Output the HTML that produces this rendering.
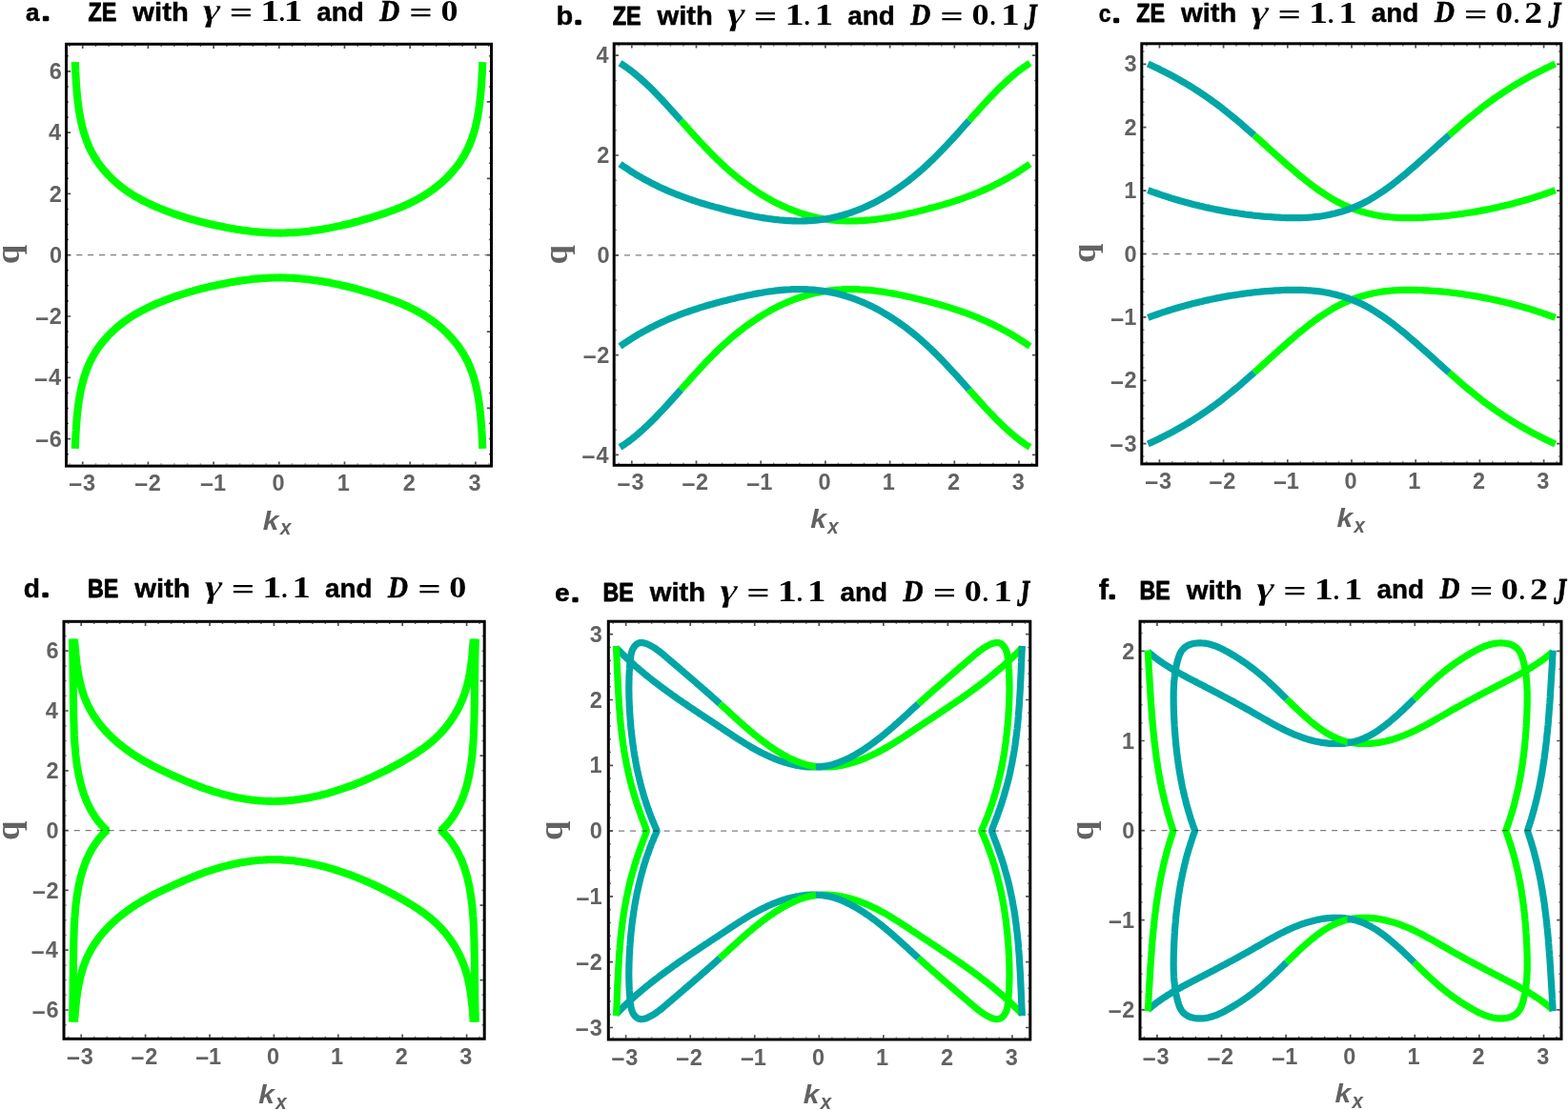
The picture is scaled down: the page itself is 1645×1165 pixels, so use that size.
<!DOCTYPE html>
<html><head><meta charset="utf-8"><title>Figure</title>
<style>html,body{margin:0;padding:0;background:#fff}svg{display:block}text{font-kerning:none;white-space:pre}</style></head><body>
<svg width="1645" height="1165" viewBox="0 0 1645 1165">
<rect width="1645" height="1165" fill="#fff"/>
<g id="panel-a">
<g>
<path d="M78.8 65.1L78.9 67.6L79.0 70.0L79.1 72.5L79.2 75.0L79.4 77.4L79.5 79.9L79.6 82.3L79.8 84.8L79.9 87.3L80.1 89.7L80.3 92.2L80.5 94.7L80.7 97.1L80.9 99.6L81.1 102.0L81.4 104.5L81.7 106.9L82.0 109.4L82.3 111.9L82.7 114.3L83.0 116.7L83.4 119.2L83.9 121.6L84.3 124.1L84.8 126.5L85.3 128.9L85.9 131.3L86.5 133.7L87.1 136.1L87.8 138.5L88.5 140.9L89.3 143.2L90.1 145.5L90.9 147.9L91.8 150.1L92.8 152.4L93.7 154.7L94.8 156.9L95.9 159.1L97.1 161.3L98.3 163.4L99.5 165.5L100.8 167.6L102.2 169.7L103.6 171.7L105.1 173.7L106.6 175.6L108.2 177.6L109.8 179.5L111.4 181.3L113.1 183.2L114.8 185.0L116.5 186.7L118.3 188.4L120.1 190.1L122.0 191.8L123.9 193.4L125.8 195.0L127.7 196.5L129.7 198.0L131.7 199.5L133.7 200.9L135.7 202.3L137.8 203.6L139.9 204.9L142.0 206.2L144.2 207.4L146.3 208.6L148.5 209.8L150.7 210.9L152.9 212.0L155.1 213.1L157.4 214.2L159.6 215.2L161.9 216.2L164.1 217.2L166.4 218.1L168.7 219.1L171.0 220.0L173.3 220.9L175.6 221.8L177.9 222.6L180.2 223.5L182.5 224.3L184.8 225.1L187.2 225.9L189.5 226.7L191.9 227.4L194.2 228.1L196.6 228.9L198.9 229.6L201.3 230.2L203.7 230.9L206.1 231.6L208.5 232.2L210.8 232.8L213.2 233.4L215.6 234.0L218.0 234.6L220.4 235.2L222.9 235.7L225.3 236.3L227.7 236.8L230.1 237.3L232.5 237.8L235.0 238.3L237.4 238.8L239.8 239.2L242.3 239.7L244.7 240.1L247.1 240.5L249.6 240.9L252.0 241.3L254.5 241.7L256.9 242.0L259.4 242.3L261.8 242.6L264.3 242.9L266.8 243.2L269.2 243.4L271.7 243.6L274.1 243.8L276.6 244.0L279.0 244.1L281.5 244.3L284.0 244.4L286.4 244.5L288.9 244.5L291.3 244.5L293.8 244.6L296.3 244.5L298.7 244.5L301.2 244.4L303.6 244.3L306.1 244.2L308.6 244.1L311.0 243.9L313.5 243.7L315.9 243.5L318.4 243.3L320.8 243.0L323.3 242.8L325.7 242.5L328.2 242.1L330.6 241.8L333.0 241.4L335.5 241.1L337.9 240.7L340.3 240.3L342.8 239.8L345.2 239.4L347.6 238.9L350.1 238.4L352.5 237.9L354.9 237.4L357.3 236.9L359.7 236.3L362.2 235.8L364.6 235.2L367.0 234.6L369.4 234.0L371.8 233.3L374.2 232.7L376.6 232.1L379.0 231.4L381.3 230.7L383.7 230.0L386.1 229.3L388.5 228.6L390.9 227.9L393.2 227.2L395.6 226.4L398.0 225.7L400.3 224.9L402.7 224.1L405.0 223.3L407.3 222.5L409.6 221.7L412.0 220.8L414.3 220.0L416.6 219.1L418.8 218.2L421.1 217.2L423.4 216.3L425.6 215.3L427.9 214.3L430.1 213.2L432.3 212.1L434.5 211.0L436.6 209.9L438.8 208.7L440.9 207.5L443.1 206.3L445.2 205.0L447.2 203.7L449.3 202.3L451.3 200.9L453.4 199.5L455.4 198.0L457.3 196.5L459.3 195.0L461.2 193.4L463.1 191.8L464.9 190.1L466.8 188.4L468.6 186.7L470.3 184.9L472.0 183.1L473.7 181.3L475.3 179.4L476.9 177.5L478.5 175.6L480.0 173.7L481.5 171.7L482.9 169.6L484.2 167.6L485.6 165.5L486.8 163.4L488.0 161.2L489.2 159.1L490.3 156.9L491.4 154.6L492.4 152.4L493.3 150.1L494.2 147.8L495.1 145.5L495.9 143.2L496.6 140.9L497.4 138.5L498.0 136.1L498.7 133.7L499.2 131.3L499.8 128.9L500.3 126.5L500.8 124.1L501.3 121.7L501.7 119.2L502.1 116.8L502.4 114.3L502.8 111.9L503.1 109.4L503.4 107.0L503.7 104.5L503.9 102.0L504.2 99.6L504.4 97.1L504.6 94.6L504.8 92.2L505.0 89.7L505.2 87.3L505.3 84.8L505.5 82.3L505.6 79.9L505.8 77.4L505.9 75.0L506.0 72.5L506.1 70.0L506.2 67.6L506.3 65.1" fill="none" stroke="#00ff00" stroke-width="8.10" stroke-linejoin="round" stroke-linecap="butt" stroke-miterlimit="10"/>
<path d="M78.8 470.9L78.9 468.4L79.0 466.0L79.1 463.5L79.2 461.0L79.4 458.6L79.5 456.1L79.6 453.7L79.8 451.2L79.9 448.7L80.1 446.3L80.3 443.8L80.5 441.3L80.7 438.9L80.9 436.4L81.1 434.0L81.4 431.5L81.7 429.1L82.0 426.6L82.3 424.1L82.7 421.7L83.0 419.3L83.4 416.8L83.9 414.4L84.3 411.9L84.8 409.5L85.3 407.1L85.9 404.7L86.5 402.3L87.1 399.9L87.8 397.5L88.5 395.1L89.3 392.8L90.1 390.5L90.9 388.1L91.8 385.9L92.8 383.6L93.7 381.3L94.8 379.1L95.9 376.9L97.1 374.7L98.3 372.6L99.5 370.5L100.8 368.4L102.2 366.3L103.6 364.3L105.1 362.3L106.6 360.4L108.2 358.4L109.8 356.5L111.4 354.7L113.1 352.8L114.8 351.0L116.5 349.3L118.3 347.6L120.1 345.9L122.0 344.2L123.9 342.6L125.8 341.0L127.7 339.5L129.7 338.0L131.7 336.5L133.7 335.1L135.7 333.7L137.8 332.4L139.9 331.1L142.0 329.8L144.2 328.6L146.3 327.4L148.5 326.2L150.7 325.1L152.9 324.0L155.1 322.9L157.4 321.8L159.6 320.8L161.9 319.8L164.1 318.8L166.4 317.9L168.7 316.9L171.0 316.0L173.3 315.1L175.6 314.2L177.9 313.4L180.2 312.5L182.5 311.7L184.8 310.9L187.2 310.1L189.5 309.3L191.9 308.6L194.2 307.9L196.6 307.1L198.9 306.4L201.3 305.8L203.7 305.1L206.1 304.4L208.5 303.8L210.8 303.2L213.2 302.6L215.6 302.0L218.0 301.4L220.4 300.8L222.9 300.3L225.3 299.7L227.7 299.2L230.1 298.7L232.5 298.2L235.0 297.7L237.4 297.2L239.8 296.8L242.3 296.3L244.7 295.9L247.1 295.5L249.6 295.1L252.0 294.7L254.5 294.3L256.9 294.0L259.4 293.7L261.8 293.4L264.3 293.1L266.8 292.8L269.2 292.6L271.7 292.4L274.1 292.2L276.6 292.0L279.0 291.9L281.5 291.7L284.0 291.6L286.4 291.5L288.9 291.5L291.3 291.5L293.8 291.4L296.3 291.5L298.7 291.5L301.2 291.6L303.6 291.7L306.1 291.8L308.6 291.9L311.0 292.1L313.5 292.3L315.9 292.5L318.4 292.7L320.8 293.0L323.3 293.2L325.7 293.5L328.2 293.9L330.6 294.2L333.0 294.6L335.5 294.9L337.9 295.3L340.3 295.7L342.8 296.2L345.2 296.6L347.6 297.1L350.1 297.6L352.5 298.1L354.9 298.6L357.3 299.1L359.7 299.7L362.2 300.2L364.6 300.8L367.0 301.4L369.4 302.0L371.8 302.7L374.2 303.3L376.6 303.9L379.0 304.6L381.3 305.3L383.7 306.0L386.1 306.7L388.5 307.4L390.9 308.1L393.2 308.8L395.6 309.6L398.0 310.3L400.3 311.1L402.7 311.9L405.0 312.7L407.3 313.5L409.6 314.3L412.0 315.2L414.3 316.0L416.6 316.9L418.8 317.8L421.1 318.8L423.4 319.7L425.6 320.7L427.9 321.7L430.1 322.8L432.3 323.9L434.5 325.0L436.6 326.1L438.8 327.3L440.9 328.5L443.1 329.7L445.2 331.0L447.2 332.3L449.3 333.7L451.3 335.1L453.4 336.5L455.4 338.0L457.3 339.5L459.3 341.0L461.2 342.6L463.1 344.2L464.9 345.9L466.8 347.6L468.6 349.3L470.3 351.1L472.0 352.9L473.7 354.7L475.3 356.6L476.9 358.5L478.5 360.4L480.0 362.3L481.5 364.3L482.9 366.4L484.2 368.4L485.6 370.5L486.8 372.6L488.0 374.8L489.2 376.9L490.3 379.1L491.4 381.4L492.4 383.6L493.3 385.9L494.2 388.2L495.1 390.5L495.9 392.8L496.6 395.1L497.4 397.5L498.0 399.9L498.7 402.3L499.2 404.7L499.8 407.1L500.3 409.5L500.8 411.9L501.3 414.3L501.7 416.8L502.1 419.2L502.4 421.7L502.8 424.1L503.1 426.6L503.4 429.0L503.7 431.5L503.9 434.0L504.2 436.4L504.4 438.9L504.6 441.4L504.8 443.8L505.0 446.3L505.2 448.7L505.3 451.2L505.5 453.7L505.6 456.1L505.8 458.6L505.9 461.0L506.0 463.5L506.1 466.0L506.2 468.4L506.3 470.9" fill="none" stroke="#00ff00" stroke-width="8.10" stroke-linejoin="round" stroke-linecap="butt" stroke-miterlimit="10"/>
</g>
<path d="M68.30 267.70H514.00" stroke="#000" stroke-opacity="0.5" stroke-width="1.3" stroke-dasharray="6.1 5.8" fill="none"/>
<path d="M86.70 487.60L86.70 484.40M86.70 47.80L86.70 51.00M155.40 487.60L155.40 484.40M155.40 47.80L155.40 51.00M224.10 487.60L224.10 484.40M224.10 47.80L224.10 51.00M292.80 487.60L292.80 484.40M292.80 47.80L292.80 51.00M361.50 487.60L361.50 484.40M361.50 47.80L361.50 51.00M430.20 487.60L430.20 484.40M430.20 47.80L430.20 51.00M498.90 487.60L498.90 484.40M498.90 47.80L498.90 51.00M71.00 460.60L74.20 460.60M514.00 428.45L510.80 428.45M71.00 396.30L74.20 396.30M514.00 348.07L510.80 348.07M71.00 332.00L74.20 332.00M71.00 267.70L74.20 267.70M514.00 267.70L510.80 267.70M71.00 203.40L74.20 203.40M514.00 187.32L510.80 187.32M71.00 139.10L74.20 139.10M514.00 106.95L510.80 106.95M71.00 74.80L74.20 74.80" stroke="#505050" stroke-width="1.7" fill="none"/>
<path d="M72.96 487.60L72.96 486.50M72.96 47.80L72.96 48.90M100.44 487.60L100.44 486.50M100.44 47.80L100.44 48.90M114.18 487.60L114.18 486.50M114.18 47.80L114.18 48.90M127.92 487.60L127.92 486.50M127.92 47.80L127.92 48.90M141.66 487.60L141.66 486.50M141.66 47.80L141.66 48.90M169.14 487.60L169.14 486.50M169.14 47.80L169.14 48.90M182.88 487.60L182.88 486.50M182.88 47.80L182.88 48.90M196.62 487.60L196.62 486.50M196.62 47.80L196.62 48.90M210.36 487.60L210.36 486.50M210.36 47.80L210.36 48.90M237.84 487.60L237.84 486.50M237.84 47.80L237.84 48.90M251.58 487.60L251.58 486.50M251.58 47.80L251.58 48.90M265.32 487.60L265.32 486.50M265.32 47.80L265.32 48.90M279.06 487.60L279.06 486.50M279.06 47.80L279.06 48.90M306.54 487.60L306.54 486.50M306.54 47.80L306.54 48.90M320.28 487.60L320.28 486.50M320.28 47.80L320.28 48.90M334.02 487.60L334.02 486.50M334.02 47.80L334.02 48.90M347.76 487.60L347.76 486.50M347.76 47.80L347.76 48.90M375.24 487.60L375.24 486.50M375.24 47.80L375.24 48.90M388.98 487.60L388.98 486.50M388.98 47.80L388.98 48.90M402.72 487.60L402.72 486.50M402.72 47.80L402.72 48.90M416.46 487.60L416.46 486.50M416.46 47.80L416.46 48.90M443.94 487.60L443.94 486.50M443.94 47.80L443.94 48.90M457.68 487.60L457.68 486.50M457.68 47.80L457.68 48.90M471.42 487.60L471.42 486.50M471.42 47.80L471.42 48.90M485.16 487.60L485.16 486.50M485.16 47.80L485.16 48.90M512.64 487.60L512.64 486.50M512.64 47.80L512.64 48.90M71.00 476.67L72.10 476.67M514.00 476.67L512.90 476.67M514.00 460.60L512.90 460.60M71.00 444.52L72.10 444.52M514.00 444.52L512.90 444.52M71.00 428.45L72.10 428.45M71.00 412.38L72.10 412.38M514.00 412.38L512.90 412.38M514.00 396.30L512.90 396.30M71.00 380.22L72.10 380.22M514.00 380.22L512.90 380.22M71.00 364.15L72.10 364.15M514.00 364.15L512.90 364.15M71.00 348.07L72.10 348.07M514.00 332.00L512.90 332.00M71.00 315.92L72.10 315.92M514.00 315.92L512.90 315.92M71.00 299.85L72.10 299.85M514.00 299.85L512.90 299.85M71.00 283.77L72.10 283.77M514.00 283.77L512.90 283.77M71.00 251.62L72.10 251.62M514.00 251.62L512.90 251.62M71.00 235.55L72.10 235.55M514.00 235.55L512.90 235.55M71.00 219.47L72.10 219.47M514.00 219.47L512.90 219.47M514.00 203.40L512.90 203.40M71.00 187.32L72.10 187.32M71.00 171.25L72.10 171.25M514.00 171.25L512.90 171.25M71.00 155.18L72.10 155.18M514.00 155.18L512.90 155.18M514.00 139.10L512.90 139.10M71.00 123.03L72.10 123.03M514.00 123.03L512.90 123.03M71.00 106.95L72.10 106.95M71.00 90.88L72.10 90.88M514.00 90.88L512.90 90.88M514.00 74.80L512.90 74.80M71.00 58.72L72.10 58.72M514.00 58.72L512.90 58.72" stroke="#666" stroke-width="1.5" fill="none"/>
<rect x="69.50" y="46.30" width="446.00" height="442.80" fill="none" stroke="#000" stroke-width="3.00"/>
<text><tspan x="71.99" y="517.21" textLength="14.32" lengthAdjust="spacingAndGlyphs" font-family="'Liberation Sans',sans-serif" font-weight="bold" font-style="normal" font-size="24.69" fill="#626262">−</tspan><tspan x="87.07" y="514.70" font-family="'Liberation Sans',sans-serif" font-weight="bold" font-style="normal" font-size="23.50" fill="#626262">3</tspan></text>
<text><tspan x="140.88" y="517.21" textLength="14.32" lengthAdjust="spacingAndGlyphs" font-family="'Liberation Sans',sans-serif" font-weight="bold" font-style="normal" font-size="24.69" fill="#626262">−</tspan><tspan x="155.68" y="514.70" font-family="'Liberation Sans',sans-serif" font-weight="bold" font-style="normal" font-size="23.50" fill="#626262">2</tspan></text>
<text><tspan x="209.76" y="517.21" textLength="14.32" lengthAdjust="spacingAndGlyphs" font-family="'Liberation Sans',sans-serif" font-weight="bold" font-style="normal" font-size="24.69" fill="#626262">−</tspan><tspan x="223.90" y="514.70" font-family="'Liberation Sans',sans-serif" font-weight="bold" font-style="normal" font-size="23.50" fill="#626262">1</tspan></text>
<text><tspan x="285.38" y="514.70" font-family="'Liberation Sans',sans-serif" font-weight="bold" font-style="normal" font-size="23.50" fill="#626262">0</tspan></text>
<text><tspan x="353.65" y="514.70" font-family="'Liberation Sans',sans-serif" font-weight="bold" font-style="normal" font-size="23.50" fill="#626262">1</tspan></text>
<text><tspan x="422.83" y="514.70" font-family="'Liberation Sans',sans-serif" font-weight="bold" font-style="normal" font-size="23.50" fill="#626262">2</tspan></text>
<text><tspan x="491.62" y="514.70" font-family="'Liberation Sans',sans-serif" font-weight="bold" font-style="normal" font-size="23.50" fill="#626262">3</tspan></text>
<text><tspan x="37.02" y="471.26" textLength="14.32" lengthAdjust="spacingAndGlyphs" font-family="'Liberation Sans',sans-serif" font-weight="bold" font-style="normal" font-size="24.69" fill="#626262">−</tspan><tspan x="51.78" y="468.75" font-family="'Liberation Sans',sans-serif" font-weight="bold" font-style="normal" font-size="23.50" fill="#626262">6</tspan></text>
<text><tspan x="35.79" y="406.96" textLength="14.32" lengthAdjust="spacingAndGlyphs" font-family="'Liberation Sans',sans-serif" font-weight="bold" font-style="normal" font-size="24.69" fill="#626262">−</tspan><tspan x="51.06" y="404.45" font-family="'Liberation Sans',sans-serif" font-weight="bold" font-style="normal" font-size="23.50" fill="#626262">4</tspan></text>
<text><tspan x="37.07" y="342.66" textLength="14.32" lengthAdjust="spacingAndGlyphs" font-family="'Liberation Sans',sans-serif" font-weight="bold" font-style="normal" font-size="24.69" fill="#626262">−</tspan><tspan x="51.87" y="340.15" font-family="'Liberation Sans',sans-serif" font-weight="bold" font-style="normal" font-size="23.50" fill="#626262">2</tspan></text>
<text><tspan x="51.89" y="275.85" font-family="'Liberation Sans',sans-serif" font-weight="bold" font-style="normal" font-size="23.50" fill="#626262">0</tspan></text>
<text><tspan x="51.87" y="211.55" font-family="'Liberation Sans',sans-serif" font-weight="bold" font-style="normal" font-size="23.50" fill="#626262">2</tspan></text>
<text><tspan x="51.06" y="147.25" font-family="'Liberation Sans',sans-serif" font-weight="bold" font-style="normal" font-size="23.50" fill="#626262">4</tspan></text>
<text><tspan x="51.78" y="82.95" font-family="'Liberation Sans',sans-serif" font-weight="bold" font-style="normal" font-size="23.50" fill="#626262">6</tspan></text>
</g>
<g id="panel-b">
<g>
<path d="M714.4 126.6L715.3 127.7L718.0 130.7L720.7 133.7L723.4 136.7L726.1 139.8L728.8 142.7L731.6 145.7L734.3 148.7L737.0 151.6L739.7 154.5L742.4 157.3L745.1 160.1L747.8 162.8L750.5 165.5L753.2 168.2L755.9 170.7L758.6 173.3L761.3 175.7L764.0 178.1L766.7 180.5L769.4 182.8L772.1 185.0L774.8 187.2L777.5 189.3L780.2 191.4L782.9 193.4L785.7 195.4L788.4 197.3L791.1 199.1L793.8 201.0L796.5 202.7L799.2 204.4L801.9 206.0L804.6 207.6L807.3 209.2L810.0 210.7L812.7 212.1L815.4 213.5L818.1 214.8L820.8 216.1L823.5 217.3L826.2 218.5L828.9 219.6L831.6 220.7L834.3 221.7L837.0 222.7L839.8 223.6L842.5 224.5L845.2 225.3L847.9 226.1L850.6 226.8L853.3 227.5L856.0 228.1L858.7 228.7L861.4 229.2L864.1 229.7L866.8 230.1L869.5 230.5L872.2 230.8L874.9 231.1L877.6 231.4L880.3 231.6L883.0 231.7L885.7 231.9L888.4 231.9L891.1 232.0L893.9 232.0L896.6 231.9L899.3 231.9L902.0 231.7L904.7 231.6L907.4 231.4L910.1 231.2L912.8 231.0L915.5 230.7L918.2 230.4L920.9 230.0L923.6 229.7L926.3 229.3L929.0 228.9L931.7 228.4L934.4 228.0L937.1 227.5L939.8 227.0L942.5 226.4L945.2 225.9L948.0 225.3L950.7 224.7L953.4 224.1L956.1 223.5L958.8 222.9L961.5 222.2L964.2 221.6L966.9 220.9L969.6 220.2L972.3 219.5L975.0 218.8L977.7 218.1L980.4 217.4L983.1 216.6L985.8 215.9L988.5 215.1L991.2 214.3L993.9 213.5L996.6 212.7L999.3 211.8L1002.1 210.9L1004.8 210.0L1007.5 209.1L1010.2 208.1L1012.9 207.2L1015.6 206.2L1018.3 205.2L1021.0 204.1L1023.7 203.0L1026.4 201.9L1029.1 200.8L1031.8 199.6L1034.5 198.4L1037.2 197.2L1039.9 195.9L1042.6 194.6L1045.3 193.2L1048.0 191.9L1050.7 190.4L1053.4 189.0L1056.2 187.5L1058.9 185.9L1061.6 184.4L1064.3 182.8L1067.0 181.1L1069.7 179.4L1072.4 177.6L1075.1 175.8L1077.8 174.0L1080.5 172.1" fill="none" stroke="#00ff00" stroke-width="7.20" stroke-linejoin="round" stroke-linecap="butt" stroke-miterlimit="10"/>
<path d="M1080.6 66.2L1077.9 67.9L1075.2 69.7L1072.5 71.6L1069.8 73.6L1067.1 75.7L1064.4 77.9L1061.7 80.2L1059.0 82.5L1056.3 85.0L1053.5 87.5L1050.8 90.1L1048.1 92.7L1045.4 95.4L1042.7 98.2L1040.0 101.0L1037.3 103.8L1034.6 106.7L1031.9 109.6L1029.2 112.6L1026.5 115.6L1023.8 118.6L1021.1 121.6L1018.4 124.6L1016.6 126.6" fill="none" stroke="#00ff00" stroke-width="7.20" stroke-linejoin="round" stroke-linecap="butt" stroke-miterlimit="10"/>
<path d="M714.4 409.0L715.3 407.9L718.0 404.9L720.7 401.9L723.4 398.9L726.1 395.8L728.8 392.9L731.6 389.9L734.3 386.9L737.0 384.0L739.7 381.1L742.4 378.3L745.1 375.5L747.8 372.8L750.5 370.1L753.2 367.4L755.9 364.9L758.6 362.3L761.3 359.9L764.0 357.5L766.7 355.1L769.4 352.8L772.1 350.6L774.8 348.4L777.5 346.3L780.2 344.2L782.9 342.2L785.7 340.2L788.4 338.3L791.1 336.5L793.8 334.6L796.5 332.9L799.2 331.2L801.9 329.6L804.6 328.0L807.3 326.4L810.0 324.9L812.7 323.5L815.4 322.1L818.1 320.8L820.8 319.5L823.5 318.3L826.2 317.1L828.9 316.0L831.6 314.9L834.3 313.9L837.0 312.9L839.8 312.0L842.5 311.1L845.2 310.3L847.9 309.5L850.6 308.8L853.3 308.1L856.0 307.5L858.7 306.9L861.4 306.4L864.1 305.9L866.8 305.5L869.5 305.1L872.2 304.8L874.9 304.5L877.6 304.2L880.3 304.0L883.0 303.9L885.7 303.7L888.4 303.7L891.1 303.6L893.9 303.6L896.6 303.7L899.3 303.7L902.0 303.9L904.7 304.0L907.4 304.2L910.1 304.4L912.8 304.6L915.5 304.9L918.2 305.2L920.9 305.6L923.6 305.9L926.3 306.3L929.0 306.7L931.7 307.2L934.4 307.6L937.1 308.1L939.8 308.6L942.5 309.2L945.2 309.7L948.0 310.3L950.7 310.9L953.4 311.5L956.1 312.1L958.8 312.7L961.5 313.4L964.2 314.0L966.9 314.7L969.6 315.4L972.3 316.1L975.0 316.8L977.7 317.5L980.4 318.2L983.1 319.0L985.8 319.7L988.5 320.5L991.2 321.3L993.9 322.1L996.6 322.9L999.3 323.8L1002.1 324.7L1004.8 325.6L1007.5 326.5L1010.2 327.5L1012.9 328.4L1015.6 329.4L1018.3 330.4L1021.0 331.5L1023.7 332.6L1026.4 333.7L1029.1 334.8L1031.8 336.0L1034.5 337.2L1037.2 338.4L1039.9 339.7L1042.6 341.0L1045.3 342.4L1048.0 343.7L1050.7 345.2L1053.4 346.6L1056.2 348.1L1058.9 349.7L1061.6 351.2L1064.3 352.8L1067.0 354.5L1069.7 356.2L1072.4 358.0L1075.1 359.8L1077.8 361.6L1080.5 363.5" fill="none" stroke="#00ff00" stroke-width="7.20" stroke-linejoin="round" stroke-linecap="butt" stroke-miterlimit="10"/>
<path d="M1080.6 469.4L1077.9 467.7L1075.2 465.9L1072.5 464.0L1069.8 462.0L1067.1 459.9L1064.4 457.7L1061.7 455.4L1059.0 453.1L1056.3 450.6L1053.5 448.1L1050.8 445.5L1048.1 442.9L1045.4 440.2L1042.7 437.4L1040.0 434.6L1037.3 431.8L1034.6 428.9L1031.9 426.0L1029.2 423.0L1026.5 420.0L1023.8 417.0L1021.1 414.0L1018.4 411.0L1016.6 409.0" fill="none" stroke="#00ff00" stroke-width="7.20" stroke-linejoin="round" stroke-linecap="butt" stroke-miterlimit="10"/>
<path d="M650.4 66.2L653.1 67.9L655.8 69.7L658.5 71.6L661.2 73.6L663.9 75.7L666.6 77.9L669.3 80.2L672.0 82.5L674.7 85.0L677.5 87.5L680.2 90.1L682.9 92.7L685.6 95.4L688.3 98.2L691.0 101.0L693.7 103.8L696.4 106.7L699.1 109.6L701.8 112.6L704.5 115.6L707.2 118.6L709.9 121.6L712.6 124.6L714.4 126.6" fill="none" stroke="#00a6a6" stroke-width="7.20" stroke-linejoin="round" stroke-linecap="butt" stroke-miterlimit="10"/>
<path d="M1016.6 126.6L1015.7 127.7L1013.0 130.7L1010.3 133.7L1007.6 136.7L1004.9 139.8L1002.2 142.7L999.4 145.7L996.7 148.7L994.0 151.6L991.3 154.5L988.6 157.3L985.9 160.1L983.2 162.8L980.5 165.5L977.8 168.2L975.1 170.7L972.4 173.3L969.7 175.7L967.0 178.1L964.3 180.5L961.6 182.8L958.9 185.0L956.2 187.2L953.5 189.3L950.8 191.4L948.1 193.4L945.3 195.4L942.6 197.3L939.9 199.1L937.2 201.0L934.5 202.7L931.8 204.4L929.1 206.0L926.4 207.6L923.7 209.2L921.0 210.7L918.3 212.1L915.6 213.5L912.9 214.8L910.2 216.1L907.5 217.3L904.8 218.5L902.1 219.6L899.4 220.7L896.7 221.7L894.0 222.7L891.2 223.6L888.5 224.5L885.8 225.3L883.1 226.1L880.4 226.8L877.7 227.5L875.0 228.1L872.3 228.7L869.6 229.2L866.9 229.7L864.2 230.1L861.5 230.5L858.8 230.8L856.1 231.1L853.4 231.4L850.7 231.6L848.0 231.7L845.3 231.9L842.6 231.9L839.9 232.0L837.1 232.0L834.4 231.9L831.7 231.9L829.0 231.7L826.3 231.6L823.6 231.4L820.9 231.2L818.2 231.0L815.5 230.7L812.8 230.4L810.1 230.0L807.4 229.7L804.7 229.3L802.0 228.9L799.3 228.4L796.6 228.0L793.9 227.5L791.2 227.0L788.5 226.4L785.8 225.9L783.0 225.3L780.3 224.7L777.6 224.1L774.9 223.5L772.2 222.9L769.5 222.2L766.8 221.6L764.1 220.9L761.4 220.2L758.7 219.5L756.0 218.8L753.3 218.1L750.6 217.4L747.9 216.6L745.2 215.9L742.5 215.1L739.8 214.3L737.1 213.5L734.4 212.7L731.7 211.8L728.9 210.9L726.2 210.0L723.5 209.1L720.8 208.1L718.1 207.2L715.4 206.2L712.7 205.2L710.0 204.1L707.3 203.0L704.6 201.9L701.9 200.8L699.2 199.6L696.5 198.4L693.8 197.2L691.1 195.9L688.4 194.6L685.7 193.2L683.0 191.9L680.3 190.4L677.6 189.0L674.8 187.5L672.1 185.9L669.4 184.4L666.7 182.8L664.0 181.1L661.3 179.4L658.6 177.6L655.9 175.8L653.2 174.0L650.5 172.1" fill="none" stroke="#00a6a6" stroke-width="7.20" stroke-linejoin="round" stroke-linecap="butt" stroke-miterlimit="10"/>
<path d="M650.4 469.4L653.1 467.7L655.8 465.9L658.5 464.0L661.2 462.0L663.9 459.9L666.6 457.7L669.3 455.4L672.0 453.1L674.7 450.6L677.5 448.1L680.2 445.5L682.9 442.9L685.6 440.2L688.3 437.4L691.0 434.6L693.7 431.8L696.4 428.9L699.1 426.0L701.8 423.0L704.5 420.0L707.2 417.0L709.9 414.0L712.6 411.0L714.4 409.0" fill="none" stroke="#00a6a6" stroke-width="7.20" stroke-linejoin="round" stroke-linecap="butt" stroke-miterlimit="10"/>
<path d="M1016.6 409.0L1015.7 407.9L1013.0 404.9L1010.3 401.9L1007.6 398.9L1004.9 395.8L1002.2 392.9L999.4 389.9L996.7 386.9L994.0 384.0L991.3 381.1L988.6 378.3L985.9 375.5L983.2 372.8L980.5 370.1L977.8 367.4L975.1 364.9L972.4 362.3L969.7 359.9L967.0 357.5L964.3 355.1L961.6 352.8L958.9 350.6L956.2 348.4L953.5 346.3L950.8 344.2L948.1 342.2L945.3 340.2L942.6 338.3L939.9 336.5L937.2 334.6L934.5 332.9L931.8 331.2L929.1 329.6L926.4 328.0L923.7 326.4L921.0 324.9L918.3 323.5L915.6 322.1L912.9 320.8L910.2 319.5L907.5 318.3L904.8 317.1L902.1 316.0L899.4 314.9L896.7 313.9L894.0 312.9L891.2 312.0L888.5 311.1L885.8 310.3L883.1 309.5L880.4 308.8L877.7 308.1L875.0 307.5L872.3 306.9L869.6 306.4L866.9 305.9L864.2 305.5L861.5 305.1L858.8 304.8L856.1 304.5L853.4 304.2L850.7 304.0L848.0 303.9L845.3 303.7L842.6 303.7L839.9 303.6L837.1 303.6L834.4 303.7L831.7 303.7L829.0 303.9L826.3 304.0L823.6 304.2L820.9 304.4L818.2 304.6L815.5 304.9L812.8 305.2L810.1 305.6L807.4 305.9L804.7 306.3L802.0 306.7L799.3 307.2L796.6 307.6L793.9 308.1L791.2 308.6L788.5 309.2L785.8 309.7L783.0 310.3L780.3 310.9L777.6 311.5L774.9 312.1L772.2 312.7L769.5 313.4L766.8 314.0L764.1 314.7L761.4 315.4L758.7 316.1L756.0 316.8L753.3 317.5L750.6 318.2L747.9 319.0L745.2 319.7L742.5 320.5L739.8 321.3L737.1 322.1L734.4 322.9L731.7 323.8L728.9 324.7L726.2 325.6L723.5 326.5L720.8 327.5L718.1 328.4L715.4 329.4L712.7 330.4L710.0 331.5L707.3 332.6L704.6 333.7L701.9 334.8L699.2 336.0L696.5 337.2L693.8 338.4L691.1 339.7L688.4 341.0L685.7 342.4L683.0 343.7L680.3 345.2L677.6 346.6L674.8 348.1L672.1 349.7L669.4 351.2L666.7 352.8L664.0 354.5L661.3 356.2L658.6 358.0L655.9 359.8L653.2 361.6L650.5 363.5" fill="none" stroke="#00a6a6" stroke-width="7.20" stroke-linejoin="round" stroke-linecap="butt" stroke-miterlimit="10"/>
</g>
<path d="M643.00 267.80H1086.20" stroke="#000" stroke-opacity="0.5" stroke-width="1.3" stroke-dasharray="6.1 5.8" fill="none"/>
<path d="M662.80 486.80L662.80 483.60M662.80 47.40L662.80 50.60M730.50 486.80L730.50 483.60M730.50 47.40L730.50 50.60M798.20 486.80L798.20 483.60M798.20 47.40L798.20 50.60M865.90 486.80L865.90 483.60M865.90 47.40L865.90 50.60M933.60 486.80L933.60 483.60M933.60 47.40L933.60 50.60M1001.30 486.80L1001.30 483.60M1001.30 47.40L1001.30 50.60M1069.00 486.80L1069.00 483.60M1069.00 47.40L1069.00 50.60M645.70 477.40L648.90 477.40M1086.20 477.40L1083.00 477.40M645.70 372.60L648.90 372.60M1086.20 372.60L1083.00 372.60M645.70 267.80L648.90 267.80M1086.20 267.80L1083.00 267.80M645.70 163.00L648.90 163.00M1086.20 163.00L1083.00 163.00M645.70 58.20L648.90 58.20M1086.20 58.20L1083.00 58.20" stroke="#505050" stroke-width="1.7" fill="none"/>
<path d="M649.26 486.80L649.26 485.70M649.26 47.40L649.26 48.50M676.34 486.80L676.34 485.70M676.34 47.40L676.34 48.50M689.88 486.80L689.88 485.70M689.88 47.40L689.88 48.50M703.42 486.80L703.42 485.70M703.42 47.40L703.42 48.50M716.96 486.80L716.96 485.70M716.96 47.40L716.96 48.50M744.04 486.80L744.04 485.70M744.04 47.40L744.04 48.50M757.58 486.80L757.58 485.70M757.58 47.40L757.58 48.50M771.12 486.80L771.12 485.70M771.12 47.40L771.12 48.50M784.66 486.80L784.66 485.70M784.66 47.40L784.66 48.50M811.74 486.80L811.74 485.70M811.74 47.40L811.74 48.50M825.28 486.80L825.28 485.70M825.28 47.40L825.28 48.50M838.82 486.80L838.82 485.70M838.82 47.40L838.82 48.50M852.36 486.80L852.36 485.70M852.36 47.40L852.36 48.50M879.44 486.80L879.44 485.70M879.44 47.40L879.44 48.50M892.98 486.80L892.98 485.70M892.98 47.40L892.98 48.50M906.52 486.80L906.52 485.70M906.52 47.40L906.52 48.50M920.06 486.80L920.06 485.70M920.06 47.40L920.06 48.50M947.14 486.80L947.14 485.70M947.14 47.40L947.14 48.50M960.68 486.80L960.68 485.70M960.68 47.40L960.68 48.50M974.22 486.80L974.22 485.70M974.22 47.40L974.22 48.50M987.76 486.80L987.76 485.70M987.76 47.40L987.76 48.50M1014.84 486.80L1014.84 485.70M1014.84 47.40L1014.84 48.50M1028.38 486.80L1028.38 485.70M1028.38 47.40L1028.38 48.50M1041.92 486.80L1041.92 485.70M1041.92 47.40L1041.92 48.50M1055.46 486.80L1055.46 485.70M1055.46 47.40L1055.46 48.50M1082.54 486.80L1082.54 485.70M1082.54 47.40L1082.54 48.50M645.70 451.20L646.80 451.20M1086.20 451.20L1085.10 451.20M645.70 425.00L646.80 425.00M1086.20 425.00L1085.10 425.00M645.70 398.80L646.80 398.80M1086.20 398.80L1085.10 398.80M645.70 346.40L646.80 346.40M1086.20 346.40L1085.10 346.40M645.70 320.20L646.80 320.20M1086.20 320.20L1085.10 320.20M645.70 294.00L646.80 294.00M1086.20 294.00L1085.10 294.00M645.70 241.60L646.80 241.60M1086.20 241.60L1085.10 241.60M645.70 215.40L646.80 215.40M1086.20 215.40L1085.10 215.40M645.70 189.20L646.80 189.20M1086.20 189.20L1085.10 189.20M645.70 136.80L646.80 136.80M1086.20 136.80L1085.10 136.80M645.70 110.60L646.80 110.60M1086.20 110.60L1085.10 110.60M645.70 84.40L646.80 84.40M1086.20 84.40L1085.10 84.40" stroke="#666" stroke-width="1.5" fill="none"/>
<rect x="644.20" y="45.90" width="443.50" height="442.40" fill="none" stroke="#000" stroke-width="3.00"/>
<text><tspan x="647.34" y="516.61" textLength="14.32" lengthAdjust="spacingAndGlyphs" font-family="'Liberation Sans',sans-serif" font-weight="bold" font-style="normal" font-size="24.69" fill="#626262">−</tspan><tspan x="662.42" y="514.10" font-family="'Liberation Sans',sans-serif" font-weight="bold" font-style="normal" font-size="23.50" fill="#626262">3</tspan></text>
<text><tspan x="715.23" y="516.61" textLength="14.32" lengthAdjust="spacingAndGlyphs" font-family="'Liberation Sans',sans-serif" font-weight="bold" font-style="normal" font-size="24.69" fill="#626262">−</tspan><tspan x="730.03" y="514.10" font-family="'Liberation Sans',sans-serif" font-weight="bold" font-style="normal" font-size="23.50" fill="#626262">2</tspan></text>
<text><tspan x="783.11" y="516.61" textLength="14.32" lengthAdjust="spacingAndGlyphs" font-family="'Liberation Sans',sans-serif" font-weight="bold" font-style="normal" font-size="24.69" fill="#626262">−</tspan><tspan x="797.25" y="514.10" font-family="'Liberation Sans',sans-serif" font-weight="bold" font-style="normal" font-size="23.50" fill="#626262">1</tspan></text>
<text><tspan x="858.48" y="514.10" font-family="'Liberation Sans',sans-serif" font-weight="bold" font-style="normal" font-size="23.50" fill="#626262">0</tspan></text>
<text><tspan x="925.75" y="514.10" font-family="'Liberation Sans',sans-serif" font-weight="bold" font-style="normal" font-size="23.50" fill="#626262">1</tspan></text>
<text><tspan x="993.93" y="514.10" font-family="'Liberation Sans',sans-serif" font-weight="bold" font-style="normal" font-size="23.50" fill="#626262">2</tspan></text>
<text><tspan x="1061.72" y="514.10" font-family="'Liberation Sans',sans-serif" font-weight="bold" font-style="normal" font-size="23.50" fill="#626262">3</tspan></text>
<text><tspan x="610.29" y="488.06" textLength="14.32" lengthAdjust="spacingAndGlyphs" font-family="'Liberation Sans',sans-serif" font-weight="bold" font-style="normal" font-size="24.69" fill="#626262">−</tspan><tspan x="625.56" y="485.55" font-family="'Liberation Sans',sans-serif" font-weight="bold" font-style="normal" font-size="23.50" fill="#626262">4</tspan></text>
<text><tspan x="611.57" y="383.26" textLength="14.32" lengthAdjust="spacingAndGlyphs" font-family="'Liberation Sans',sans-serif" font-weight="bold" font-style="normal" font-size="24.69" fill="#626262">−</tspan><tspan x="626.37" y="380.75" font-family="'Liberation Sans',sans-serif" font-weight="bold" font-style="normal" font-size="23.50" fill="#626262">2</tspan></text>
<text><tspan x="626.39" y="275.95" font-family="'Liberation Sans',sans-serif" font-weight="bold" font-style="normal" font-size="23.50" fill="#626262">0</tspan></text>
<text><tspan x="626.37" y="171.15" font-family="'Liberation Sans',sans-serif" font-weight="bold" font-style="normal" font-size="23.50" fill="#626262">2</tspan></text>
<text><tspan x="625.56" y="66.35" font-family="'Liberation Sans',sans-serif" font-weight="bold" font-style="normal" font-size="23.50" fill="#626262">4</tspan></text>
</g>
<g id="panel-c">
<g>
<path d="M1315.7 141.9L1317.2 143.2L1319.9 145.6L1322.6 148.0L1325.3 150.5L1328.0 152.9L1330.6 155.3L1333.3 157.7L1336.0 160.2L1338.7 162.6L1341.4 165.0L1344.1 167.4L1346.8 169.8L1349.5 172.2L1352.1 174.5L1354.8 176.8L1357.5 179.1L1360.2 181.4L1362.9 183.7L1365.6 185.9L1368.3 188.0L1371.0 190.2L1373.6 192.3L1376.3 194.3L1379.0 196.3L1381.7 198.3L1384.4 200.2L1387.1 202.0L1389.8 203.8L1392.5 205.5L1395.2 207.2L1397.8 208.8L1400.5 210.3L1403.2 211.8L1405.9 213.2L1408.6 214.5L1411.3 215.7L1414.0 216.9L1416.7 218.0L1419.3 219.0L1422.0 220.0L1424.7 220.9L1427.4 221.8L1430.1 222.6L1432.8 223.3L1435.5 224.0L1438.2 224.6L1440.8 225.2L1443.5 225.8L1446.2 226.2L1448.9 226.7L1451.6 227.1L1454.3 227.4L1457.0 227.7L1459.7 228.0L1462.4 228.2L1465.0 228.3L1467.7 228.5L1470.4 228.6L1473.1 228.7L1475.8 228.7L1478.5 228.7L1481.2 228.7L1483.9 228.7L1486.5 228.6L1489.2 228.5L1491.9 228.4L1494.6 228.2L1497.3 228.1L1500.0 227.9L1502.7 227.7L1505.4 227.5L1508.0 227.3L1510.7 227.1L1513.4 226.8L1516.1 226.5L1518.8 226.3L1521.5 226.0L1524.2 225.6L1526.9 225.3L1529.6 225.0L1532.2 224.6L1534.9 224.2L1537.6 223.8L1540.3 223.4L1543.0 223.0L1545.7 222.6L1548.4 222.1L1551.1 221.6L1553.7 221.1L1556.4 220.6L1559.1 220.1L1561.8 219.6L1564.5 219.0L1567.2 218.4L1569.9 217.9L1572.6 217.3L1575.3 216.6L1577.9 216.0L1580.6 215.3L1583.3 214.7L1586.0 214.0L1588.7 213.3L1591.4 212.6L1594.1 211.8L1596.8 211.1L1599.4 210.3L1602.1 209.5L1604.8 208.7L1607.5 207.9L1610.2 207.0L1612.9 206.1L1615.6 205.3L1618.3 204.4L1620.9 203.5L1623.6 202.5L1626.3 201.6L1629.0 200.6L1631.7 199.6" fill="none" stroke="#00ff00" stroke-width="7.20" stroke-linejoin="round" stroke-linecap="butt" stroke-miterlimit="10"/>
<path d="M1631.7 67.0L1629.0 68.2L1626.3 69.5L1623.6 70.7L1620.9 72.0L1618.3 73.4L1615.6 74.7L1612.9 76.1L1610.2 77.5L1607.5 78.9L1604.8 80.3L1602.1 81.8L1599.4 83.3L1596.8 84.8L1594.1 86.4L1591.4 88.0L1588.7 89.6L1586.0 91.3L1583.3 93.0L1580.6 94.7L1577.9 96.4L1575.3 98.2L1572.6 100.0L1569.9 101.9L1567.2 103.8L1564.5 105.7L1561.8 107.6L1559.1 109.6L1556.4 111.7L1553.7 113.7L1551.1 115.9L1548.4 118.0L1545.7 120.2L1543.0 122.4L1540.3 124.6L1537.6 126.8L1534.9 129.1L1532.2 131.4L1529.6 133.7L1526.9 136.1L1524.2 138.4L1521.5 140.8L1520.3 141.9" fill="none" stroke="#00ff00" stroke-width="7.20" stroke-linejoin="round" stroke-linecap="butt" stroke-miterlimit="10"/>
<path d="M1315.7 391.1L1317.2 389.8L1319.9 387.4L1322.6 385.0L1325.3 382.5L1328.0 380.1L1330.6 377.7L1333.3 375.3L1336.0 372.8L1338.7 370.4L1341.4 368.0L1344.1 365.6L1346.8 363.2L1349.5 360.8L1352.1 358.5L1354.8 356.2L1357.5 353.9L1360.2 351.6L1362.9 349.3L1365.6 347.1L1368.3 345.0L1371.0 342.8L1373.6 340.7L1376.3 338.7L1379.0 336.7L1381.7 334.7L1384.4 332.8L1387.1 331.0L1389.8 329.2L1392.5 327.5L1395.2 325.8L1397.8 324.2L1400.5 322.7L1403.2 321.2L1405.9 319.8L1408.6 318.5L1411.3 317.3L1414.0 316.1L1416.7 315.0L1419.3 314.0L1422.0 313.0L1424.7 312.1L1427.4 311.2L1430.1 310.4L1432.8 309.7L1435.5 309.0L1438.2 308.4L1440.8 307.8L1443.5 307.2L1446.2 306.8L1448.9 306.3L1451.6 305.9L1454.3 305.6L1457.0 305.3L1459.7 305.0L1462.4 304.8L1465.0 304.7L1467.7 304.5L1470.4 304.4L1473.1 304.3L1475.8 304.3L1478.5 304.3L1481.2 304.3L1483.9 304.3L1486.5 304.4L1489.2 304.5L1491.9 304.6L1494.6 304.8L1497.3 304.9L1500.0 305.1L1502.7 305.3L1505.4 305.5L1508.0 305.7L1510.7 305.9L1513.4 306.2L1516.1 306.5L1518.8 306.7L1521.5 307.0L1524.2 307.4L1526.9 307.7L1529.6 308.0L1532.2 308.4L1534.9 308.8L1537.6 309.2L1540.3 309.6L1543.0 310.0L1545.7 310.4L1548.4 310.9L1551.1 311.4L1553.7 311.9L1556.4 312.4L1559.1 312.9L1561.8 313.4L1564.5 314.0L1567.2 314.6L1569.9 315.1L1572.6 315.7L1575.3 316.4L1577.9 317.0L1580.6 317.7L1583.3 318.3L1586.0 319.0L1588.7 319.7L1591.4 320.4L1594.1 321.2L1596.8 321.9L1599.4 322.7L1602.1 323.5L1604.8 324.3L1607.5 325.1L1610.2 326.0L1612.9 326.9L1615.6 327.7L1618.3 328.6L1620.9 329.5L1623.6 330.5L1626.3 331.4L1629.0 332.4L1631.7 333.4" fill="none" stroke="#00ff00" stroke-width="7.20" stroke-linejoin="round" stroke-linecap="butt" stroke-miterlimit="10"/>
<path d="M1631.7 466.0L1629.0 464.8L1626.3 463.5L1623.6 462.3L1620.9 461.0L1618.3 459.6L1615.6 458.3L1612.9 456.9L1610.2 455.5L1607.5 454.1L1604.8 452.7L1602.1 451.2L1599.4 449.7L1596.8 448.2L1594.1 446.6L1591.4 445.0L1588.7 443.4L1586.0 441.7L1583.3 440.0L1580.6 438.3L1577.9 436.6L1575.3 434.8L1572.6 433.0L1569.9 431.1L1567.2 429.2L1564.5 427.3L1561.8 425.4L1559.1 423.4L1556.4 421.3L1553.7 419.3L1551.1 417.1L1548.4 415.0L1545.7 412.8L1543.0 410.6L1540.3 408.4L1537.6 406.2L1534.9 403.9L1532.2 401.6L1529.6 399.3L1526.9 396.9L1524.2 394.6L1521.5 392.2L1520.3 391.1" fill="none" stroke="#00ff00" stroke-width="7.20" stroke-linejoin="round" stroke-linecap="butt" stroke-miterlimit="10"/>
<path d="M1204.3 67.0L1207.0 68.2L1209.7 69.5L1212.4 70.7L1215.1 72.0L1217.7 73.4L1220.4 74.7L1223.1 76.1L1225.8 77.5L1228.5 78.9L1231.2 80.3L1233.9 81.8L1236.6 83.3L1239.2 84.8L1241.9 86.4L1244.6 88.0L1247.3 89.6L1250.0 91.3L1252.7 93.0L1255.4 94.7L1258.1 96.4L1260.7 98.2L1263.4 100.0L1266.1 101.9L1268.8 103.8L1271.5 105.7L1274.2 107.6L1276.9 109.6L1279.6 111.7L1282.3 113.7L1284.9 115.9L1287.6 118.0L1290.3 120.2L1293.0 122.4L1295.7 124.6L1298.4 126.8L1301.1 129.1L1303.8 131.4L1306.4 133.7L1309.1 136.1L1311.8 138.4L1314.5 140.8L1315.7 141.9" fill="none" stroke="#00a6a6" stroke-width="7.20" stroke-linejoin="round" stroke-linecap="butt" stroke-miterlimit="10"/>
<path d="M1520.3 141.9L1518.8 143.2L1516.1 145.6L1513.4 148.0L1510.7 150.5L1508.0 152.9L1505.4 155.3L1502.7 157.7L1500.0 160.2L1497.3 162.6L1494.6 165.0L1491.9 167.4L1489.2 169.8L1486.5 172.2L1483.9 174.5L1481.2 176.8L1478.5 179.1L1475.8 181.4L1473.1 183.7L1470.4 185.9L1467.7 188.0L1465.0 190.2L1462.4 192.3L1459.7 194.3L1457.0 196.3L1454.3 198.3L1451.6 200.2L1448.9 202.0L1446.2 203.8L1443.5 205.5L1440.8 207.2L1438.2 208.8L1435.5 210.3L1432.8 211.8L1430.1 213.2L1427.4 214.5L1424.7 215.7L1422.0 216.9L1419.3 218.0L1416.7 219.0L1414.0 220.0L1411.3 220.9L1408.6 221.8L1405.9 222.6L1403.2 223.3L1400.5 224.0L1397.8 224.6L1395.2 225.2L1392.5 225.8L1389.8 226.2L1387.1 226.7L1384.4 227.1L1381.7 227.4L1379.0 227.7L1376.3 228.0L1373.6 228.2L1371.0 228.3L1368.3 228.5L1365.6 228.6L1362.9 228.7L1360.2 228.7L1357.5 228.7L1354.8 228.7L1352.1 228.7L1349.5 228.6L1346.8 228.5L1344.1 228.4L1341.4 228.2L1338.7 228.1L1336.0 227.9L1333.3 227.7L1330.6 227.5L1328.0 227.3L1325.3 227.1L1322.6 226.8L1319.9 226.5L1317.2 226.3L1314.5 226.0L1311.8 225.6L1309.1 225.3L1306.4 225.0L1303.8 224.6L1301.1 224.2L1298.4 223.8L1295.7 223.4L1293.0 223.0L1290.3 222.6L1287.6 222.1L1284.9 221.6L1282.3 221.1L1279.6 220.6L1276.9 220.1L1274.2 219.6L1271.5 219.0L1268.8 218.4L1266.1 217.9L1263.4 217.3L1260.7 216.6L1258.1 216.0L1255.4 215.3L1252.7 214.7L1250.0 214.0L1247.3 213.3L1244.6 212.6L1241.9 211.8L1239.2 211.1L1236.6 210.3L1233.9 209.5L1231.2 208.7L1228.5 207.9L1225.8 207.0L1223.1 206.1L1220.4 205.3L1217.7 204.4L1215.1 203.5L1212.4 202.5L1209.7 201.6L1207.0 200.6L1204.3 199.6" fill="none" stroke="#00a6a6" stroke-width="7.20" stroke-linejoin="round" stroke-linecap="butt" stroke-miterlimit="10"/>
<path d="M1204.3 466.0L1207.0 464.8L1209.7 463.5L1212.4 462.3L1215.1 461.0L1217.7 459.6L1220.4 458.3L1223.1 456.9L1225.8 455.5L1228.5 454.1L1231.2 452.7L1233.9 451.2L1236.6 449.7L1239.2 448.2L1241.9 446.6L1244.6 445.0L1247.3 443.4L1250.0 441.7L1252.7 440.0L1255.4 438.3L1258.1 436.6L1260.7 434.8L1263.4 433.0L1266.1 431.1L1268.8 429.2L1271.5 427.3L1274.2 425.4L1276.9 423.4L1279.6 421.3L1282.3 419.3L1284.9 417.1L1287.6 415.0L1290.3 412.8L1293.0 410.6L1295.7 408.4L1298.4 406.2L1301.1 403.9L1303.8 401.6L1306.4 399.3L1309.1 396.9L1311.8 394.6L1314.5 392.2L1315.7 391.1" fill="none" stroke="#00a6a6" stroke-width="7.20" stroke-linejoin="round" stroke-linecap="butt" stroke-miterlimit="10"/>
<path d="M1520.3 391.1L1518.8 389.8L1516.1 387.4L1513.4 385.0L1510.7 382.5L1508.0 380.1L1505.4 377.7L1502.7 375.3L1500.0 372.8L1497.3 370.4L1494.6 368.0L1491.9 365.6L1489.2 363.2L1486.5 360.8L1483.9 358.5L1481.2 356.2L1478.5 353.9L1475.8 351.6L1473.1 349.3L1470.4 347.1L1467.7 345.0L1465.0 342.8L1462.4 340.7L1459.7 338.7L1457.0 336.7L1454.3 334.7L1451.6 332.8L1448.9 331.0L1446.2 329.2L1443.5 327.5L1440.8 325.8L1438.2 324.2L1435.5 322.7L1432.8 321.2L1430.1 319.8L1427.4 318.5L1424.7 317.3L1422.0 316.1L1419.3 315.0L1416.7 314.0L1414.0 313.0L1411.3 312.1L1408.6 311.2L1405.9 310.4L1403.2 309.7L1400.5 309.0L1397.8 308.4L1395.2 307.8L1392.5 307.2L1389.8 306.8L1387.1 306.3L1384.4 305.9L1381.7 305.6L1379.0 305.3L1376.3 305.0L1373.6 304.8L1371.0 304.7L1368.3 304.5L1365.6 304.4L1362.9 304.3L1360.2 304.3L1357.5 304.3L1354.8 304.3L1352.1 304.3L1349.5 304.4L1346.8 304.5L1344.1 304.6L1341.4 304.8L1338.7 304.9L1336.0 305.1L1333.3 305.3L1330.6 305.5L1328.0 305.7L1325.3 305.9L1322.6 306.2L1319.9 306.5L1317.2 306.7L1314.5 307.0L1311.8 307.4L1309.1 307.7L1306.4 308.0L1303.8 308.4L1301.1 308.8L1298.4 309.2L1295.7 309.6L1293.0 310.0L1290.3 310.4L1287.6 310.9L1284.9 311.4L1282.3 311.9L1279.6 312.4L1276.9 312.9L1274.2 313.4L1271.5 314.0L1268.8 314.6L1266.1 315.1L1263.4 315.7L1260.7 316.4L1258.1 317.0L1255.4 317.7L1252.7 318.3L1250.0 319.0L1247.3 319.7L1244.6 320.4L1241.9 321.2L1239.2 321.9L1236.6 322.7L1233.9 323.5L1231.2 324.3L1228.5 325.1L1225.8 326.0L1223.1 326.9L1220.4 327.7L1217.7 328.6L1215.1 329.5L1212.4 330.5L1209.7 331.4L1207.0 332.4L1204.3 333.4" fill="none" stroke="#00a6a6" stroke-width="7.20" stroke-linejoin="round" stroke-linecap="butt" stroke-miterlimit="10"/>
</g>
<path d="M1196.60 266.50H1636.30" stroke="#000" stroke-opacity="0.5" stroke-width="1.3" stroke-dasharray="6.1 5.8" fill="none"/>
<path d="M1216.40 485.40L1216.40 482.20M1216.40 47.30L1216.40 50.50M1283.60 485.40L1283.60 482.20M1283.60 47.30L1283.60 50.50M1350.80 485.40L1350.80 482.20M1350.80 47.30L1350.80 50.50M1418.00 485.40L1418.00 482.20M1418.00 47.30L1418.00 50.50M1485.20 485.40L1485.20 482.20M1485.20 47.30L1485.20 50.50M1552.40 485.40L1552.40 482.20M1552.40 47.30L1552.40 50.50M1619.60 485.40L1619.60 482.20M1619.60 47.30L1619.60 50.50M1199.30 465.70L1202.50 465.70M1636.30 465.70L1633.10 465.70M1199.30 399.30L1202.50 399.30M1636.30 399.30L1633.10 399.30M1199.30 332.90L1202.50 332.90M1636.30 332.90L1633.10 332.90M1199.30 266.50L1202.50 266.50M1636.30 266.50L1633.10 266.50M1199.30 200.10L1202.50 200.10M1636.30 200.10L1633.10 200.10M1199.30 133.70L1202.50 133.70M1636.30 133.70L1633.10 133.70M1199.30 67.30L1202.50 67.30M1636.30 67.30L1633.10 67.30" stroke="#505050" stroke-width="1.7" fill="none"/>
<path d="M1202.96 485.40L1202.96 484.30M1202.96 47.30L1202.96 48.40M1229.84 485.40L1229.84 484.30M1229.84 47.30L1229.84 48.40M1243.28 485.40L1243.28 484.30M1243.28 47.30L1243.28 48.40M1256.72 485.40L1256.72 484.30M1256.72 47.30L1256.72 48.40M1270.16 485.40L1270.16 484.30M1270.16 47.30L1270.16 48.40M1297.04 485.40L1297.04 484.30M1297.04 47.30L1297.04 48.40M1310.48 485.40L1310.48 484.30M1310.48 47.30L1310.48 48.40M1323.92 485.40L1323.92 484.30M1323.92 47.30L1323.92 48.40M1337.36 485.40L1337.36 484.30M1337.36 47.30L1337.36 48.40M1364.24 485.40L1364.24 484.30M1364.24 47.30L1364.24 48.40M1377.68 485.40L1377.68 484.30M1377.68 47.30L1377.68 48.40M1391.12 485.40L1391.12 484.30M1391.12 47.30L1391.12 48.40M1404.56 485.40L1404.56 484.30M1404.56 47.30L1404.56 48.40M1431.44 485.40L1431.44 484.30M1431.44 47.30L1431.44 48.40M1444.88 485.40L1444.88 484.30M1444.88 47.30L1444.88 48.40M1458.32 485.40L1458.32 484.30M1458.32 47.30L1458.32 48.40M1471.76 485.40L1471.76 484.30M1471.76 47.30L1471.76 48.40M1498.64 485.40L1498.64 484.30M1498.64 47.30L1498.64 48.40M1512.08 485.40L1512.08 484.30M1512.08 47.30L1512.08 48.40M1525.52 485.40L1525.52 484.30M1525.52 47.30L1525.52 48.40M1538.96 485.40L1538.96 484.30M1538.96 47.30L1538.96 48.40M1565.84 485.40L1565.84 484.30M1565.84 47.30L1565.84 48.40M1579.28 485.40L1579.28 484.30M1579.28 47.30L1579.28 48.40M1592.72 485.40L1592.72 484.30M1592.72 47.30L1592.72 48.40M1606.16 485.40L1606.16 484.30M1606.16 47.30L1606.16 48.40M1633.04 485.40L1633.04 484.30M1633.04 47.30L1633.04 48.40M1199.30 478.98L1200.40 478.98M1636.30 478.98L1635.20 478.98M1199.30 452.42L1200.40 452.42M1636.30 452.42L1635.20 452.42M1199.30 439.14L1200.40 439.14M1636.30 439.14L1635.20 439.14M1199.30 425.86L1200.40 425.86M1636.30 425.86L1635.20 425.86M1199.30 412.58L1200.40 412.58M1636.30 412.58L1635.20 412.58M1199.30 386.02L1200.40 386.02M1636.30 386.02L1635.20 386.02M1199.30 372.74L1200.40 372.74M1636.30 372.74L1635.20 372.74M1199.30 359.46L1200.40 359.46M1636.30 359.46L1635.20 359.46M1199.30 346.18L1200.40 346.18M1636.30 346.18L1635.20 346.18M1199.30 319.62L1200.40 319.62M1636.30 319.62L1635.20 319.62M1199.30 306.34L1200.40 306.34M1636.30 306.34L1635.20 306.34M1199.30 293.06L1200.40 293.06M1636.30 293.06L1635.20 293.06M1199.30 279.78L1200.40 279.78M1636.30 279.78L1635.20 279.78M1199.30 253.22L1200.40 253.22M1636.30 253.22L1635.20 253.22M1199.30 239.94L1200.40 239.94M1636.30 239.94L1635.20 239.94M1199.30 226.66L1200.40 226.66M1636.30 226.66L1635.20 226.66M1199.30 213.38L1200.40 213.38M1636.30 213.38L1635.20 213.38M1199.30 186.82L1200.40 186.82M1636.30 186.82L1635.20 186.82M1199.30 173.54L1200.40 173.54M1636.30 173.54L1635.20 173.54M1199.30 160.26L1200.40 160.26M1636.30 160.26L1635.20 160.26M1199.30 146.98L1200.40 146.98M1636.30 146.98L1635.20 146.98M1199.30 120.42L1200.40 120.42M1636.30 120.42L1635.20 120.42M1199.30 107.14L1200.40 107.14M1636.30 107.14L1635.20 107.14M1199.30 93.86L1200.40 93.86M1636.30 93.86L1635.20 93.86M1199.30 80.58L1200.40 80.58M1636.30 80.58L1635.20 80.58M1199.30 54.02L1200.40 54.02M1636.30 54.02L1635.20 54.02" stroke="#666" stroke-width="1.5" fill="none"/>
<rect x="1197.80" y="45.80" width="440.00" height="441.10" fill="none" stroke="#000" stroke-width="3.00"/>
<text><tspan x="1200.94" y="515.11" textLength="14.32" lengthAdjust="spacingAndGlyphs" font-family="'Liberation Sans',sans-serif" font-weight="bold" font-style="normal" font-size="24.69" fill="#626262">−</tspan><tspan x="1216.02" y="512.60" font-family="'Liberation Sans',sans-serif" font-weight="bold" font-style="normal" font-size="23.50" fill="#626262">3</tspan></text>
<text><tspan x="1268.33" y="515.11" textLength="14.32" lengthAdjust="spacingAndGlyphs" font-family="'Liberation Sans',sans-serif" font-weight="bold" font-style="normal" font-size="24.69" fill="#626262">−</tspan><tspan x="1283.13" y="512.60" font-family="'Liberation Sans',sans-serif" font-weight="bold" font-style="normal" font-size="23.50" fill="#626262">2</tspan></text>
<text><tspan x="1335.71" y="515.11" textLength="14.32" lengthAdjust="spacingAndGlyphs" font-family="'Liberation Sans',sans-serif" font-weight="bold" font-style="normal" font-size="24.69" fill="#626262">−</tspan><tspan x="1349.85" y="512.60" font-family="'Liberation Sans',sans-serif" font-weight="bold" font-style="normal" font-size="23.50" fill="#626262">1</tspan></text>
<text><tspan x="1410.58" y="512.60" font-family="'Liberation Sans',sans-serif" font-weight="bold" font-style="normal" font-size="23.50" fill="#626262">0</tspan></text>
<text><tspan x="1477.35" y="512.60" font-family="'Liberation Sans',sans-serif" font-weight="bold" font-style="normal" font-size="23.50" fill="#626262">1</tspan></text>
<text><tspan x="1545.03" y="512.60" font-family="'Liberation Sans',sans-serif" font-weight="bold" font-style="normal" font-size="23.50" fill="#626262">2</tspan></text>
<text><tspan x="1612.32" y="512.60" font-family="'Liberation Sans',sans-serif" font-weight="bold" font-style="normal" font-size="23.50" fill="#626262">3</tspan></text>
<text><tspan x="1164.30" y="476.36" textLength="14.32" lengthAdjust="spacingAndGlyphs" font-family="'Liberation Sans',sans-serif" font-weight="bold" font-style="normal" font-size="24.69" fill="#626262">−</tspan><tspan x="1179.38" y="473.85" font-family="'Liberation Sans',sans-serif" font-weight="bold" font-style="normal" font-size="23.50" fill="#626262">3</tspan></text>
<text><tspan x="1164.67" y="409.96" textLength="14.32" lengthAdjust="spacingAndGlyphs" font-family="'Liberation Sans',sans-serif" font-weight="bold" font-style="normal" font-size="24.69" fill="#626262">−</tspan><tspan x="1179.47" y="407.45" font-family="'Liberation Sans',sans-serif" font-weight="bold" font-style="normal" font-size="23.50" fill="#626262">2</tspan></text>
<text><tspan x="1165.05" y="343.56" textLength="14.32" lengthAdjust="spacingAndGlyphs" font-family="'Liberation Sans',sans-serif" font-weight="bold" font-style="normal" font-size="24.69" fill="#626262">−</tspan><tspan x="1179.18" y="341.05" font-family="'Liberation Sans',sans-serif" font-weight="bold" font-style="normal" font-size="23.50" fill="#626262">1</tspan></text>
<text><tspan x="1179.49" y="274.65" font-family="'Liberation Sans',sans-serif" font-weight="bold" font-style="normal" font-size="23.50" fill="#626262">0</tspan></text>
<text><tspan x="1179.18" y="208.25" font-family="'Liberation Sans',sans-serif" font-weight="bold" font-style="normal" font-size="23.50" fill="#626262">1</tspan></text>
<text><tspan x="1179.47" y="141.85" font-family="'Liberation Sans',sans-serif" font-weight="bold" font-style="normal" font-size="23.50" fill="#626262">2</tspan></text>
<text><tspan x="1179.38" y="75.45" font-family="'Liberation Sans',sans-serif" font-weight="bold" font-style="normal" font-size="23.50" fill="#626262">3</tspan></text>
</g>
<g id="panel-d">
<g>
<path d="M78.1 670.6L78.2 672.9L78.4 675.1L78.6 677.4L78.8 679.6L79.0 681.9L79.2 684.2L79.4 686.5L79.6 688.8L79.9 691.1L80.1 693.5L80.4 695.8L80.7 698.1L81.1 700.5L81.4 702.8L81.8 705.1L82.2 707.4L82.6 709.7L83.1 712.1L83.6 714.4L84.1 716.6L84.7 718.9L85.3 721.2L85.9 723.4L86.6 725.7L87.3 727.9L88.0 730.1L88.8 732.2L89.7 734.4L90.5 736.5L91.5 738.6L92.5 740.7L93.5 742.7L94.6 744.8L95.7 746.8L96.8 748.7L98.0 750.7L99.3 752.6L100.6 754.5L101.9 756.3L103.2 758.2L104.6 760.0L106.1 761.8L107.5 763.5L109.0 765.3L110.6 767.0L112.1 768.7L113.7 770.3L115.3 772.0L117.0 773.6L118.7 775.2L120.4 776.7L122.1 778.3L123.9 779.8L125.7 781.3L127.5 782.7L129.3 784.1L131.2 785.6L133.0 786.9L134.9 788.3L136.8 789.6L138.7 791.0L140.7 792.3L142.6 793.5L144.6 794.8L146.6 796.0L148.6 797.2L150.6 798.4L152.6 799.5L154.6 800.6L156.7 801.8L158.7 802.9L160.8 804.0L162.8 805.0L164.9 806.1L167.0 807.1L169.1 808.1L171.2 809.1L173.3 810.1L175.4 811.1L177.5 812.1L179.6 813.1L181.7 814.0L183.8 815.0L185.9 815.9L188.1 816.8L190.2 817.7L192.3 818.7L194.4 819.6L196.6 820.5L198.7 821.3L200.8 822.2L203.0 823.1L205.1 823.9L207.3 824.8L209.4 825.6L211.6 826.4L213.7 827.2L215.9 828.0L218.1 828.7L220.3 829.4L222.5 830.2L224.7 830.9L226.9 831.5L229.1 832.2L231.4 832.8L233.6 833.5L235.9 834.1L238.1 834.6L240.4 835.2L242.6 835.7L244.9 836.2L247.2 836.7L249.5 837.2L251.7 837.6L254.0 838.0L256.3 838.4L258.6 838.8L260.9 839.1L263.2 839.4L265.5 839.7L267.8 839.9L270.1 840.2L272.4 840.4L274.7 840.5L277.1 840.7L279.4 840.8L281.7 840.9L284.0 840.9L286.3 841.0L288.6 841.0L290.9 840.9L293.2 840.9L295.5 840.8L297.8 840.6L300.1 840.5L302.4 840.3L304.7 840.1L307.0 839.9L309.3 839.6L311.6 839.3L313.9 839.0L316.2 838.6L318.4 838.3L320.7 837.9L323.0 837.5L325.3 837.0L327.5 836.6L329.8 836.1L332.1 835.6L334.3 835.1L336.6 834.5L338.8 834.0L341.1 833.4L343.3 832.8L345.5 832.1L347.8 831.5L350.0 830.8L352.2 830.1L354.4 829.4L356.6 828.7L358.8 828.0L361.0 827.2L363.2 826.4L365.4 825.7L367.6 824.9L369.8 824.1L371.9 823.2L374.1 822.4L376.2 821.5L378.4 820.7L380.5 819.8L382.7 818.9L384.8 818.0L386.9 817.0L389.0 816.1L391.1 815.2L393.2 814.2L395.3 813.2L397.4 812.2L399.5 811.2L401.6 810.2L403.7 809.2L405.7 808.1L407.8 807.1L409.8 806.0L411.9 804.9L413.9 803.8L416.0 802.7L418.0 801.6L420.0 800.4L422.1 799.3L424.1 798.1L426.1 796.9L428.1 795.7L430.1 794.5L432.1 793.3L434.1 792.1L436.0 790.8L438.0 789.5L439.9 788.2L441.8 786.9L443.7 785.6L445.6 784.2L447.4 782.8L449.3 781.4L451.1 779.9L452.9 778.5L454.6 777.0L456.3 775.4L458.0 773.8L459.6 772.2L461.3 770.6L462.8 768.9L464.4 767.2L465.9 765.5L467.4 763.7L468.8 762.0L470.2 760.1L471.6 758.3L472.9 756.4L474.2 754.5L475.5 752.6L476.7 750.7L477.9 748.7L479.0 746.7L480.1 744.7L481.2 742.6L482.2 740.6L483.2 738.5L484.1 736.4L485.0 734.3L485.9 732.1L486.7 730.0L487.5 727.8L488.2 725.6L488.9 723.3L489.5 721.1L490.2 718.9L490.7 716.6L491.3 714.3L491.8 712.0L492.2 709.8L492.7 707.5L493.1 705.1L493.5 702.8L493.8 700.5L494.1 698.2L494.4 695.9L494.7 693.6L495.0 691.2L495.2 688.9L495.5 686.6L495.7 684.3L495.9 682.0L496.1 679.7L496.2 677.4L496.4 675.1L496.6 672.9L496.7 670.6" fill="none" stroke="#00ff00" stroke-width="8.10" stroke-linejoin="round" stroke-linecap="butt" stroke-miterlimit="10"/>
<path d="M78.1 1072.6L78.2 1070.3L78.4 1068.1L78.6 1065.8L78.8 1063.6L79.0 1061.3L79.2 1059.0L79.4 1056.7L79.6 1054.4L79.9 1052.1L80.1 1049.7L80.4 1047.4L80.7 1045.1L81.1 1042.7L81.4 1040.4L81.8 1038.1L82.2 1035.8L82.6 1033.5L83.1 1031.1L83.6 1028.8L84.1 1026.6L84.7 1024.3L85.3 1022.0L85.9 1019.8L86.6 1017.5L87.3 1015.3L88.0 1013.1L88.8 1011.0L89.7 1008.8L90.5 1006.7L91.5 1004.6L92.5 1002.5L93.5 1000.5L94.6 998.4L95.7 996.4L96.8 994.5L98.0 992.5L99.3 990.6L100.6 988.7L101.9 986.9L103.2 985.0L104.6 983.2L106.1 981.4L107.5 979.7L109.0 977.9L110.6 976.2L112.1 974.5L113.7 972.9L115.3 971.2L117.0 969.6L118.7 968.0L120.4 966.5L122.1 964.9L123.9 963.4L125.7 961.9L127.5 960.5L129.3 959.1L131.2 957.6L133.0 956.3L134.9 954.9L136.8 953.6L138.7 952.2L140.7 950.9L142.6 949.7L144.6 948.4L146.6 947.2L148.6 946.0L150.6 944.8L152.6 943.7L154.6 942.6L156.7 941.4L158.7 940.3L160.8 939.2L162.8 938.2L164.9 937.1L167.0 936.1L169.1 935.1L171.2 934.1L173.3 933.1L175.4 932.1L177.5 931.1L179.6 930.1L181.7 929.2L183.8 928.2L185.9 927.3L188.1 926.4L190.2 925.5L192.3 924.5L194.4 923.6L196.6 922.7L198.7 921.9L200.8 921.0L203.0 920.1L205.1 919.3L207.3 918.4L209.4 917.6L211.6 916.8L213.7 916.0L215.9 915.2L218.1 914.5L220.3 913.8L222.5 913.0L224.7 912.3L226.9 911.7L229.1 911.0L231.4 910.4L233.6 909.7L235.9 909.1L238.1 908.6L240.4 908.0L242.6 907.5L244.9 907.0L247.2 906.5L249.5 906.0L251.7 905.6L254.0 905.2L256.3 904.8L258.6 904.4L260.9 904.1L263.2 903.8L265.5 903.5L267.8 903.3L270.1 903.0L272.4 902.8L274.7 902.7L277.1 902.5L279.4 902.4L281.7 902.3L284.0 902.3L286.3 902.2L288.6 902.2L290.9 902.3L293.2 902.3L295.5 902.4L297.8 902.6L300.1 902.7L302.4 902.9L304.7 903.1L307.0 903.3L309.3 903.6L311.6 903.9L313.9 904.2L316.2 904.6L318.4 904.9L320.7 905.3L323.0 905.7L325.3 906.2L327.5 906.6L329.8 907.1L332.1 907.6L334.3 908.1L336.6 908.7L338.8 909.2L341.1 909.8L343.3 910.4L345.5 911.1L347.8 911.7L350.0 912.4L352.2 913.1L354.4 913.8L356.6 914.5L358.8 915.2L361.0 916.0L363.2 916.8L365.4 917.5L367.6 918.3L369.8 919.1L371.9 920.0L374.1 920.8L376.2 921.7L378.4 922.5L380.5 923.4L382.7 924.3L384.8 925.2L386.9 926.2L389.0 927.1L391.1 928.0L393.2 929.0L395.3 930.0L397.4 931.0L399.5 932.0L401.6 933.0L403.7 934.0L405.7 935.1L407.8 936.1L409.8 937.2L411.9 938.3L413.9 939.4L416.0 940.5L418.0 941.6L420.0 942.8L422.1 943.9L424.1 945.1L426.1 946.3L428.1 947.5L430.1 948.7L432.1 949.9L434.1 951.1L436.0 952.4L438.0 953.7L439.9 955.0L441.8 956.3L443.7 957.6L445.6 959.0L447.4 960.4L449.3 961.8L451.1 963.3L452.9 964.7L454.6 966.2L456.3 967.8L458.0 969.4L459.6 971.0L461.3 972.6L462.8 974.3L464.4 976.0L465.9 977.7L467.4 979.5L468.8 981.2L470.2 983.1L471.6 984.9L472.9 986.8L474.2 988.7L475.5 990.6L476.7 992.5L477.9 994.5L479.0 996.5L480.1 998.5L481.2 1000.6L482.2 1002.6L483.2 1004.7L484.1 1006.8L485.0 1008.9L485.9 1011.1L486.7 1013.2L487.5 1015.4L488.2 1017.6L488.9 1019.9L489.5 1022.1L490.2 1024.3L490.7 1026.6L491.3 1028.9L491.8 1031.2L492.2 1033.4L492.7 1035.7L493.1 1038.1L493.5 1040.4L493.8 1042.7L494.1 1045.0L494.4 1047.3L494.7 1049.6L495.0 1052.0L495.2 1054.3L495.5 1056.6L495.7 1058.9L495.9 1061.2L496.1 1063.5L496.2 1065.8L496.4 1068.1L496.6 1070.3L496.7 1072.6" fill="none" stroke="#00ff00" stroke-width="8.10" stroke-linejoin="round" stroke-linecap="butt" stroke-miterlimit="10"/>
<path d="M75.9 670.6L76.0 673.0L76.1 675.4L76.1 677.7L76.2 680.1L76.3 682.4L76.3 684.8L76.4 687.1L76.4 689.5L76.5 691.8L76.5 694.2L76.5 696.5L76.6 698.9L76.6 701.2L76.6 703.6L76.6 705.9L76.7 708.3L76.7 710.6L76.7 713.0L76.7 715.3L76.8 717.7L76.8 720.0L76.8 722.4L76.8 724.7L76.9 727.1L76.9 729.4L76.9 731.8L76.9 734.2L77.0 736.5L77.0 738.9L77.0 741.2L77.1 743.6L77.1 745.9L77.2 748.3L77.2 750.7L77.3 753.0L77.3 755.4L77.4 757.7L77.5 760.1L77.6 762.5L77.6 764.8L77.7 767.2L77.8 769.6L77.9 772.0L78.1 774.3L78.2 776.7L78.3 779.1L78.5 781.4L78.7 783.8L78.9 786.2L79.1 788.5L79.3 790.9L79.5 793.2L79.8 795.6L80.1 797.9L80.4 800.3L80.7 802.6L81.1 805.0L81.5 807.3L81.9 809.6L82.3 811.9L82.7 814.2L83.2 816.5L83.8 818.8L84.3 821.1L84.9 823.4L85.5 825.6L86.2 827.9L86.9 830.1L87.6 832.3L88.4 834.6L89.2 836.7L90.0 838.9L90.9 841.1L91.9 843.2L92.9 845.3L93.9 847.4L95.0 849.4L96.1 851.5L97.3 853.5L98.6 855.5L99.9 857.5L101.2 859.4L102.6 861.3L104.1 863.2L105.6 865.0L107.2 866.8L108.9 868.6L110.6 870.3L112.5 871.6L110.6 872.9L108.9 874.6L107.2 876.4L105.6 878.2L104.1 880.0L102.6 881.9L101.2 883.8L99.9 885.7L98.6 887.7L97.3 889.7L96.1 891.7L95.0 893.8L93.9 895.8L92.9 897.9L91.9 900.0L90.9 902.1L90.0 904.3L89.2 906.5L88.4 908.6L87.6 910.9L86.9 913.1L86.2 915.3L85.5 917.6L84.9 919.8L84.3 922.1L83.8 924.4L83.2 926.7L82.7 929.0L82.3 931.3L81.9 933.6L81.5 935.9L81.1 938.2L80.7 940.6L80.4 942.9L80.1 945.3L79.8 947.6L79.5 950.0L79.3 952.3L79.1 954.7L78.9 957.0L78.7 959.4L78.5 961.8L78.3 964.1L78.2 966.5L78.1 968.9L77.9 971.2L77.8 973.6L77.7 976.0L77.6 978.4L77.6 980.7L77.5 983.1L77.4 985.5L77.3 987.8L77.3 990.2L77.2 992.5L77.2 994.9L77.1 997.3L77.1 999.6L77.0 1002.0L77.0 1004.3L77.0 1006.7L76.9 1009.0L76.9 1011.4L76.9 1013.8L76.9 1016.1L76.8 1018.5L76.8 1020.8L76.8 1023.2L76.8 1025.5L76.7 1027.9L76.7 1030.2L76.7 1032.6L76.7 1034.9L76.6 1037.3L76.6 1039.6L76.6 1042.0L76.6 1044.3L76.5 1046.7L76.5 1049.0L76.5 1051.4L76.4 1053.7L76.4 1056.1L76.3 1058.4L76.3 1060.8L76.2 1063.1L76.1 1065.5L76.1 1067.8L76.0 1070.2L75.9 1072.6" fill="none" stroke="#00ff00" stroke-width="8.10" stroke-linejoin="bevel" stroke-linecap="butt" stroke-miterlimit="10"/>
<path d="M498.9 670.6L498.8 673.0L498.7 675.4L498.7 677.7L498.6 680.1L498.5 682.4L498.5 684.8L498.4 687.1L498.4 689.5L498.3 691.8L498.3 694.2L498.3 696.5L498.2 698.9L498.2 701.2L498.2 703.6L498.2 705.9L498.1 708.3L498.1 710.6L498.1 713.0L498.1 715.3L498.0 717.7L498.0 720.0L498.0 722.4L498.0 724.7L497.9 727.1L497.9 729.4L497.9 731.8L497.9 734.2L497.8 736.5L497.8 738.9L497.8 741.2L497.7 743.6L497.7 745.9L497.6 748.3L497.6 750.7L497.5 753.0L497.5 755.4L497.4 757.7L497.3 760.1L497.2 762.5L497.2 764.8L497.1 767.2L497.0 769.6L496.9 772.0L496.7 774.3L496.6 776.7L496.5 779.1L496.3 781.4L496.1 783.8L495.9 786.2L495.7 788.5L495.5 790.9L495.3 793.2L495.0 795.6L494.7 797.9L494.4 800.3L494.1 802.6L493.7 805.0L493.3 807.3L492.9 809.6L492.5 811.9L492.1 814.2L491.6 816.5L491.0 818.8L490.5 821.1L489.9 823.4L489.3 825.6L488.6 827.9L487.9 830.1L487.2 832.3L486.4 834.6L485.6 836.7L484.8 838.9L483.9 841.1L482.9 843.2L481.9 845.3L480.9 847.4L479.8 849.4L478.7 851.5L477.5 853.5L476.2 855.5L474.9 857.5L473.6 859.4L472.2 861.3L470.7 863.2L469.2 865.0L467.6 866.8L465.9 868.6L464.2 870.3L462.3 871.6L464.2 872.9L465.9 874.6L467.6 876.4L469.2 878.2L470.7 880.0L472.2 881.9L473.6 883.8L474.9 885.7L476.2 887.7L477.5 889.7L478.7 891.7L479.8 893.8L480.9 895.8L481.9 897.9L482.9 900.0L483.9 902.1L484.8 904.3L485.6 906.5L486.4 908.6L487.2 910.9L487.9 913.1L488.6 915.3L489.3 917.6L489.9 919.8L490.5 922.1L491.0 924.4L491.6 926.7L492.1 929.0L492.5 931.3L492.9 933.6L493.3 935.9L493.7 938.2L494.1 940.6L494.4 942.9L494.7 945.3L495.0 947.6L495.3 950.0L495.5 952.3L495.7 954.7L495.9 957.0L496.1 959.4L496.3 961.8L496.5 964.1L496.6 966.5L496.7 968.9L496.9 971.2L497.0 973.6L497.1 976.0L497.2 978.4L497.2 980.7L497.3 983.1L497.4 985.5L497.5 987.8L497.5 990.2L497.6 992.5L497.6 994.9L497.7 997.3L497.7 999.6L497.8 1002.0L497.8 1004.3L497.8 1006.7L497.9 1009.0L497.9 1011.4L497.9 1013.8L497.9 1016.1L498.0 1018.5L498.0 1020.8L498.0 1023.2L498.0 1025.5L498.1 1027.9L498.1 1030.2L498.1 1032.6L498.1 1034.9L498.2 1037.3L498.2 1039.6L498.2 1042.0L498.2 1044.3L498.3 1046.7L498.3 1049.0L498.3 1051.4L498.4 1053.7L498.4 1056.1L498.5 1058.4L498.5 1060.8L498.6 1063.1L498.7 1065.5L498.7 1067.8L498.8 1070.2L498.9 1072.6" fill="none" stroke="#00ff00" stroke-width="8.10" stroke-linejoin="bevel" stroke-linecap="butt" stroke-miterlimit="10"/>
</g>
<path d="M65.80 871.60H506.70" stroke="#000" stroke-opacity="0.5" stroke-width="1.3" stroke-dasharray="6.1 5.8" fill="none"/>
<path d="M85.20 1088.80L85.20 1085.60M85.20 653.80L85.20 657.00M152.60 1088.80L152.60 1085.60M152.60 653.80L152.60 657.00M220.00 1088.80L220.00 1085.60M220.00 653.80L220.00 657.00M287.40 1088.80L287.40 1085.60M287.40 653.80L287.40 657.00M354.80 1088.80L354.80 1085.60M354.80 653.80L354.80 657.00M422.20 1088.80L422.20 1085.60M422.20 653.80L422.20 657.00M489.60 1088.80L489.60 1085.60M489.60 653.80L489.60 657.00M68.50 1060.00L71.70 1060.00M506.70 1028.60L503.50 1028.60M68.50 997.20L71.70 997.20M506.70 950.10L503.50 950.10M68.50 934.40L71.70 934.40M68.50 871.60L71.70 871.60M506.70 871.60L503.50 871.60M68.50 808.80L71.70 808.80M506.70 793.10L503.50 793.10M68.50 746.00L71.70 746.00M506.70 714.60L503.50 714.60M68.50 683.20L71.70 683.20" stroke="#505050" stroke-width="1.7" fill="none"/>
<path d="M71.72 1088.80L71.72 1087.70M71.72 653.80L71.72 654.90M98.68 1088.80L98.68 1087.70M98.68 653.80L98.68 654.90M112.16 1088.80L112.16 1087.70M112.16 653.80L112.16 654.90M125.64 1088.80L125.64 1087.70M125.64 653.80L125.64 654.90M139.12 1088.80L139.12 1087.70M139.12 653.80L139.12 654.90M166.08 1088.80L166.08 1087.70M166.08 653.80L166.08 654.90M179.56 1088.80L179.56 1087.70M179.56 653.80L179.56 654.90M193.04 1088.80L193.04 1087.70M193.04 653.80L193.04 654.90M206.52 1088.80L206.52 1087.70M206.52 653.80L206.52 654.90M233.48 1088.80L233.48 1087.70M233.48 653.80L233.48 654.90M246.96 1088.80L246.96 1087.70M246.96 653.80L246.96 654.90M260.44 1088.80L260.44 1087.70M260.44 653.80L260.44 654.90M273.92 1088.80L273.92 1087.70M273.92 653.80L273.92 654.90M300.88 1088.80L300.88 1087.70M300.88 653.80L300.88 654.90M314.36 1088.80L314.36 1087.70M314.36 653.80L314.36 654.90M327.84 1088.80L327.84 1087.70M327.84 653.80L327.84 654.90M341.32 1088.80L341.32 1087.70M341.32 653.80L341.32 654.90M368.28 1088.80L368.28 1087.70M368.28 653.80L368.28 654.90M381.76 1088.80L381.76 1087.70M381.76 653.80L381.76 654.90M395.24 1088.80L395.24 1087.70M395.24 653.80L395.24 654.90M408.72 1088.80L408.72 1087.70M408.72 653.80L408.72 654.90M435.68 1088.80L435.68 1087.70M435.68 653.80L435.68 654.90M449.16 1088.80L449.16 1087.70M449.16 653.80L449.16 654.90M462.64 1088.80L462.64 1087.70M462.64 653.80L462.64 654.90M476.12 1088.80L476.12 1087.70M476.12 653.80L476.12 654.90M503.08 1088.80L503.08 1087.70M503.08 653.80L503.08 654.90M68.50 1075.70L69.60 1075.70M506.70 1075.70L505.60 1075.70M506.70 1060.00L505.60 1060.00M68.50 1044.30L69.60 1044.30M506.70 1044.30L505.60 1044.30M68.50 1028.60L69.60 1028.60M68.50 1012.90L69.60 1012.90M506.70 1012.90L505.60 1012.90M506.70 997.20L505.60 997.20M68.50 981.50L69.60 981.50M506.70 981.50L505.60 981.50M68.50 965.80L69.60 965.80M506.70 965.80L505.60 965.80M68.50 950.10L69.60 950.10M506.70 934.40L505.60 934.40M68.50 918.70L69.60 918.70M506.70 918.70L505.60 918.70M68.50 903.00L69.60 903.00M506.70 903.00L505.60 903.00M68.50 887.30L69.60 887.30M506.70 887.30L505.60 887.30M68.50 855.90L69.60 855.90M506.70 855.90L505.60 855.90M68.50 840.20L69.60 840.20M506.70 840.20L505.60 840.20M68.50 824.50L69.60 824.50M506.70 824.50L505.60 824.50M506.70 808.80L505.60 808.80M68.50 793.10L69.60 793.10M68.50 777.40L69.60 777.40M506.70 777.40L505.60 777.40M68.50 761.70L69.60 761.70M506.70 761.70L505.60 761.70M506.70 746.00L505.60 746.00M68.50 730.30L69.60 730.30M506.70 730.30L505.60 730.30M68.50 714.60L69.60 714.60M68.50 698.90L69.60 698.90M506.70 698.90L505.60 698.90M506.70 683.20L505.60 683.20M68.50 667.50L69.60 667.50M506.70 667.50L505.60 667.50" stroke="#666" stroke-width="1.5" fill="none"/>
<rect x="67.00" y="652.30" width="441.20" height="438.00" fill="none" stroke="#000" stroke-width="3.00"/>
<text><tspan x="69.74" y="1119.11" textLength="14.32" lengthAdjust="spacingAndGlyphs" font-family="'Liberation Sans',sans-serif" font-weight="bold" font-style="normal" font-size="24.69" fill="#626262">−</tspan><tspan x="84.82" y="1116.60" font-family="'Liberation Sans',sans-serif" font-weight="bold" font-style="normal" font-size="23.50" fill="#626262">3</tspan></text>
<text><tspan x="137.33" y="1119.11" textLength="14.32" lengthAdjust="spacingAndGlyphs" font-family="'Liberation Sans',sans-serif" font-weight="bold" font-style="normal" font-size="24.69" fill="#626262">−</tspan><tspan x="152.13" y="1116.60" font-family="'Liberation Sans',sans-serif" font-weight="bold" font-style="normal" font-size="23.50" fill="#626262">2</tspan></text>
<text><tspan x="204.91" y="1119.11" textLength="14.32" lengthAdjust="spacingAndGlyphs" font-family="'Liberation Sans',sans-serif" font-weight="bold" font-style="normal" font-size="24.69" fill="#626262">−</tspan><tspan x="219.05" y="1116.60" font-family="'Liberation Sans',sans-serif" font-weight="bold" font-style="normal" font-size="23.50" fill="#626262">1</tspan></text>
<text><tspan x="279.98" y="1116.60" font-family="'Liberation Sans',sans-serif" font-weight="bold" font-style="normal" font-size="23.50" fill="#626262">0</tspan></text>
<text><tspan x="346.95" y="1116.60" font-family="'Liberation Sans',sans-serif" font-weight="bold" font-style="normal" font-size="23.50" fill="#626262">1</tspan></text>
<text><tspan x="414.83" y="1116.60" font-family="'Liberation Sans',sans-serif" font-weight="bold" font-style="normal" font-size="23.50" fill="#626262">2</tspan></text>
<text><tspan x="482.32" y="1116.60" font-family="'Liberation Sans',sans-serif" font-weight="bold" font-style="normal" font-size="23.50" fill="#626262">3</tspan></text>
<text><tspan x="33.62" y="1070.66" textLength="14.32" lengthAdjust="spacingAndGlyphs" font-family="'Liberation Sans',sans-serif" font-weight="bold" font-style="normal" font-size="24.69" fill="#626262">−</tspan><tspan x="48.38" y="1068.15" font-family="'Liberation Sans',sans-serif" font-weight="bold" font-style="normal" font-size="23.50" fill="#626262">6</tspan></text>
<text><tspan x="32.39" y="1007.86" textLength="14.32" lengthAdjust="spacingAndGlyphs" font-family="'Liberation Sans',sans-serif" font-weight="bold" font-style="normal" font-size="24.69" fill="#626262">−</tspan><tspan x="47.66" y="1005.35" font-family="'Liberation Sans',sans-serif" font-weight="bold" font-style="normal" font-size="23.50" fill="#626262">4</tspan></text>
<text><tspan x="33.67" y="945.06" textLength="14.32" lengthAdjust="spacingAndGlyphs" font-family="'Liberation Sans',sans-serif" font-weight="bold" font-style="normal" font-size="24.69" fill="#626262">−</tspan><tspan x="48.47" y="942.55" font-family="'Liberation Sans',sans-serif" font-weight="bold" font-style="normal" font-size="23.50" fill="#626262">2</tspan></text>
<text><tspan x="48.49" y="879.75" font-family="'Liberation Sans',sans-serif" font-weight="bold" font-style="normal" font-size="23.50" fill="#626262">0</tspan></text>
<text><tspan x="48.47" y="816.95" font-family="'Liberation Sans',sans-serif" font-weight="bold" font-style="normal" font-size="23.50" fill="#626262">2</tspan></text>
<text><tspan x="47.66" y="754.15" font-family="'Liberation Sans',sans-serif" font-weight="bold" font-style="normal" font-size="23.50" fill="#626262">4</tspan></text>
<text><tspan x="48.38" y="691.35" font-family="'Liberation Sans',sans-serif" font-weight="bold" font-style="normal" font-size="23.50" fill="#626262">6</tspan></text>
</g>
<g id="panel-e">
<g>
<clipPath id="cl1"><rect x="638.30" y="652.20" width="217.60" height="438.80"/></clipPath>
<clipPath id="cr1"><rect x="855.90" y="652.20" width="224.90" height="438.80"/></clipPath>
<g clip-path="url(#cl1)">
<path d="M646.3 679.6L647.8 681.2L649.3 682.7L650.7 684.2L652.2 685.7L653.7 687.1L655.2 688.6L656.8 690.1L658.3 691.5L659.8 692.9L661.4 694.4L662.9 695.8L664.5 697.2L666.0 698.6L667.6 700.0L669.2 701.3L670.8 702.7L672.4 704.0L674.0 705.4L675.6 706.7L677.2 708.1L678.8 709.4L680.5 710.7L682.1 712.0L683.7 713.3L685.4 714.6L687.0 715.9L688.7 717.1L690.4 718.4L692.0 719.7L693.7 720.9L695.4 722.2L697.1 723.4L698.8 724.7L700.5 725.9L702.2 727.1L703.9 728.3L705.6 729.6L707.3 730.8L709.0 732.0L710.7 733.2L712.4 734.4L714.2 735.6L715.9 736.8L717.6 737.9L719.3 739.1L721.1 740.3L722.8 741.5L724.6 742.7L726.3 743.8L728.0 745.0L729.8 746.2L731.5 747.3L733.3 748.5L735.0 749.7L736.8 750.8L738.5 752.0L740.3 753.2L742.0 754.3L743.8 755.5L745.5 756.6L747.3 757.8L749.1 758.9L750.8 760.1L752.6 761.3L754.3 762.4L756.1 763.6L757.8 764.7L759.6 765.9L761.3 767.1L763.1 768.2L764.8 769.4L766.6 770.6L768.3 771.7L770.1 772.9L771.8 774.0L773.6 775.2L775.3 776.3L777.1 777.4L778.9 778.5L780.6 779.6L782.4 780.7L784.2 781.8L786.0 782.9L787.8 784.0L789.6 785.0L791.4 786.0L793.3 787.1L795.1 788.0L796.9 789.0L798.8 790.0L800.6 790.9L802.5 791.8L804.4 792.7L806.3 793.6L808.2 794.5L810.1 795.3L812.1 796.1L814.0 796.9L816.0 797.6L818.0 798.4L820.0 799.0L822.0 799.7L824.0 800.3L826.0 800.9L828.1 801.5L830.1 802.0L832.2 802.5L834.3 802.9L836.3 803.4L838.4 803.7L840.5 804.1L842.6 804.3L844.7 804.6L846.8 804.8L848.8 804.9L850.9 805.0L853.0 805.0L855.1 805.0L857.2 805.0L859.3 804.8L861.3 804.7L863.4 804.4L865.4 804.1L867.5 803.8L869.5 803.4L871.5 802.9L873.6 802.4L875.6 801.8L877.5 801.2L879.5 800.5L881.5 799.7L883.4 798.9L885.4 798.1L887.3 797.2L889.2 796.3L891.1 795.4L893.0 794.4L894.8 793.4L896.7 792.4L898.5 791.3L900.4 790.2L902.2 789.1L904.0 788.0L905.7 786.9L907.5 785.7L909.2 784.5L911.0 783.4L912.7 782.2L914.4 780.9L916.1 779.7L917.7 778.5L919.4 777.2L921.1 775.9L922.7 774.6L924.4 773.3L926.0 772.0L927.6 770.7L929.2 769.4L930.8 768.0L932.4 766.7L934.0 765.3L935.6 764.0L937.2 762.6L938.7 761.2L940.3 759.8L941.9 758.4L943.4 757.0L945.0 755.6L946.5 754.2L948.1 752.8L949.6 751.4L951.2 750.0L952.7 748.6L954.3 747.1L955.8 745.7L957.3 744.3L958.9 742.9L960.4 741.5L962.0 740.1L963.5 738.6" fill="none" stroke="#00a6a6" stroke-width="7.20" stroke-linejoin="round" stroke-linecap="butt" stroke-miterlimit="10"/>
<path d="M646.3 1064.6L647.8 1063.0L649.3 1061.5L650.7 1060.0L652.2 1058.5L653.7 1057.1L655.2 1055.6L656.8 1054.1L658.3 1052.7L659.8 1051.3L661.4 1049.8L662.9 1048.4L664.5 1047.0L666.0 1045.6L667.6 1044.2L669.2 1042.9L670.8 1041.5L672.4 1040.2L674.0 1038.8L675.6 1037.5L677.2 1036.1L678.8 1034.8L680.5 1033.5L682.1 1032.2L683.7 1030.9L685.4 1029.6L687.0 1028.3L688.7 1027.1L690.4 1025.8L692.0 1024.5L693.7 1023.3L695.4 1022.0L697.1 1020.8L698.8 1019.5L700.5 1018.3L702.2 1017.1L703.9 1015.9L705.6 1014.6L707.3 1013.4L709.0 1012.2L710.7 1011.0L712.4 1009.8L714.2 1008.6L715.9 1007.4L717.6 1006.3L719.3 1005.1L721.1 1003.9L722.8 1002.7L724.6 1001.5L726.3 1000.4L728.0 999.2L729.8 998.0L731.5 996.9L733.3 995.7L735.0 994.5L736.8 993.4L738.5 992.2L740.3 991.0L742.0 989.9L743.8 988.7L745.5 987.6L747.3 986.4L749.1 985.3L750.8 984.1L752.6 982.9L754.3 981.8L756.1 980.6L757.8 979.5L759.6 978.3L761.3 977.1L763.1 976.0L764.8 974.8L766.6 973.6L768.3 972.5L770.1 971.3L771.8 970.2L773.6 969.0L775.3 967.9L777.1 966.8L778.9 965.7L780.6 964.6L782.4 963.5L784.2 962.4L786.0 961.3L787.8 960.2L789.6 959.2L791.4 958.2L793.3 957.1L795.1 956.2L796.9 955.2L798.8 954.2L800.6 953.3L802.5 952.4L804.4 951.5L806.3 950.6L808.2 949.7L810.1 948.9L812.1 948.1L814.0 947.3L816.0 946.6L818.0 945.8L820.0 945.2L822.0 944.5L824.0 943.9L826.0 943.3L828.1 942.7L830.1 942.2L832.2 941.7L834.3 941.3L836.3 940.8L838.4 940.5L840.5 940.1L842.6 939.9L844.7 939.6L846.8 939.4L848.8 939.3L850.9 939.2L853.0 939.2L855.1 939.2L857.2 939.2L859.3 939.4L861.3 939.5L863.4 939.8L865.4 940.1L867.5 940.4L869.5 940.8L871.5 941.3L873.6 941.8L875.6 942.4L877.5 943.0L879.5 943.7L881.5 944.5L883.4 945.3L885.4 946.1L887.3 947.0L889.2 947.9L891.1 948.8L893.0 949.8L894.8 950.8L896.7 951.8L898.5 952.9L900.4 954.0L902.2 955.1L904.0 956.2L905.7 957.3L907.5 958.5L909.2 959.7L911.0 960.8L912.7 962.0L914.4 963.3L916.1 964.5L917.7 965.7L919.4 967.0L921.1 968.3L922.7 969.6L924.4 970.9L926.0 972.2L927.6 973.5L929.2 974.8L930.8 976.2L932.4 977.5L934.0 978.9L935.6 980.2L937.2 981.6L938.7 983.0L940.3 984.4L941.9 985.8L943.4 987.2L945.0 988.6L946.5 990.0L948.1 991.4L949.6 992.8L951.2 994.2L952.7 995.6L954.3 997.1L955.8 998.5L957.3 999.9L958.9 1001.3L960.4 1002.7L962.0 1004.1L963.5 1005.6" fill="none" stroke="#00a6a6" stroke-width="7.20" stroke-linejoin="round" stroke-linecap="butt" stroke-miterlimit="10"/>
<path d="M755.3 738.6L753.7 737.2L752.1 735.8L750.6 734.4L749.0 733.0L747.4 731.6L745.9 730.2L744.3 728.8L742.7 727.4L741.1 726.0L739.6 724.6L738.0 723.3L736.4 721.9L734.8 720.5L733.2 719.1L731.6 717.7L730.1 716.4L728.5 715.0L726.9 713.6L725.3 712.2L723.7 710.9L722.1 709.5L720.5 708.1L718.9 706.8L717.3 705.4L715.8 704.0L714.2 702.7L712.6 701.3L711.0 699.9L709.4 698.6L707.8 697.2L706.2 695.9L704.6 694.5L703.1 693.2L701.5 691.8L699.9 690.5L698.3 689.1L696.8 687.8L695.2 686.4L693.5 685.1L691.9 683.8L690.2 682.6L688.5 681.3L686.7 680.1L684.9 679.0L683.0 677.9L681.0 676.9L679.0 675.9L676.9 675.2L674.9 674.7L672.9 674.5L671.0 674.7L669.2 675.3L667.6 676.4L666.2 677.8L664.9 679.4L663.9 681.2L663.1 683.0L662.5 685.0L662.0 687.1L661.7 689.2L661.4 691.3L661.1 693.5L660.9 695.6L660.8 697.8L660.6 699.9L660.5 702.0L660.3 704.2L660.2 706.3L660.1 708.4L660.0 710.5L660.0 712.6L659.9 714.7L659.9 716.8L659.8 718.9L659.8 721.0L659.8 723.1L659.8 725.2L659.9 727.3L659.9 729.3L659.9 731.4L660.0 733.5L660.1 735.6L660.2 737.7L660.2 739.7L660.3 741.8L660.5 743.9L660.6 746.0L660.7 748.1L660.8 750.2L661.0 752.2L661.1 754.3L661.3 756.4L661.5 758.5L661.6 760.6L661.8 762.7L662.0 764.8L662.2 766.8L662.5 768.9L662.7 771.0L662.9 773.1L663.2 775.2L663.4 777.3L663.7 779.3L664.0 781.4L664.3 783.5L664.6 785.6L664.9 787.7L665.2 789.7L665.5 791.8L665.9 793.9L666.3 796.0L666.6 798.0L667.0 800.1L667.4 802.2L667.8 804.2L668.2 806.3L668.6 808.3L669.1 810.4L669.5 812.5L670.0 814.5L670.5 816.5L671.0 818.6L671.5 820.6L672.0 822.7L672.5 824.7L673.0 826.7L673.6 828.7L674.2 830.8L674.7 832.8L675.3 834.8L675.9 836.8L676.6 838.8L677.2 840.8L677.8 842.8L678.5 844.8L679.2 846.8L679.9 848.7L680.6 850.7L681.3 852.7L682.0 854.6L682.8 856.6L683.5 858.6L684.3 860.5L685.1 862.4L685.9 864.4L686.7 866.3L687.6 868.2L688.4 870.1L689.2 872.1L688.4 874.1L687.6 876.0L686.7 877.9L685.9 879.8L685.1 881.8L684.3 883.7L683.5 885.6L682.8 887.6L682.0 889.6L681.3 891.5L680.6 893.5L679.9 895.5L679.2 897.4L678.5 899.4L677.8 901.4L677.2 903.4L676.6 905.4L675.9 907.4L675.3 909.4L674.7 911.4L674.2 913.4L673.6 915.5L673.0 917.5L672.5 919.5L672.0 921.5L671.5 923.6L671.0 925.6L670.5 927.7L670.0 929.7L669.5 931.7L669.1 933.8L668.6 935.9L668.2 937.9L667.8 940.0L667.4 942.0L667.0 944.1L666.6 946.2L666.3 948.2L665.9 950.3L665.5 952.4L665.2 954.5L664.9 956.5L664.6 958.6L664.3 960.7L664.0 962.8L663.7 964.9L663.4 966.9L663.2 969.0L662.9 971.1L662.7 973.2L662.5 975.3L662.2 977.4L662.0 979.4L661.8 981.5L661.6 983.6L661.5 985.7L661.3 987.8L661.1 989.9L661.0 992.0L660.8 994.0L660.7 996.1L660.6 998.2L660.5 1000.3L660.3 1002.4L660.2 1004.5L660.2 1006.5L660.1 1008.6L660.0 1010.7L659.9 1012.8L659.9 1014.9L659.9 1016.9L659.8 1019.0L659.8 1021.1L659.8 1023.2L659.8 1025.3L659.9 1027.4L659.9 1029.5L660.0 1031.6L660.0 1033.7L660.1 1035.8L660.2 1037.9L660.3 1040.0L660.5 1042.2L660.6 1044.3L660.8 1046.4L660.9 1048.6L661.1 1050.7L661.4 1052.9L661.7 1055.0L662.0 1057.1L662.5 1059.2L663.1 1061.2L663.9 1063.0L664.9 1064.8L666.2 1066.4L667.6 1067.8L669.2 1068.9L671.0 1069.5L672.9 1069.7L674.9 1069.5L676.9 1069.0L679.0 1068.3L681.0 1067.3L683.0 1066.3L684.9 1065.2L686.7 1064.1L688.5 1062.9L690.2 1061.6L691.9 1060.4L693.5 1059.1L695.2 1057.8L696.8 1056.4L698.3 1055.1L699.9 1053.7L701.5 1052.4L703.1 1051.0L704.6 1049.7L706.2 1048.3L707.8 1047.0L709.4 1045.6L711.0 1044.3L712.6 1042.9L714.2 1041.5L715.8 1040.2L717.3 1038.8L718.9 1037.4L720.5 1036.1L722.1 1034.7L723.7 1033.3L725.3 1032.0L726.9 1030.6L728.5 1029.2L730.1 1027.8L731.6 1026.5L733.2 1025.1L734.8 1023.7L736.4 1022.3L738.0 1020.9L739.6 1019.6L741.1 1018.2L742.7 1016.8L744.3 1015.4L745.9 1014.0L747.4 1012.6L749.0 1011.2L750.6 1009.8L752.1 1008.4L753.7 1007.0L755.3 1005.6" fill="none" stroke="#00a6a6" stroke-width="7.20" stroke-linejoin="bevel" stroke-linecap="butt" stroke-miterlimit="10"/>
<path d="M1072.3 678.0L1072.2 681.4L1072.0 684.7L1071.9 688.0L1071.7 691.4L1071.6 694.7L1071.4 698.1L1071.3 701.4L1071.2 704.8L1071.0 708.1L1070.9 711.5L1070.7 714.8L1070.5 718.2L1070.4 721.6L1070.2 724.9L1070.0 728.3L1069.8 731.6L1069.6 735.0L1069.4 738.3L1069.2 741.7L1068.9 745.0L1068.6 748.4L1068.4 751.7L1068.1 755.1L1067.8 758.4L1067.4 761.7L1067.1 765.1L1066.7 768.4L1066.3 771.7L1065.9 775.1L1065.4 778.4L1065.0 781.7L1064.5 785.0L1064.0 788.3L1063.4 791.6L1062.8 794.9L1062.2 798.2L1061.6 801.5L1060.9 804.8L1060.2 808.1L1059.5 811.4L1058.8 814.6L1058.0 817.9L1057.2 821.1L1056.3 824.4L1055.4 827.6L1054.5 830.8L1053.6 834.1L1052.6 837.3L1051.6 840.5L1050.6 843.7L1049.5 846.8L1048.4 850.0L1047.3 853.2L1046.2 856.4L1045.0 859.5L1043.8 862.6L1042.6 865.8L1041.4 868.9L1040.4 872.1L1041.4 875.3L1042.6 878.4L1043.8 881.6L1045.0 884.7L1046.2 887.8L1047.3 891.0L1048.4 894.2L1049.5 897.4L1050.6 900.5L1051.6 903.7L1052.6 906.9L1053.6 910.1L1054.5 913.4L1055.4 916.6L1056.3 919.8L1057.2 923.1L1058.0 926.3L1058.8 929.6L1059.5 932.8L1060.2 936.1L1060.9 939.4L1061.6 942.7L1062.2 946.0L1062.8 949.3L1063.4 952.6L1064.0 955.9L1064.5 959.2L1065.0 962.5L1065.4 965.8L1065.9 969.1L1066.3 972.5L1066.7 975.8L1067.1 979.1L1067.4 982.5L1067.8 985.8L1068.1 989.1L1068.4 992.5L1068.6 995.8L1068.9 999.2L1069.2 1002.5L1069.4 1005.9L1069.6 1009.2L1069.8 1012.6L1070.0 1015.9L1070.2 1019.3L1070.4 1022.6L1070.5 1026.0L1070.7 1029.4L1070.9 1032.7L1071.0 1036.1L1071.2 1039.4L1071.3 1042.8L1071.4 1046.1L1071.6 1049.5L1071.7 1052.8L1071.9 1056.2L1072.0 1059.5L1072.2 1062.8L1072.3 1066.2" fill="none" stroke="#00a6a6" stroke-width="7.20" stroke-linejoin="bevel" stroke-linecap="butt" stroke-miterlimit="10"/>
<path d="M1072.5 679.6L1071.0 681.2L1069.5 682.7L1068.1 684.2L1066.6 685.7L1065.1 687.1L1063.6 688.6L1062.0 690.1L1060.5 691.5L1059.0 692.9L1057.4 694.4L1055.9 695.8L1054.3 697.2L1052.8 698.6L1051.2 700.0L1049.6 701.3L1048.0 702.7L1046.4 704.0L1044.8 705.4L1043.2 706.7L1041.6 708.1L1040.0 709.4L1038.3 710.7L1036.7 712.0L1035.1 713.3L1033.4 714.6L1031.8 715.9L1030.1 717.1L1028.4 718.4L1026.8 719.7L1025.1 720.9L1023.4 722.2L1021.7 723.4L1020.0 724.7L1018.3 725.9L1016.6 727.1L1014.9 728.3L1013.2 729.6L1011.5 730.8L1009.8 732.0L1008.1 733.2L1006.4 734.4L1004.6 735.6L1002.9 736.8L1001.2 737.9L999.5 739.1L997.7 740.3L996.0 741.5L994.2 742.7L992.5 743.8L990.8 745.0L989.0 746.2L987.3 747.3L985.5 748.5L983.8 749.7L982.0 750.8L980.3 752.0L978.5 753.2L976.8 754.3L975.0 755.5L973.3 756.6L971.5 757.8L969.7 758.9L968.0 760.1L966.2 761.3L964.5 762.4L962.7 763.6L961.0 764.7L959.2 765.9L957.5 767.1L955.7 768.2L954.0 769.4L952.2 770.6L950.5 771.7L948.7 772.9L947.0 774.0L945.2 775.2L943.5 776.3L941.7 777.4L939.9 778.5L938.2 779.6L936.4 780.7L934.6 781.8L932.8 782.9L931.0 784.0L929.2 785.0L927.4 786.0L925.5 787.1L923.7 788.0L921.9 789.0L920.0 790.0L918.2 790.9L916.3 791.8L914.4 792.7L912.5 793.6L910.6 794.5L908.7 795.3L906.7 796.1L904.8 796.9L902.8 797.6L900.8 798.4L898.8 799.0L896.8 799.7L894.8 800.3L892.8 800.9L890.7 801.5L888.7 802.0L886.6 802.5L884.5 802.9L882.5 803.4L880.4 803.7L878.3 804.1L876.2 804.3L874.1 804.6L872.0 804.8L870.0 804.9L867.9 805.0L865.8 805.0L863.7 805.0L861.6 805.0L859.5 804.8L857.5 804.7L855.4 804.4L853.4 804.1L851.3 803.8L849.3 803.4L847.3 802.9L845.2 802.4L843.2 801.8L841.3 801.2L839.3 800.5L837.3 799.7L835.4 798.9L833.4 798.1L831.5 797.2L829.6 796.3L827.7 795.4L825.8 794.4L824.0 793.4L822.1 792.4L820.3 791.3L818.4 790.2L816.6 789.1L814.8 788.0L813.1 786.9L811.3 785.7L809.6 784.5L807.8 783.4L806.1 782.2L804.4 780.9L802.7 779.7L801.1 778.5L799.4 777.2L797.7 775.9L796.1 774.6L794.4 773.3L792.8 772.0L791.2 770.7L789.6 769.4L788.0 768.0L786.4 766.7L784.8 765.3L783.2 764.0L781.6 762.6L780.1 761.2L778.5 759.8L776.9 758.4L775.4 757.0L773.8 755.6L772.3 754.2L770.7 752.8L769.2 751.4L767.6 750.0L766.1 748.6L764.5 747.1L763.0 745.7L761.5 744.3L759.9 742.9L758.4 741.5L756.8 740.1L755.3 738.6" fill="none" stroke="#00ff00" stroke-width="7.20" stroke-linejoin="round" stroke-linecap="butt" stroke-miterlimit="10"/>
<path d="M1072.5 1064.6L1071.0 1063.0L1069.5 1061.5L1068.1 1060.0L1066.6 1058.5L1065.1 1057.1L1063.6 1055.6L1062.0 1054.1L1060.5 1052.7L1059.0 1051.3L1057.4 1049.8L1055.9 1048.4L1054.3 1047.0L1052.8 1045.6L1051.2 1044.2L1049.6 1042.9L1048.0 1041.5L1046.4 1040.2L1044.8 1038.8L1043.2 1037.5L1041.6 1036.1L1040.0 1034.8L1038.3 1033.5L1036.7 1032.2L1035.1 1030.9L1033.4 1029.6L1031.8 1028.3L1030.1 1027.1L1028.4 1025.8L1026.8 1024.5L1025.1 1023.3L1023.4 1022.0L1021.7 1020.8L1020.0 1019.5L1018.3 1018.3L1016.6 1017.1L1014.9 1015.9L1013.2 1014.6L1011.5 1013.4L1009.8 1012.2L1008.1 1011.0L1006.4 1009.8L1004.6 1008.6L1002.9 1007.4L1001.2 1006.3L999.5 1005.1L997.7 1003.9L996.0 1002.7L994.2 1001.5L992.5 1000.4L990.8 999.2L989.0 998.0L987.3 996.9L985.5 995.7L983.8 994.5L982.0 993.4L980.3 992.2L978.5 991.0L976.8 989.9L975.0 988.7L973.3 987.6L971.5 986.4L969.7 985.3L968.0 984.1L966.2 982.9L964.5 981.8L962.7 980.6L961.0 979.5L959.2 978.3L957.5 977.1L955.7 976.0L954.0 974.8L952.2 973.6L950.5 972.5L948.7 971.3L947.0 970.2L945.2 969.0L943.5 967.9L941.7 966.8L939.9 965.7L938.2 964.6L936.4 963.5L934.6 962.4L932.8 961.3L931.0 960.2L929.2 959.2L927.4 958.2L925.5 957.1L923.7 956.2L921.9 955.2L920.0 954.2L918.2 953.3L916.3 952.4L914.4 951.5L912.5 950.6L910.6 949.7L908.7 948.9L906.7 948.1L904.8 947.3L902.8 946.6L900.8 945.8L898.8 945.2L896.8 944.5L894.8 943.9L892.8 943.3L890.7 942.7L888.7 942.2L886.6 941.7L884.5 941.3L882.5 940.8L880.4 940.5L878.3 940.1L876.2 939.9L874.1 939.6L872.0 939.4L870.0 939.3L867.9 939.2L865.8 939.2L863.7 939.2L861.6 939.2L859.5 939.4L857.5 939.5L855.4 939.8L853.4 940.1L851.3 940.4L849.3 940.8L847.3 941.3L845.2 941.8L843.2 942.4L841.3 943.0L839.3 943.7L837.3 944.5L835.4 945.3L833.4 946.1L831.5 947.0L829.6 947.9L827.7 948.8L825.8 949.8L824.0 950.8L822.1 951.8L820.3 952.9L818.4 954.0L816.6 955.1L814.8 956.2L813.1 957.3L811.3 958.5L809.6 959.7L807.8 960.8L806.1 962.0L804.4 963.3L802.7 964.5L801.1 965.7L799.4 967.0L797.7 968.3L796.1 969.6L794.4 970.9L792.8 972.2L791.2 973.5L789.6 974.8L788.0 976.2L786.4 977.5L784.8 978.9L783.2 980.2L781.6 981.6L780.1 983.0L778.5 984.4L776.9 985.8L775.4 987.2L773.8 988.6L772.3 990.0L770.7 991.4L769.2 992.8L767.6 994.2L766.1 995.6L764.5 997.1L763.0 998.5L761.5 999.9L759.9 1001.3L758.4 1002.7L756.8 1004.1L755.3 1005.6" fill="none" stroke="#00ff00" stroke-width="7.20" stroke-linejoin="round" stroke-linecap="butt" stroke-miterlimit="10"/>
<path d="M963.5 738.6L965.1 737.2L966.7 735.8L968.2 734.4L969.8 733.0L971.4 731.6L972.9 730.2L974.5 728.8L976.1 727.4L977.7 726.0L979.2 724.6L980.8 723.3L982.4 721.9L984.0 720.5L985.6 719.1L987.2 717.7L988.7 716.4L990.3 715.0L991.9 713.6L993.5 712.2L995.1 710.9L996.7 709.5L998.3 708.1L999.9 706.8L1001.5 705.4L1003.0 704.0L1004.6 702.7L1006.2 701.3L1007.8 699.9L1009.4 698.6L1011.0 697.2L1012.6 695.9L1014.2 694.5L1015.7 693.2L1017.3 691.8L1018.9 690.5L1020.5 689.1L1022.0 687.8L1023.6 686.4L1025.3 685.1L1026.9 683.8L1028.6 682.6L1030.3 681.3L1032.1 680.1L1033.9 679.0L1035.8 677.9L1037.8 676.9L1039.8 675.9L1041.9 675.2L1043.9 674.7L1045.9 674.5L1047.8 674.7L1049.6 675.3L1051.2 676.4L1052.6 677.8L1053.9 679.4L1054.9 681.2L1055.7 683.0L1056.3 685.0L1056.8 687.1L1057.1 689.2L1057.4 691.3L1057.7 693.5L1057.9 695.6L1058.0 697.8L1058.2 699.9L1058.3 702.0L1058.5 704.2L1058.6 706.3L1058.7 708.4L1058.8 710.5L1058.8 712.6L1058.9 714.7L1058.9 716.8L1059.0 718.9L1059.0 721.0L1059.0 723.1L1059.0 725.2L1058.9 727.3L1058.9 729.3L1058.9 731.4L1058.8 733.5L1058.7 735.6L1058.6 737.7L1058.6 739.7L1058.5 741.8L1058.3 743.9L1058.2 746.0L1058.1 748.1L1058.0 750.2L1057.8 752.2L1057.7 754.3L1057.5 756.4L1057.3 758.5L1057.2 760.6L1057.0 762.7L1056.8 764.8L1056.6 766.8L1056.3 768.9L1056.1 771.0L1055.9 773.1L1055.6 775.2L1055.4 777.3L1055.1 779.3L1054.8 781.4L1054.5 783.5L1054.2 785.6L1053.9 787.7L1053.6 789.7L1053.3 791.8L1052.9 793.9L1052.5 796.0L1052.2 798.0L1051.8 800.1L1051.4 802.2L1051.0 804.2L1050.6 806.3L1050.2 808.3L1049.7 810.4L1049.3 812.5L1048.8 814.5L1048.3 816.5L1047.8 818.6L1047.3 820.6L1046.8 822.7L1046.3 824.7L1045.8 826.7L1045.2 828.7L1044.6 830.8L1044.1 832.8L1043.5 834.8L1042.9 836.8L1042.2 838.8L1041.6 840.8L1041.0 842.8L1040.3 844.8L1039.6 846.8L1038.9 848.7L1038.2 850.7L1037.5 852.7L1036.8 854.6L1036.0 856.6L1035.3 858.6L1034.5 860.5L1033.7 862.4L1032.9 864.4L1032.1 866.3L1031.2 868.2L1030.4 870.1L1029.6 872.1L1030.4 874.1L1031.2 876.0L1032.1 877.9L1032.9 879.8L1033.7 881.8L1034.5 883.7L1035.3 885.6L1036.0 887.6L1036.8 889.6L1037.5 891.5L1038.2 893.5L1038.9 895.5L1039.6 897.4L1040.3 899.4L1041.0 901.4L1041.6 903.4L1042.2 905.4L1042.9 907.4L1043.5 909.4L1044.1 911.4L1044.6 913.4L1045.2 915.5L1045.8 917.5L1046.3 919.5L1046.8 921.5L1047.3 923.6L1047.8 925.6L1048.3 927.7L1048.8 929.7L1049.3 931.7L1049.7 933.8L1050.2 935.9L1050.6 937.9L1051.0 940.0L1051.4 942.0L1051.8 944.1L1052.2 946.2L1052.5 948.2L1052.9 950.3L1053.3 952.4L1053.6 954.5L1053.9 956.5L1054.2 958.6L1054.5 960.7L1054.8 962.8L1055.1 964.9L1055.4 966.9L1055.6 969.0L1055.9 971.1L1056.1 973.2L1056.3 975.3L1056.6 977.4L1056.8 979.4L1057.0 981.5L1057.2 983.6L1057.3 985.7L1057.5 987.8L1057.7 989.9L1057.8 992.0L1058.0 994.0L1058.1 996.1L1058.2 998.2L1058.3 1000.3L1058.5 1002.4L1058.6 1004.5L1058.6 1006.5L1058.7 1008.6L1058.8 1010.7L1058.9 1012.8L1058.9 1014.9L1058.9 1016.9L1059.0 1019.0L1059.0 1021.1L1059.0 1023.2L1059.0 1025.3L1058.9 1027.4L1058.9 1029.5L1058.8 1031.6L1058.8 1033.7L1058.7 1035.8L1058.6 1037.9L1058.5 1040.0L1058.3 1042.2L1058.2 1044.3L1058.0 1046.4L1057.9 1048.6L1057.7 1050.7L1057.4 1052.9L1057.1 1055.0L1056.8 1057.1L1056.3 1059.2L1055.7 1061.2L1054.9 1063.0L1053.9 1064.8L1052.6 1066.4L1051.2 1067.8L1049.6 1068.9L1047.8 1069.5L1045.9 1069.7L1043.9 1069.5L1041.9 1069.0L1039.8 1068.3L1037.8 1067.3L1035.8 1066.3L1033.9 1065.2L1032.1 1064.1L1030.3 1062.9L1028.6 1061.6L1026.9 1060.4L1025.3 1059.1L1023.6 1057.8L1022.0 1056.4L1020.5 1055.1L1018.9 1053.7L1017.3 1052.4L1015.7 1051.0L1014.2 1049.7L1012.6 1048.3L1011.0 1047.0L1009.4 1045.6L1007.8 1044.3L1006.2 1042.9L1004.6 1041.5L1003.0 1040.2L1001.5 1038.8L999.9 1037.4L998.3 1036.1L996.7 1034.7L995.1 1033.3L993.5 1032.0L991.9 1030.6L990.3 1029.2L988.7 1027.8L987.2 1026.5L985.6 1025.1L984.0 1023.7L982.4 1022.3L980.8 1020.9L979.2 1019.6L977.7 1018.2L976.1 1016.8L974.5 1015.4L972.9 1014.0L971.4 1012.6L969.8 1011.2L968.2 1009.8L966.7 1008.4L965.1 1007.0L963.5 1005.6" fill="none" stroke="#00ff00" stroke-width="7.20" stroke-linejoin="bevel" stroke-linecap="butt" stroke-miterlimit="10"/>
<path d="M646.5 678.0L646.6 681.4L646.8 684.7L646.9 688.0L647.1 691.4L647.2 694.7L647.4 698.1L647.5 701.4L647.6 704.8L647.8 708.1L647.9 711.5L648.1 714.8L648.3 718.2L648.4 721.6L648.6 724.9L648.8 728.3L649.0 731.6L649.2 735.0L649.4 738.3L649.6 741.7L649.9 745.0L650.2 748.4L650.4 751.7L650.7 755.1L651.0 758.4L651.4 761.7L651.7 765.1L652.1 768.4L652.5 771.7L652.9 775.1L653.4 778.4L653.8 781.7L654.3 785.0L654.8 788.3L655.4 791.6L656.0 794.9L656.6 798.2L657.2 801.5L657.9 804.8L658.6 808.1L659.3 811.4L660.0 814.6L660.8 817.9L661.6 821.1L662.5 824.4L663.4 827.6L664.3 830.8L665.2 834.1L666.2 837.3L667.2 840.5L668.2 843.7L669.3 846.8L670.4 850.0L671.5 853.2L672.6 856.4L673.8 859.5L675.0 862.6L676.2 865.8L677.4 868.9L678.4 872.1L677.4 875.3L676.2 878.4L675.0 881.6L673.8 884.7L672.6 887.8L671.5 891.0L670.4 894.2L669.3 897.4L668.2 900.5L667.2 903.7L666.2 906.9L665.2 910.1L664.3 913.4L663.4 916.6L662.5 919.8L661.6 923.1L660.8 926.3L660.0 929.6L659.3 932.8L658.6 936.1L657.9 939.4L657.2 942.7L656.6 946.0L656.0 949.3L655.4 952.6L654.8 955.9L654.3 959.2L653.8 962.5L653.4 965.8L652.9 969.1L652.5 972.5L652.1 975.8L651.7 979.1L651.4 982.5L651.0 985.8L650.7 989.1L650.4 992.5L650.2 995.8L649.9 999.2L649.6 1002.5L649.4 1005.9L649.2 1009.2L649.0 1012.6L648.8 1015.9L648.6 1019.3L648.4 1022.6L648.3 1026.0L648.1 1029.4L647.9 1032.7L647.8 1036.1L647.6 1039.4L647.5 1042.8L647.4 1046.1L647.2 1049.5L647.1 1052.8L646.9 1056.2L646.8 1059.5L646.6 1062.8L646.5 1066.2" fill="none" stroke="#00ff00" stroke-width="7.20" stroke-linejoin="bevel" stroke-linecap="butt" stroke-miterlimit="10"/>
</g>
<g clip-path="url(#cr1)">
<path d="M1072.5 679.6L1071.0 681.2L1069.5 682.7L1068.1 684.2L1066.6 685.7L1065.1 687.1L1063.6 688.6L1062.0 690.1L1060.5 691.5L1059.0 692.9L1057.4 694.4L1055.9 695.8L1054.3 697.2L1052.8 698.6L1051.2 700.0L1049.6 701.3L1048.0 702.7L1046.4 704.0L1044.8 705.4L1043.2 706.7L1041.6 708.1L1040.0 709.4L1038.3 710.7L1036.7 712.0L1035.1 713.3L1033.4 714.6L1031.8 715.9L1030.1 717.1L1028.4 718.4L1026.8 719.7L1025.1 720.9L1023.4 722.2L1021.7 723.4L1020.0 724.7L1018.3 725.9L1016.6 727.1L1014.9 728.3L1013.2 729.6L1011.5 730.8L1009.8 732.0L1008.1 733.2L1006.4 734.4L1004.6 735.6L1002.9 736.8L1001.2 737.9L999.5 739.1L997.7 740.3L996.0 741.5L994.2 742.7L992.5 743.8L990.8 745.0L989.0 746.2L987.3 747.3L985.5 748.5L983.8 749.7L982.0 750.8L980.3 752.0L978.5 753.2L976.8 754.3L975.0 755.5L973.3 756.6L971.5 757.8L969.7 758.9L968.0 760.1L966.2 761.3L964.5 762.4L962.7 763.6L961.0 764.7L959.2 765.9L957.5 767.1L955.7 768.2L954.0 769.4L952.2 770.6L950.5 771.7L948.7 772.9L947.0 774.0L945.2 775.2L943.5 776.3L941.7 777.4L939.9 778.5L938.2 779.6L936.4 780.7L934.6 781.8L932.8 782.9L931.0 784.0L929.2 785.0L927.4 786.0L925.5 787.1L923.7 788.0L921.9 789.0L920.0 790.0L918.2 790.9L916.3 791.8L914.4 792.7L912.5 793.6L910.6 794.5L908.7 795.3L906.7 796.1L904.8 796.9L902.8 797.6L900.8 798.4L898.8 799.0L896.8 799.7L894.8 800.3L892.8 800.9L890.7 801.5L888.7 802.0L886.6 802.5L884.5 802.9L882.5 803.4L880.4 803.7L878.3 804.1L876.2 804.3L874.1 804.6L872.0 804.8L870.0 804.9L867.9 805.0L865.8 805.0L863.7 805.0L861.6 805.0L859.5 804.8L857.5 804.7L855.4 804.4L853.4 804.1L851.3 803.8L849.3 803.4L847.3 802.9L845.2 802.4L843.2 801.8L841.3 801.2L839.3 800.5L837.3 799.7L835.4 798.9L833.4 798.1L831.5 797.2L829.6 796.3L827.7 795.4L825.8 794.4L824.0 793.4L822.1 792.4L820.3 791.3L818.4 790.2L816.6 789.1L814.8 788.0L813.1 786.9L811.3 785.7L809.6 784.5L807.8 783.4L806.1 782.2L804.4 780.9L802.7 779.7L801.1 778.5L799.4 777.2L797.7 775.9L796.1 774.6L794.4 773.3L792.8 772.0L791.2 770.7L789.6 769.4L788.0 768.0L786.4 766.7L784.8 765.3L783.2 764.0L781.6 762.6L780.1 761.2L778.5 759.8L776.9 758.4L775.4 757.0L773.8 755.6L772.3 754.2L770.7 752.8L769.2 751.4L767.6 750.0L766.1 748.6L764.5 747.1L763.0 745.7L761.5 744.3L759.9 742.9L758.4 741.5L756.8 740.1L755.3 738.6" fill="none" stroke="#00ff00" stroke-width="7.20" stroke-linejoin="round" stroke-linecap="butt" stroke-miterlimit="10"/>
<path d="M1072.5 1064.6L1071.0 1063.0L1069.5 1061.5L1068.1 1060.0L1066.6 1058.5L1065.1 1057.1L1063.6 1055.6L1062.0 1054.1L1060.5 1052.7L1059.0 1051.3L1057.4 1049.8L1055.9 1048.4L1054.3 1047.0L1052.8 1045.6L1051.2 1044.2L1049.6 1042.9L1048.0 1041.5L1046.4 1040.2L1044.8 1038.8L1043.2 1037.5L1041.6 1036.1L1040.0 1034.8L1038.3 1033.5L1036.7 1032.2L1035.1 1030.9L1033.4 1029.6L1031.8 1028.3L1030.1 1027.1L1028.4 1025.8L1026.8 1024.5L1025.1 1023.3L1023.4 1022.0L1021.7 1020.8L1020.0 1019.5L1018.3 1018.3L1016.6 1017.1L1014.9 1015.9L1013.2 1014.6L1011.5 1013.4L1009.8 1012.2L1008.1 1011.0L1006.4 1009.8L1004.6 1008.6L1002.9 1007.4L1001.2 1006.3L999.5 1005.1L997.7 1003.9L996.0 1002.7L994.2 1001.5L992.5 1000.4L990.8 999.2L989.0 998.0L987.3 996.9L985.5 995.7L983.8 994.5L982.0 993.4L980.3 992.2L978.5 991.0L976.8 989.9L975.0 988.7L973.3 987.6L971.5 986.4L969.7 985.3L968.0 984.1L966.2 982.9L964.5 981.8L962.7 980.6L961.0 979.5L959.2 978.3L957.5 977.1L955.7 976.0L954.0 974.8L952.2 973.6L950.5 972.5L948.7 971.3L947.0 970.2L945.2 969.0L943.5 967.9L941.7 966.8L939.9 965.7L938.2 964.6L936.4 963.5L934.6 962.4L932.8 961.3L931.0 960.2L929.2 959.2L927.4 958.2L925.5 957.1L923.7 956.2L921.9 955.2L920.0 954.2L918.2 953.3L916.3 952.4L914.4 951.5L912.5 950.6L910.6 949.7L908.7 948.9L906.7 948.1L904.8 947.3L902.8 946.6L900.8 945.8L898.8 945.2L896.8 944.5L894.8 943.9L892.8 943.3L890.7 942.7L888.7 942.2L886.6 941.7L884.5 941.3L882.5 940.8L880.4 940.5L878.3 940.1L876.2 939.9L874.1 939.6L872.0 939.4L870.0 939.3L867.9 939.2L865.8 939.2L863.7 939.2L861.6 939.2L859.5 939.4L857.5 939.5L855.4 939.8L853.4 940.1L851.3 940.4L849.3 940.8L847.3 941.3L845.2 941.8L843.2 942.4L841.3 943.0L839.3 943.7L837.3 944.5L835.4 945.3L833.4 946.1L831.5 947.0L829.6 947.9L827.7 948.8L825.8 949.8L824.0 950.8L822.1 951.8L820.3 952.9L818.4 954.0L816.6 955.1L814.8 956.2L813.1 957.3L811.3 958.5L809.6 959.7L807.8 960.8L806.1 962.0L804.4 963.3L802.7 964.5L801.1 965.7L799.4 967.0L797.7 968.3L796.1 969.6L794.4 970.9L792.8 972.2L791.2 973.5L789.6 974.8L788.0 976.2L786.4 977.5L784.8 978.9L783.2 980.2L781.6 981.6L780.1 983.0L778.5 984.4L776.9 985.8L775.4 987.2L773.8 988.6L772.3 990.0L770.7 991.4L769.2 992.8L767.6 994.2L766.1 995.6L764.5 997.1L763.0 998.5L761.5 999.9L759.9 1001.3L758.4 1002.7L756.8 1004.1L755.3 1005.6" fill="none" stroke="#00ff00" stroke-width="7.20" stroke-linejoin="round" stroke-linecap="butt" stroke-miterlimit="10"/>
<path d="M963.5 738.6L965.1 737.2L966.7 735.8L968.2 734.4L969.8 733.0L971.4 731.6L972.9 730.2L974.5 728.8L976.1 727.4L977.7 726.0L979.2 724.6L980.8 723.3L982.4 721.9L984.0 720.5L985.6 719.1L987.2 717.7L988.7 716.4L990.3 715.0L991.9 713.6L993.5 712.2L995.1 710.9L996.7 709.5L998.3 708.1L999.9 706.8L1001.5 705.4L1003.0 704.0L1004.6 702.7L1006.2 701.3L1007.8 699.9L1009.4 698.6L1011.0 697.2L1012.6 695.9L1014.2 694.5L1015.7 693.2L1017.3 691.8L1018.9 690.5L1020.5 689.1L1022.0 687.8L1023.6 686.4L1025.3 685.1L1026.9 683.8L1028.6 682.6L1030.3 681.3L1032.1 680.1L1033.9 679.0L1035.8 677.9L1037.8 676.9L1039.8 675.9L1041.9 675.2L1043.9 674.7L1045.9 674.5L1047.8 674.7L1049.6 675.3L1051.2 676.4L1052.6 677.8L1053.9 679.4L1054.9 681.2L1055.7 683.0L1056.3 685.0L1056.8 687.1L1057.1 689.2L1057.4 691.3L1057.7 693.5L1057.9 695.6L1058.0 697.8L1058.2 699.9L1058.3 702.0L1058.5 704.2L1058.6 706.3L1058.7 708.4L1058.8 710.5L1058.8 712.6L1058.9 714.7L1058.9 716.8L1059.0 718.9L1059.0 721.0L1059.0 723.1L1059.0 725.2L1058.9 727.3L1058.9 729.3L1058.9 731.4L1058.8 733.5L1058.7 735.6L1058.6 737.7L1058.6 739.7L1058.5 741.8L1058.3 743.9L1058.2 746.0L1058.1 748.1L1058.0 750.2L1057.8 752.2L1057.7 754.3L1057.5 756.4L1057.3 758.5L1057.2 760.6L1057.0 762.7L1056.8 764.8L1056.6 766.8L1056.3 768.9L1056.1 771.0L1055.9 773.1L1055.6 775.2L1055.4 777.3L1055.1 779.3L1054.8 781.4L1054.5 783.5L1054.2 785.6L1053.9 787.7L1053.6 789.7L1053.3 791.8L1052.9 793.9L1052.5 796.0L1052.2 798.0L1051.8 800.1L1051.4 802.2L1051.0 804.2L1050.6 806.3L1050.2 808.3L1049.7 810.4L1049.3 812.5L1048.8 814.5L1048.3 816.5L1047.8 818.6L1047.3 820.6L1046.8 822.7L1046.3 824.7L1045.8 826.7L1045.2 828.7L1044.6 830.8L1044.1 832.8L1043.5 834.8L1042.9 836.8L1042.2 838.8L1041.6 840.8L1041.0 842.8L1040.3 844.8L1039.6 846.8L1038.9 848.7L1038.2 850.7L1037.5 852.7L1036.8 854.6L1036.0 856.6L1035.3 858.6L1034.5 860.5L1033.7 862.4L1032.9 864.4L1032.1 866.3L1031.2 868.2L1030.4 870.1L1029.6 872.1L1030.4 874.1L1031.2 876.0L1032.1 877.9L1032.9 879.8L1033.7 881.8L1034.5 883.7L1035.3 885.6L1036.0 887.6L1036.8 889.6L1037.5 891.5L1038.2 893.5L1038.9 895.5L1039.6 897.4L1040.3 899.4L1041.0 901.4L1041.6 903.4L1042.2 905.4L1042.9 907.4L1043.5 909.4L1044.1 911.4L1044.6 913.4L1045.2 915.5L1045.8 917.5L1046.3 919.5L1046.8 921.5L1047.3 923.6L1047.8 925.6L1048.3 927.7L1048.8 929.7L1049.3 931.7L1049.7 933.8L1050.2 935.9L1050.6 937.9L1051.0 940.0L1051.4 942.0L1051.8 944.1L1052.2 946.2L1052.5 948.2L1052.9 950.3L1053.3 952.4L1053.6 954.5L1053.9 956.5L1054.2 958.6L1054.5 960.7L1054.8 962.8L1055.1 964.9L1055.4 966.9L1055.6 969.0L1055.9 971.1L1056.1 973.2L1056.3 975.3L1056.6 977.4L1056.8 979.4L1057.0 981.5L1057.2 983.6L1057.3 985.7L1057.5 987.8L1057.7 989.9L1057.8 992.0L1058.0 994.0L1058.1 996.1L1058.2 998.2L1058.3 1000.3L1058.5 1002.4L1058.6 1004.5L1058.6 1006.5L1058.7 1008.6L1058.8 1010.7L1058.9 1012.8L1058.9 1014.9L1058.9 1016.9L1059.0 1019.0L1059.0 1021.1L1059.0 1023.2L1059.0 1025.3L1058.9 1027.4L1058.9 1029.5L1058.8 1031.6L1058.8 1033.7L1058.7 1035.8L1058.6 1037.9L1058.5 1040.0L1058.3 1042.2L1058.2 1044.3L1058.0 1046.4L1057.9 1048.6L1057.7 1050.7L1057.4 1052.9L1057.1 1055.0L1056.8 1057.1L1056.3 1059.2L1055.7 1061.2L1054.9 1063.0L1053.9 1064.8L1052.6 1066.4L1051.2 1067.8L1049.6 1068.9L1047.8 1069.5L1045.9 1069.7L1043.9 1069.5L1041.9 1069.0L1039.8 1068.3L1037.8 1067.3L1035.8 1066.3L1033.9 1065.2L1032.1 1064.1L1030.3 1062.9L1028.6 1061.6L1026.9 1060.4L1025.3 1059.1L1023.6 1057.8L1022.0 1056.4L1020.5 1055.1L1018.9 1053.7L1017.3 1052.4L1015.7 1051.0L1014.2 1049.7L1012.6 1048.3L1011.0 1047.0L1009.4 1045.6L1007.8 1044.3L1006.2 1042.9L1004.6 1041.5L1003.0 1040.2L1001.5 1038.8L999.9 1037.4L998.3 1036.1L996.7 1034.7L995.1 1033.3L993.5 1032.0L991.9 1030.6L990.3 1029.2L988.7 1027.8L987.2 1026.5L985.6 1025.1L984.0 1023.7L982.4 1022.3L980.8 1020.9L979.2 1019.6L977.7 1018.2L976.1 1016.8L974.5 1015.4L972.9 1014.0L971.4 1012.6L969.8 1011.2L968.2 1009.8L966.7 1008.4L965.1 1007.0L963.5 1005.6" fill="none" stroke="#00ff00" stroke-width="7.20" stroke-linejoin="bevel" stroke-linecap="butt" stroke-miterlimit="10"/>
<path d="M646.5 678.0L646.6 681.4L646.8 684.7L646.9 688.0L647.1 691.4L647.2 694.7L647.4 698.1L647.5 701.4L647.6 704.8L647.8 708.1L647.9 711.5L648.1 714.8L648.3 718.2L648.4 721.6L648.6 724.9L648.8 728.3L649.0 731.6L649.2 735.0L649.4 738.3L649.6 741.7L649.9 745.0L650.2 748.4L650.4 751.7L650.7 755.1L651.0 758.4L651.4 761.7L651.7 765.1L652.1 768.4L652.5 771.7L652.9 775.1L653.4 778.4L653.8 781.7L654.3 785.0L654.8 788.3L655.4 791.6L656.0 794.9L656.6 798.2L657.2 801.5L657.9 804.8L658.6 808.1L659.3 811.4L660.0 814.6L660.8 817.9L661.6 821.1L662.5 824.4L663.4 827.6L664.3 830.8L665.2 834.1L666.2 837.3L667.2 840.5L668.2 843.7L669.3 846.8L670.4 850.0L671.5 853.2L672.6 856.4L673.8 859.5L675.0 862.6L676.2 865.8L677.4 868.9L678.4 872.1L677.4 875.3L676.2 878.4L675.0 881.6L673.8 884.7L672.6 887.8L671.5 891.0L670.4 894.2L669.3 897.4L668.2 900.5L667.2 903.7L666.2 906.9L665.2 910.1L664.3 913.4L663.4 916.6L662.5 919.8L661.6 923.1L660.8 926.3L660.0 929.6L659.3 932.8L658.6 936.1L657.9 939.4L657.2 942.7L656.6 946.0L656.0 949.3L655.4 952.6L654.8 955.9L654.3 959.2L653.8 962.5L653.4 965.8L652.9 969.1L652.5 972.5L652.1 975.8L651.7 979.1L651.4 982.5L651.0 985.8L650.7 989.1L650.4 992.5L650.2 995.8L649.9 999.2L649.6 1002.5L649.4 1005.9L649.2 1009.2L649.0 1012.6L648.8 1015.9L648.6 1019.3L648.4 1022.6L648.3 1026.0L648.1 1029.4L647.9 1032.7L647.8 1036.1L647.6 1039.4L647.5 1042.8L647.4 1046.1L647.2 1049.5L647.1 1052.8L646.9 1056.2L646.8 1059.5L646.6 1062.8L646.5 1066.2" fill="none" stroke="#00ff00" stroke-width="7.20" stroke-linejoin="bevel" stroke-linecap="butt" stroke-miterlimit="10"/>
<path d="M646.3 679.6L647.8 681.2L649.3 682.7L650.7 684.2L652.2 685.7L653.7 687.1L655.2 688.6L656.8 690.1L658.3 691.5L659.8 692.9L661.4 694.4L662.9 695.8L664.5 697.2L666.0 698.6L667.6 700.0L669.2 701.3L670.8 702.7L672.4 704.0L674.0 705.4L675.6 706.7L677.2 708.1L678.8 709.4L680.5 710.7L682.1 712.0L683.7 713.3L685.4 714.6L687.0 715.9L688.7 717.1L690.4 718.4L692.0 719.7L693.7 720.9L695.4 722.2L697.1 723.4L698.8 724.7L700.5 725.9L702.2 727.1L703.9 728.3L705.6 729.6L707.3 730.8L709.0 732.0L710.7 733.2L712.4 734.4L714.2 735.6L715.9 736.8L717.6 737.9L719.3 739.1L721.1 740.3L722.8 741.5L724.6 742.7L726.3 743.8L728.0 745.0L729.8 746.2L731.5 747.3L733.3 748.5L735.0 749.7L736.8 750.8L738.5 752.0L740.3 753.2L742.0 754.3L743.8 755.5L745.5 756.6L747.3 757.8L749.1 758.9L750.8 760.1L752.6 761.3L754.3 762.4L756.1 763.6L757.8 764.7L759.6 765.9L761.3 767.1L763.1 768.2L764.8 769.4L766.6 770.6L768.3 771.7L770.1 772.9L771.8 774.0L773.6 775.2L775.3 776.3L777.1 777.4L778.9 778.5L780.6 779.6L782.4 780.7L784.2 781.8L786.0 782.9L787.8 784.0L789.6 785.0L791.4 786.0L793.3 787.1L795.1 788.0L796.9 789.0L798.8 790.0L800.6 790.9L802.5 791.8L804.4 792.7L806.3 793.6L808.2 794.5L810.1 795.3L812.1 796.1L814.0 796.9L816.0 797.6L818.0 798.4L820.0 799.0L822.0 799.7L824.0 800.3L826.0 800.9L828.1 801.5L830.1 802.0L832.2 802.5L834.3 802.9L836.3 803.4L838.4 803.7L840.5 804.1L842.6 804.3L844.7 804.6L846.8 804.8L848.8 804.9L850.9 805.0L853.0 805.0L855.1 805.0L857.2 805.0L859.3 804.8L861.3 804.7L863.4 804.4L865.4 804.1L867.5 803.8L869.5 803.4L871.5 802.9L873.6 802.4L875.6 801.8L877.5 801.2L879.5 800.5L881.5 799.7L883.4 798.9L885.4 798.1L887.3 797.2L889.2 796.3L891.1 795.4L893.0 794.4L894.8 793.4L896.7 792.4L898.5 791.3L900.4 790.2L902.2 789.1L904.0 788.0L905.7 786.9L907.5 785.7L909.2 784.5L911.0 783.4L912.7 782.2L914.4 780.9L916.1 779.7L917.7 778.5L919.4 777.2L921.1 775.9L922.7 774.6L924.4 773.3L926.0 772.0L927.6 770.7L929.2 769.4L930.8 768.0L932.4 766.7L934.0 765.3L935.6 764.0L937.2 762.6L938.7 761.2L940.3 759.8L941.9 758.4L943.4 757.0L945.0 755.6L946.5 754.2L948.1 752.8L949.6 751.4L951.2 750.0L952.7 748.6L954.3 747.1L955.8 745.7L957.3 744.3L958.9 742.9L960.4 741.5L962.0 740.1L963.5 738.6" fill="none" stroke="#00a6a6" stroke-width="7.20" stroke-linejoin="round" stroke-linecap="butt" stroke-miterlimit="10"/>
<path d="M646.3 1064.6L647.8 1063.0L649.3 1061.5L650.7 1060.0L652.2 1058.5L653.7 1057.1L655.2 1055.6L656.8 1054.1L658.3 1052.7L659.8 1051.3L661.4 1049.8L662.9 1048.4L664.5 1047.0L666.0 1045.6L667.6 1044.2L669.2 1042.9L670.8 1041.5L672.4 1040.2L674.0 1038.8L675.6 1037.5L677.2 1036.1L678.8 1034.8L680.5 1033.5L682.1 1032.2L683.7 1030.9L685.4 1029.6L687.0 1028.3L688.7 1027.1L690.4 1025.8L692.0 1024.5L693.7 1023.3L695.4 1022.0L697.1 1020.8L698.8 1019.5L700.5 1018.3L702.2 1017.1L703.9 1015.9L705.6 1014.6L707.3 1013.4L709.0 1012.2L710.7 1011.0L712.4 1009.8L714.2 1008.6L715.9 1007.4L717.6 1006.3L719.3 1005.1L721.1 1003.9L722.8 1002.7L724.6 1001.5L726.3 1000.4L728.0 999.2L729.8 998.0L731.5 996.9L733.3 995.7L735.0 994.5L736.8 993.4L738.5 992.2L740.3 991.0L742.0 989.9L743.8 988.7L745.5 987.6L747.3 986.4L749.1 985.3L750.8 984.1L752.6 982.9L754.3 981.8L756.1 980.6L757.8 979.5L759.6 978.3L761.3 977.1L763.1 976.0L764.8 974.8L766.6 973.6L768.3 972.5L770.1 971.3L771.8 970.2L773.6 969.0L775.3 967.9L777.1 966.8L778.9 965.7L780.6 964.6L782.4 963.5L784.2 962.4L786.0 961.3L787.8 960.2L789.6 959.2L791.4 958.2L793.3 957.1L795.1 956.2L796.9 955.2L798.8 954.2L800.6 953.3L802.5 952.4L804.4 951.5L806.3 950.6L808.2 949.7L810.1 948.9L812.1 948.1L814.0 947.3L816.0 946.6L818.0 945.8L820.0 945.2L822.0 944.5L824.0 943.9L826.0 943.3L828.1 942.7L830.1 942.2L832.2 941.7L834.3 941.3L836.3 940.8L838.4 940.5L840.5 940.1L842.6 939.9L844.7 939.6L846.8 939.4L848.8 939.3L850.9 939.2L853.0 939.2L855.1 939.2L857.2 939.2L859.3 939.4L861.3 939.5L863.4 939.8L865.4 940.1L867.5 940.4L869.5 940.8L871.5 941.3L873.6 941.8L875.6 942.4L877.5 943.0L879.5 943.7L881.5 944.5L883.4 945.3L885.4 946.1L887.3 947.0L889.2 947.9L891.1 948.8L893.0 949.8L894.8 950.8L896.7 951.8L898.5 952.9L900.4 954.0L902.2 955.1L904.0 956.2L905.7 957.3L907.5 958.5L909.2 959.7L911.0 960.8L912.7 962.0L914.4 963.3L916.1 964.5L917.7 965.7L919.4 967.0L921.1 968.3L922.7 969.6L924.4 970.9L926.0 972.2L927.6 973.5L929.2 974.8L930.8 976.2L932.4 977.5L934.0 978.9L935.6 980.2L937.2 981.6L938.7 983.0L940.3 984.4L941.9 985.8L943.4 987.2L945.0 988.6L946.5 990.0L948.1 991.4L949.6 992.8L951.2 994.2L952.7 995.6L954.3 997.1L955.8 998.5L957.3 999.9L958.9 1001.3L960.4 1002.7L962.0 1004.1L963.5 1005.6" fill="none" stroke="#00a6a6" stroke-width="7.20" stroke-linejoin="round" stroke-linecap="butt" stroke-miterlimit="10"/>
<path d="M755.3 738.6L753.7 737.2L752.1 735.8L750.6 734.4L749.0 733.0L747.4 731.6L745.9 730.2L744.3 728.8L742.7 727.4L741.1 726.0L739.6 724.6L738.0 723.3L736.4 721.9L734.8 720.5L733.2 719.1L731.6 717.7L730.1 716.4L728.5 715.0L726.9 713.6L725.3 712.2L723.7 710.9L722.1 709.5L720.5 708.1L718.9 706.8L717.3 705.4L715.8 704.0L714.2 702.7L712.6 701.3L711.0 699.9L709.4 698.6L707.8 697.2L706.2 695.9L704.6 694.5L703.1 693.2L701.5 691.8L699.9 690.5L698.3 689.1L696.8 687.8L695.2 686.4L693.5 685.1L691.9 683.8L690.2 682.6L688.5 681.3L686.7 680.1L684.9 679.0L683.0 677.9L681.0 676.9L679.0 675.9L676.9 675.2L674.9 674.7L672.9 674.5L671.0 674.7L669.2 675.3L667.6 676.4L666.2 677.8L664.9 679.4L663.9 681.2L663.1 683.0L662.5 685.0L662.0 687.1L661.7 689.2L661.4 691.3L661.1 693.5L660.9 695.6L660.8 697.8L660.6 699.9L660.5 702.0L660.3 704.2L660.2 706.3L660.1 708.4L660.0 710.5L660.0 712.6L659.9 714.7L659.9 716.8L659.8 718.9L659.8 721.0L659.8 723.1L659.8 725.2L659.9 727.3L659.9 729.3L659.9 731.4L660.0 733.5L660.1 735.6L660.2 737.7L660.2 739.7L660.3 741.8L660.5 743.9L660.6 746.0L660.7 748.1L660.8 750.2L661.0 752.2L661.1 754.3L661.3 756.4L661.5 758.5L661.6 760.6L661.8 762.7L662.0 764.8L662.2 766.8L662.5 768.9L662.7 771.0L662.9 773.1L663.2 775.2L663.4 777.3L663.7 779.3L664.0 781.4L664.3 783.5L664.6 785.6L664.9 787.7L665.2 789.7L665.5 791.8L665.9 793.9L666.3 796.0L666.6 798.0L667.0 800.1L667.4 802.2L667.8 804.2L668.2 806.3L668.6 808.3L669.1 810.4L669.5 812.5L670.0 814.5L670.5 816.5L671.0 818.6L671.5 820.6L672.0 822.7L672.5 824.7L673.0 826.7L673.6 828.7L674.2 830.8L674.7 832.8L675.3 834.8L675.9 836.8L676.6 838.8L677.2 840.8L677.8 842.8L678.5 844.8L679.2 846.8L679.9 848.7L680.6 850.7L681.3 852.7L682.0 854.6L682.8 856.6L683.5 858.6L684.3 860.5L685.1 862.4L685.9 864.4L686.7 866.3L687.6 868.2L688.4 870.1L689.2 872.1L688.4 874.1L687.6 876.0L686.7 877.9L685.9 879.8L685.1 881.8L684.3 883.7L683.5 885.6L682.8 887.6L682.0 889.6L681.3 891.5L680.6 893.5L679.9 895.5L679.2 897.4L678.5 899.4L677.8 901.4L677.2 903.4L676.6 905.4L675.9 907.4L675.3 909.4L674.7 911.4L674.2 913.4L673.6 915.5L673.0 917.5L672.5 919.5L672.0 921.5L671.5 923.6L671.0 925.6L670.5 927.7L670.0 929.7L669.5 931.7L669.1 933.8L668.6 935.9L668.2 937.9L667.8 940.0L667.4 942.0L667.0 944.1L666.6 946.2L666.3 948.2L665.9 950.3L665.5 952.4L665.2 954.5L664.9 956.5L664.6 958.6L664.3 960.7L664.0 962.8L663.7 964.9L663.4 966.9L663.2 969.0L662.9 971.1L662.7 973.2L662.5 975.3L662.2 977.4L662.0 979.4L661.8 981.5L661.6 983.6L661.5 985.7L661.3 987.8L661.1 989.9L661.0 992.0L660.8 994.0L660.7 996.1L660.6 998.2L660.5 1000.3L660.3 1002.4L660.2 1004.5L660.2 1006.5L660.1 1008.6L660.0 1010.7L659.9 1012.8L659.9 1014.9L659.9 1016.9L659.8 1019.0L659.8 1021.1L659.8 1023.2L659.8 1025.3L659.9 1027.4L659.9 1029.5L660.0 1031.6L660.0 1033.7L660.1 1035.8L660.2 1037.9L660.3 1040.0L660.5 1042.2L660.6 1044.3L660.8 1046.4L660.9 1048.6L661.1 1050.7L661.4 1052.9L661.7 1055.0L662.0 1057.1L662.5 1059.2L663.1 1061.2L663.9 1063.0L664.9 1064.8L666.2 1066.4L667.6 1067.8L669.2 1068.9L671.0 1069.5L672.9 1069.7L674.9 1069.5L676.9 1069.0L679.0 1068.3L681.0 1067.3L683.0 1066.3L684.9 1065.2L686.7 1064.1L688.5 1062.9L690.2 1061.6L691.9 1060.4L693.5 1059.1L695.2 1057.8L696.8 1056.4L698.3 1055.1L699.9 1053.7L701.5 1052.4L703.1 1051.0L704.6 1049.7L706.2 1048.3L707.8 1047.0L709.4 1045.6L711.0 1044.3L712.6 1042.9L714.2 1041.5L715.8 1040.2L717.3 1038.8L718.9 1037.4L720.5 1036.1L722.1 1034.7L723.7 1033.3L725.3 1032.0L726.9 1030.6L728.5 1029.2L730.1 1027.8L731.6 1026.5L733.2 1025.1L734.8 1023.7L736.4 1022.3L738.0 1020.9L739.6 1019.6L741.1 1018.2L742.7 1016.8L744.3 1015.4L745.9 1014.0L747.4 1012.6L749.0 1011.2L750.6 1009.8L752.1 1008.4L753.7 1007.0L755.3 1005.6" fill="none" stroke="#00a6a6" stroke-width="7.20" stroke-linejoin="bevel" stroke-linecap="butt" stroke-miterlimit="10"/>
<path d="M1072.3 678.0L1072.2 681.4L1072.0 684.7L1071.9 688.0L1071.7 691.4L1071.6 694.7L1071.4 698.1L1071.3 701.4L1071.2 704.8L1071.0 708.1L1070.9 711.5L1070.7 714.8L1070.5 718.2L1070.4 721.6L1070.2 724.9L1070.0 728.3L1069.8 731.6L1069.6 735.0L1069.4 738.3L1069.2 741.7L1068.9 745.0L1068.6 748.4L1068.4 751.7L1068.1 755.1L1067.8 758.4L1067.4 761.7L1067.1 765.1L1066.7 768.4L1066.3 771.7L1065.9 775.1L1065.4 778.4L1065.0 781.7L1064.5 785.0L1064.0 788.3L1063.4 791.6L1062.8 794.9L1062.2 798.2L1061.6 801.5L1060.9 804.8L1060.2 808.1L1059.5 811.4L1058.8 814.6L1058.0 817.9L1057.2 821.1L1056.3 824.4L1055.4 827.6L1054.5 830.8L1053.6 834.1L1052.6 837.3L1051.6 840.5L1050.6 843.7L1049.5 846.8L1048.4 850.0L1047.3 853.2L1046.2 856.4L1045.0 859.5L1043.8 862.6L1042.6 865.8L1041.4 868.9L1040.4 872.1L1041.4 875.3L1042.6 878.4L1043.8 881.6L1045.0 884.7L1046.2 887.8L1047.3 891.0L1048.4 894.2L1049.5 897.4L1050.6 900.5L1051.6 903.7L1052.6 906.9L1053.6 910.1L1054.5 913.4L1055.4 916.6L1056.3 919.8L1057.2 923.1L1058.0 926.3L1058.8 929.6L1059.5 932.8L1060.2 936.1L1060.9 939.4L1061.6 942.7L1062.2 946.0L1062.8 949.3L1063.4 952.6L1064.0 955.9L1064.5 959.2L1065.0 962.5L1065.4 965.8L1065.9 969.1L1066.3 972.5L1066.7 975.8L1067.1 979.1L1067.4 982.5L1067.8 985.8L1068.1 989.1L1068.4 992.5L1068.6 995.8L1068.9 999.2L1069.2 1002.5L1069.4 1005.9L1069.6 1009.2L1069.8 1012.6L1070.0 1015.9L1070.2 1019.3L1070.4 1022.6L1070.5 1026.0L1070.7 1029.4L1070.9 1032.7L1071.0 1036.1L1071.2 1039.4L1071.3 1042.8L1071.4 1046.1L1071.6 1049.5L1071.7 1052.8L1071.9 1056.2L1072.0 1059.5L1072.2 1062.8L1072.3 1066.2" fill="none" stroke="#00a6a6" stroke-width="7.20" stroke-linejoin="bevel" stroke-linecap="butt" stroke-miterlimit="10"/>
</g>
</g>
<path d="M637.10 872.10H1079.30" stroke="#000" stroke-opacity="0.5" stroke-width="1.3" stroke-dasharray="6.1 5.8" fill="none"/>
<path d="M656.65 1089.50L656.65 1086.30M656.65 653.70L656.65 656.90M724.20 1089.50L724.20 1086.30M724.20 653.70L724.20 656.90M791.75 1089.50L791.75 1086.30M791.75 653.70L791.75 656.90M859.30 1089.50L859.30 1086.30M859.30 653.70L859.30 656.90M926.85 1089.50L926.85 1086.30M926.85 653.70L926.85 656.90M994.40 1089.50L994.40 1086.30M994.40 653.70L994.40 656.90M1061.95 1089.50L1061.95 1086.30M1061.95 653.70L1061.95 656.90M639.80 1078.50L643.00 1078.50M1079.30 1078.50L1076.10 1078.50M639.80 1009.70L643.00 1009.70M1079.30 1009.70L1076.10 1009.70M639.80 940.90L643.00 940.90M1079.30 940.90L1076.10 940.90M639.80 872.10L643.00 872.10M1079.30 872.10L1076.10 872.10M639.80 803.30L643.00 803.30M1079.30 803.30L1076.10 803.30M639.80 734.50L643.00 734.50M1079.30 734.50L1076.10 734.50M639.80 665.70L643.00 665.70M1079.30 665.70L1076.10 665.70" stroke="#505050" stroke-width="1.7" fill="none"/>
<path d="M643.14 1089.50L643.14 1088.40M643.14 653.70L643.14 654.80M670.16 1089.50L670.16 1088.40M670.16 653.70L670.16 654.80M683.67 1089.50L683.67 1088.40M683.67 653.70L683.67 654.80M697.18 1089.50L697.18 1088.40M697.18 653.70L697.18 654.80M710.69 1089.50L710.69 1088.40M710.69 653.70L710.69 654.80M737.71 1089.50L737.71 1088.40M737.71 653.70L737.71 654.80M751.22 1089.50L751.22 1088.40M751.22 653.70L751.22 654.80M764.73 1089.50L764.73 1088.40M764.73 653.70L764.73 654.80M778.24 1089.50L778.24 1088.40M778.24 653.70L778.24 654.80M805.26 1089.50L805.26 1088.40M805.26 653.70L805.26 654.80M818.77 1089.50L818.77 1088.40M818.77 653.70L818.77 654.80M832.28 1089.50L832.28 1088.40M832.28 653.70L832.28 654.80M845.79 1089.50L845.79 1088.40M845.79 653.70L845.79 654.80M872.81 1089.50L872.81 1088.40M872.81 653.70L872.81 654.80M886.32 1089.50L886.32 1088.40M886.32 653.70L886.32 654.80M899.83 1089.50L899.83 1088.40M899.83 653.70L899.83 654.80M913.34 1089.50L913.34 1088.40M913.34 653.70L913.34 654.80M940.36 1089.50L940.36 1088.40M940.36 653.70L940.36 654.80M953.87 1089.50L953.87 1088.40M953.87 653.70L953.87 654.80M967.38 1089.50L967.38 1088.40M967.38 653.70L967.38 654.80M980.89 1089.50L980.89 1088.40M980.89 653.70L980.89 654.80M1007.91 1089.50L1007.91 1088.40M1007.91 653.70L1007.91 654.80M1021.42 1089.50L1021.42 1088.40M1021.42 653.70L1021.42 654.80M1034.93 1089.50L1034.93 1088.40M1034.93 653.70L1034.93 654.80M1048.44 1089.50L1048.44 1088.40M1048.44 653.70L1048.44 654.80M1075.46 1089.50L1075.46 1088.40M1075.46 653.70L1075.46 654.80M639.80 1064.74L640.90 1064.74M1079.30 1064.74L1078.20 1064.74M639.80 1050.98L640.90 1050.98M1079.30 1050.98L1078.20 1050.98M639.80 1037.22L640.90 1037.22M1079.30 1037.22L1078.20 1037.22M639.80 1023.46L640.90 1023.46M1079.30 1023.46L1078.20 1023.46M639.80 995.94L640.90 995.94M1079.30 995.94L1078.20 995.94M639.80 982.18L640.90 982.18M1079.30 982.18L1078.20 982.18M639.80 968.42L640.90 968.42M1079.30 968.42L1078.20 968.42M639.80 954.66L640.90 954.66M1079.30 954.66L1078.20 954.66M639.80 927.14L640.90 927.14M1079.30 927.14L1078.20 927.14M639.80 913.38L640.90 913.38M1079.30 913.38L1078.20 913.38M639.80 899.62L640.90 899.62M1079.30 899.62L1078.20 899.62M639.80 885.86L640.90 885.86M1079.30 885.86L1078.20 885.86M639.80 858.34L640.90 858.34M1079.30 858.34L1078.20 858.34M639.80 844.58L640.90 844.58M1079.30 844.58L1078.20 844.58M639.80 830.82L640.90 830.82M1079.30 830.82L1078.20 830.82M639.80 817.06L640.90 817.06M1079.30 817.06L1078.20 817.06M639.80 789.54L640.90 789.54M1079.30 789.54L1078.20 789.54M639.80 775.78L640.90 775.78M1079.30 775.78L1078.20 775.78M639.80 762.02L640.90 762.02M1079.30 762.02L1078.20 762.02M639.80 748.26L640.90 748.26M1079.30 748.26L1078.20 748.26M639.80 720.74L640.90 720.74M1079.30 720.74L1078.20 720.74M639.80 706.98L640.90 706.98M1079.30 706.98L1078.20 706.98M639.80 693.22L640.90 693.22M1079.30 693.22L1078.20 693.22M639.80 679.46L640.90 679.46M1079.30 679.46L1078.20 679.46" stroke="#666" stroke-width="1.5" fill="none"/>
<rect x="638.30" y="652.20" width="442.50" height="438.80" fill="none" stroke="#000" stroke-width="3.00"/>
<text><tspan x="641.19" y="1120.31" textLength="14.32" lengthAdjust="spacingAndGlyphs" font-family="'Liberation Sans',sans-serif" font-weight="bold" font-style="normal" font-size="24.69" fill="#626262">−</tspan><tspan x="656.27" y="1117.80" font-family="'Liberation Sans',sans-serif" font-weight="bold" font-style="normal" font-size="23.50" fill="#626262">3</tspan></text>
<text><tspan x="708.93" y="1120.31" textLength="14.32" lengthAdjust="spacingAndGlyphs" font-family="'Liberation Sans',sans-serif" font-weight="bold" font-style="normal" font-size="24.69" fill="#626262">−</tspan><tspan x="723.73" y="1117.80" font-family="'Liberation Sans',sans-serif" font-weight="bold" font-style="normal" font-size="23.50" fill="#626262">2</tspan></text>
<text><tspan x="776.66" y="1120.31" textLength="14.32" lengthAdjust="spacingAndGlyphs" font-family="'Liberation Sans',sans-serif" font-weight="bold" font-style="normal" font-size="24.69" fill="#626262">−</tspan><tspan x="790.80" y="1117.80" font-family="'Liberation Sans',sans-serif" font-weight="bold" font-style="normal" font-size="23.50" fill="#626262">1</tspan></text>
<text><tspan x="851.88" y="1117.80" font-family="'Liberation Sans',sans-serif" font-weight="bold" font-style="normal" font-size="23.50" fill="#626262">0</tspan></text>
<text><tspan x="919.00" y="1117.80" font-family="'Liberation Sans',sans-serif" font-weight="bold" font-style="normal" font-size="23.50" fill="#626262">1</tspan></text>
<text><tspan x="987.03" y="1117.80" font-family="'Liberation Sans',sans-serif" font-weight="bold" font-style="normal" font-size="23.50" fill="#626262">2</tspan></text>
<text><tspan x="1054.67" y="1117.80" font-family="'Liberation Sans',sans-serif" font-weight="bold" font-style="normal" font-size="23.50" fill="#626262">3</tspan></text>
<text><tspan x="603.60" y="1089.16" textLength="14.32" lengthAdjust="spacingAndGlyphs" font-family="'Liberation Sans',sans-serif" font-weight="bold" font-style="normal" font-size="24.69" fill="#626262">−</tspan><tspan x="618.68" y="1086.65" font-family="'Liberation Sans',sans-serif" font-weight="bold" font-style="normal" font-size="23.50" fill="#626262">3</tspan></text>
<text><tspan x="603.97" y="1020.36" textLength="14.32" lengthAdjust="spacingAndGlyphs" font-family="'Liberation Sans',sans-serif" font-weight="bold" font-style="normal" font-size="24.69" fill="#626262">−</tspan><tspan x="618.77" y="1017.85" font-family="'Liberation Sans',sans-serif" font-weight="bold" font-style="normal" font-size="23.50" fill="#626262">2</tspan></text>
<text><tspan x="604.35" y="951.56" textLength="14.32" lengthAdjust="spacingAndGlyphs" font-family="'Liberation Sans',sans-serif" font-weight="bold" font-style="normal" font-size="24.69" fill="#626262">−</tspan><tspan x="618.48" y="949.05" font-family="'Liberation Sans',sans-serif" font-weight="bold" font-style="normal" font-size="23.50" fill="#626262">1</tspan></text>
<text><tspan x="618.79" y="880.25" font-family="'Liberation Sans',sans-serif" font-weight="bold" font-style="normal" font-size="23.50" fill="#626262">0</tspan></text>
<text><tspan x="618.48" y="811.45" font-family="'Liberation Sans',sans-serif" font-weight="bold" font-style="normal" font-size="23.50" fill="#626262">1</tspan></text>
<text><tspan x="618.77" y="742.65" font-family="'Liberation Sans',sans-serif" font-weight="bold" font-style="normal" font-size="23.50" fill="#626262">2</tspan></text>
<text><tspan x="618.68" y="673.85" font-family="'Liberation Sans',sans-serif" font-weight="bold" font-style="normal" font-size="23.50" fill="#626262">3</tspan></text>
</g>
<g id="panel-f">
<g>
<clipPath id="cl2"><rect x="1196.00" y="652.20" width="217.40" height="438.20"/></clipPath>
<clipPath id="cr2"><rect x="1413.40" y="652.20" width="224.60" height="438.20"/></clipPath>
<g clip-path="url(#cl2)">
<path d="M1204.3 684.0L1205.8 685.3L1207.3 686.5L1208.8 687.8L1210.3 689.0L1211.9 690.2L1213.4 691.4L1215.0 692.5L1216.6 693.7L1218.2 694.8L1219.8 695.9L1221.4 697.0L1223.1 698.0L1224.7 699.1L1226.4 700.1L1228.0 701.1L1229.7 702.1L1231.4 703.1L1233.1 704.1L1234.8 705.1L1236.5 706.1L1238.2 707.0L1239.9 708.0L1241.6 708.9L1243.3 709.8L1245.1 710.8L1246.8 711.7L1248.5 712.6L1250.3 713.5L1252.0 714.4L1253.8 715.3L1255.5 716.2L1257.2 717.1L1259.0 718.0L1260.7 718.9L1262.5 719.8L1264.2 720.7L1265.9 721.6L1267.7 722.5L1269.4 723.4L1271.1 724.3L1272.9 725.2L1274.6 726.1L1276.3 727.0L1278.1 727.9L1279.8 728.9L1281.5 729.8L1283.2 730.7L1285.0 731.6L1286.7 732.5L1288.4 733.5L1290.1 734.4L1291.9 735.3L1293.6 736.2L1295.3 737.2L1297.0 738.1L1298.7 739.0L1300.4 740.0L1302.1 740.9L1303.9 741.9L1305.6 742.8L1307.3 743.8L1309.0 744.7L1310.7 745.7L1312.4 746.7L1314.1 747.6L1315.8 748.6L1317.5 749.6L1319.2 750.6L1320.9 751.5L1322.6 752.5L1324.3 753.5L1326.0 754.5L1327.7 755.4L1329.4 756.4L1331.1 757.4L1332.8 758.3L1334.6 759.3L1336.3 760.2L1338.0 761.1L1339.7 762.1L1341.5 763.0L1343.2 763.9L1344.9 764.8L1346.7 765.6L1348.4 766.5L1350.2 767.4L1352.0 768.2L1353.7 769.0L1355.5 769.8L1357.3 770.6L1359.1 771.3L1360.9 772.0L1362.7 772.7L1364.6 773.4L1366.4 774.1L1368.3 774.7L1370.1 775.3L1372.0 775.9L1373.9 776.4L1375.8 776.9L1377.7 777.4L1379.6 777.9L1381.5 778.3L1383.5 778.7L1385.4 779.1L1387.3 779.4L1389.3 779.7L1391.2 779.9L1393.2 780.1L1395.2 780.3L1397.1 780.4L1399.1 780.5L1401.0 780.5L1403.0 780.5L1404.9 780.5L1406.9 780.4L1408.8 780.3L1410.8 780.1L1412.7 779.8L1414.6 779.6L1416.5 779.2L1418.4 778.9L1420.3 778.4L1422.1 778.0L1424.0 777.4L1425.8 776.8L1427.6 776.2L1429.5 775.5L1431.2 774.7L1433.0 773.9L1434.8 773.1L1436.5 772.2L1438.2 771.3L1439.9 770.3L1441.6 769.3L1443.3 768.3L1445.0 767.2L1446.6 766.1L1448.2 764.9L1449.8 763.8L1451.4 762.6L1453.0 761.4L1454.6 760.2L1456.2 758.9L1457.7 757.7L1459.2 756.4L1460.7 755.1L1462.2 753.8L1463.7 752.5L1465.2 751.2L1466.7 749.9L1468.1 748.6L1469.6 747.3L1471.0 745.9L1472.4 744.6L1473.8 743.2L1475.2 741.9L1476.7 740.5L1478.1 739.2L1479.4 737.8L1480.8 736.4L1482.2 735.1L1483.6 733.7" fill="none" stroke="#00a6a6" stroke-width="7.20" stroke-linejoin="round" stroke-linecap="butt" stroke-miterlimit="10"/>
<path d="M1204.3 1059.8L1205.8 1058.5L1207.3 1057.3L1208.8 1056.0L1210.3 1054.8L1211.9 1053.6L1213.4 1052.4L1215.0 1051.3L1216.6 1050.1L1218.2 1049.0L1219.8 1047.9L1221.4 1046.8L1223.1 1045.8L1224.7 1044.7L1226.4 1043.7L1228.0 1042.7L1229.7 1041.7L1231.4 1040.7L1233.1 1039.7L1234.8 1038.7L1236.5 1037.7L1238.2 1036.8L1239.9 1035.8L1241.6 1034.9L1243.3 1034.0L1245.1 1033.0L1246.8 1032.1L1248.5 1031.2L1250.3 1030.3L1252.0 1029.4L1253.8 1028.5L1255.5 1027.6L1257.2 1026.7L1259.0 1025.8L1260.7 1024.9L1262.5 1024.0L1264.2 1023.1L1265.9 1022.2L1267.7 1021.3L1269.4 1020.4L1271.1 1019.5L1272.9 1018.6L1274.6 1017.7L1276.3 1016.8L1278.1 1015.9L1279.8 1014.9L1281.5 1014.0L1283.2 1013.1L1285.0 1012.2L1286.7 1011.3L1288.4 1010.3L1290.1 1009.4L1291.9 1008.5L1293.6 1007.6L1295.3 1006.6L1297.0 1005.7L1298.7 1004.8L1300.4 1003.8L1302.1 1002.9L1303.9 1001.9L1305.6 1001.0L1307.3 1000.0L1309.0 999.1L1310.7 998.1L1312.4 997.1L1314.1 996.2L1315.8 995.2L1317.5 994.2L1319.2 993.2L1320.9 992.3L1322.6 991.3L1324.3 990.3L1326.0 989.3L1327.7 988.4L1329.4 987.4L1331.1 986.4L1332.8 985.5L1334.6 984.5L1336.3 983.6L1338.0 982.7L1339.7 981.7L1341.5 980.8L1343.2 979.9L1344.9 979.0L1346.7 978.2L1348.4 977.3L1350.2 976.4L1352.0 975.6L1353.7 974.8L1355.5 974.0L1357.3 973.2L1359.1 972.5L1360.9 971.8L1362.7 971.1L1364.6 970.4L1366.4 969.7L1368.3 969.1L1370.1 968.5L1372.0 967.9L1373.9 967.4L1375.8 966.9L1377.7 966.4L1379.6 965.9L1381.5 965.5L1383.5 965.1L1385.4 964.7L1387.3 964.4L1389.3 964.1L1391.2 963.9L1393.2 963.7L1395.2 963.5L1397.1 963.4L1399.1 963.3L1401.0 963.3L1403.0 963.3L1404.9 963.3L1406.9 963.4L1408.8 963.5L1410.8 963.7L1412.7 964.0L1414.6 964.2L1416.5 964.6L1418.4 964.9L1420.3 965.4L1422.1 965.8L1424.0 966.4L1425.8 967.0L1427.6 967.6L1429.5 968.3L1431.2 969.1L1433.0 969.9L1434.8 970.7L1436.5 971.6L1438.2 972.5L1439.9 973.5L1441.6 974.5L1443.3 975.5L1445.0 976.6L1446.6 977.7L1448.2 978.9L1449.8 980.0L1451.4 981.2L1453.0 982.4L1454.6 983.6L1456.2 984.9L1457.7 986.1L1459.2 987.4L1460.7 988.7L1462.2 990.0L1463.7 991.3L1465.2 992.6L1466.7 993.9L1468.1 995.2L1469.6 996.5L1471.0 997.9L1472.4 999.2L1473.8 1000.6L1475.2 1001.9L1476.7 1003.3L1478.1 1004.6L1479.4 1006.0L1480.8 1007.4L1482.2 1008.7L1483.6 1010.1" fill="none" stroke="#00a6a6" stroke-width="7.20" stroke-linejoin="round" stroke-linecap="butt" stroke-miterlimit="10"/>
<path d="M1349.8 733.7L1348.4 732.3L1347.0 731.0L1345.6 729.6L1344.2 728.2L1342.9 726.9L1341.5 725.5L1340.1 724.2L1338.7 722.8L1337.3 721.5L1335.9 720.1L1334.5 718.8L1333.0 717.5L1331.6 716.2L1330.2 714.9L1328.7 713.6L1327.3 712.3L1325.8 711.0L1324.4 709.7L1322.9 708.4L1321.4 707.2L1319.9 706.0L1318.3 704.7L1316.8 703.5L1315.3 702.3L1313.7 701.1L1312.2 700.0L1310.6 698.8L1309.0 697.6L1307.4 696.5L1305.8 695.4L1304.2 694.3L1302.5 693.2L1300.9 692.1L1299.2 691.0L1297.6 690.0L1295.9 688.9L1294.2 687.9L1292.5 686.9L1290.8 685.9L1289.1 684.9L1287.4 683.9L1285.6 683.0L1283.9 682.0L1282.1 681.1L1280.3 680.3L1278.6 679.5L1276.8 678.7L1275.0 678.0L1273.1 677.4L1271.3 676.8L1269.4 676.2L1267.6 675.8L1265.7 675.4L1263.8 675.2L1261.8 675.0L1259.9 674.9L1257.9 674.9L1256.0 675.0L1254.0 675.2L1252.0 675.5L1250.0 676.0L1248.1 676.6L1246.3 677.4L1244.6 678.4L1243.0 679.5L1241.6 680.8L1240.4 682.2L1239.3 683.7L1238.3 685.4L1237.5 687.1L1236.8 688.9L1236.2 690.8L1235.6 692.7L1235.1 694.6L1234.7 696.5L1234.2 698.4L1233.8 700.4L1233.5 702.3L1233.1 704.2L1232.8 706.2L1232.5 708.1L1232.3 710.1L1232.1 712.0L1231.9 713.9L1231.7 715.9L1231.6 717.8L1231.5 719.8L1231.4 721.7L1231.3 723.7L1231.2 725.6L1231.2 727.6L1231.2 729.6L1231.1 731.5L1231.2 733.5L1231.2 735.4L1231.2 737.4L1231.2 739.4L1231.3 741.3L1231.3 743.3L1231.4 745.2L1231.5 747.2L1231.5 749.1L1231.6 751.1L1231.7 753.1L1231.8 755.0L1231.9 757.0L1232.0 758.9L1232.1 760.9L1232.2 762.8L1232.4 764.8L1232.5 766.8L1232.6 768.7L1232.8 770.7L1232.9 772.6L1233.1 774.6L1233.3 776.5L1233.5 778.5L1233.6 780.4L1233.8 782.4L1234.0 784.3L1234.2 786.3L1234.5 788.2L1234.7 790.1L1234.9 792.1L1235.2 794.0L1235.4 796.0L1235.7 797.9L1235.9 799.8L1236.2 801.8L1236.5 803.7L1236.8 805.6L1237.1 807.6L1237.4 809.5L1237.7 811.4L1238.0 813.3L1238.4 815.3L1238.7 817.2L1239.1 819.1L1239.5 821.0L1239.9 822.9L1240.2 824.9L1240.6 826.8L1241.1 828.7L1241.5 830.6L1241.9 832.5L1242.4 834.4L1242.8 836.3L1243.3 838.2L1243.8 840.1L1244.2 842.0L1244.7 843.9L1245.2 845.8L1245.8 847.7L1246.3 849.5L1246.8 851.4L1247.4 853.3L1248.0 855.2L1248.6 857.0L1249.1 858.9L1249.8 860.8L1250.4 862.6L1251.0 864.5L1251.6 866.4L1252.3 868.2L1253.0 870.1L1253.6 871.9L1253.0 873.7L1252.3 875.6L1251.6 877.4L1251.0 879.3L1250.4 881.2L1249.8 883.0L1249.1 884.9L1248.6 886.8L1248.0 888.6L1247.4 890.5L1246.8 892.4L1246.3 894.3L1245.8 896.1L1245.2 898.0L1244.7 899.9L1244.2 901.8L1243.8 903.7L1243.3 905.6L1242.8 907.5L1242.4 909.4L1241.9 911.3L1241.5 913.2L1241.1 915.1L1240.6 917.0L1240.2 918.9L1239.9 920.9L1239.5 922.8L1239.1 924.7L1238.7 926.6L1238.4 928.5L1238.0 930.5L1237.7 932.4L1237.4 934.3L1237.1 936.2L1236.8 938.2L1236.5 940.1L1236.2 942.0L1235.9 944.0L1235.7 945.9L1235.4 947.8L1235.2 949.8L1234.9 951.7L1234.7 953.7L1234.5 955.6L1234.2 957.5L1234.0 959.5L1233.8 961.4L1233.6 963.4L1233.5 965.3L1233.3 967.3L1233.1 969.2L1232.9 971.2L1232.8 973.1L1232.6 975.1L1232.5 977.0L1232.4 979.0L1232.2 981.0L1232.1 982.9L1232.0 984.9L1231.9 986.8L1231.8 988.8L1231.7 990.7L1231.6 992.7L1231.5 994.7L1231.5 996.6L1231.4 998.6L1231.3 1000.5L1231.3 1002.5L1231.2 1004.4L1231.2 1006.4L1231.2 1008.4L1231.2 1010.3L1231.1 1012.3L1231.2 1014.2L1231.2 1016.2L1231.2 1018.2L1231.3 1020.1L1231.4 1022.1L1231.5 1024.0L1231.6 1026.0L1231.7 1027.9L1231.9 1029.9L1232.1 1031.8L1232.3 1033.7L1232.5 1035.7L1232.8 1037.6L1233.1 1039.6L1233.5 1041.5L1233.8 1043.4L1234.2 1045.4L1234.7 1047.3L1235.1 1049.2L1235.6 1051.1L1236.2 1053.0L1236.8 1054.9L1237.5 1056.7L1238.3 1058.4L1239.3 1060.1L1240.4 1061.6L1241.6 1063.0L1243.0 1064.3L1244.6 1065.4L1246.3 1066.4L1248.1 1067.2L1250.0 1067.8L1252.0 1068.3L1254.0 1068.6L1256.0 1068.8L1257.9 1068.9L1259.9 1068.9L1261.8 1068.8L1263.8 1068.6L1265.7 1068.4L1267.6 1068.0L1269.4 1067.6L1271.3 1067.0L1273.1 1066.4L1275.0 1065.8L1276.8 1065.1L1278.6 1064.3L1280.3 1063.5L1282.1 1062.7L1283.9 1061.8L1285.6 1060.8L1287.4 1059.9L1289.1 1058.9L1290.8 1057.9L1292.5 1056.9L1294.2 1055.9L1295.9 1054.9L1297.6 1053.8L1299.2 1052.8L1300.9 1051.7L1302.5 1050.6L1304.2 1049.5L1305.8 1048.4L1307.4 1047.3L1309.0 1046.2L1310.6 1045.0L1312.2 1043.8L1313.7 1042.7L1315.3 1041.5L1316.8 1040.3L1318.3 1039.1L1319.9 1037.8L1321.4 1036.6L1322.9 1035.4L1324.4 1034.1L1325.8 1032.8L1327.3 1031.5L1328.7 1030.2L1330.2 1028.9L1331.6 1027.6L1333.0 1026.3L1334.5 1025.0L1335.9 1023.7L1337.3 1022.3L1338.7 1021.0L1340.1 1019.6L1341.5 1018.3L1342.9 1016.9L1344.2 1015.6L1345.6 1014.2L1347.0 1012.8L1348.4 1011.5L1349.8 1010.1" fill="none" stroke="#00a6a6" stroke-width="7.20" stroke-linejoin="bevel" stroke-linecap="butt" stroke-miterlimit="10"/>
<path d="M1629.2 682.6L1629.0 685.9L1628.8 689.1L1628.6 692.3L1628.4 695.6L1628.3 698.8L1628.1 702.0L1627.9 705.3L1627.7 708.5L1627.5 711.8L1627.3 715.0L1627.1 718.3L1626.9 721.5L1626.7 724.8L1626.5 728.0L1626.3 731.3L1626.1 734.5L1625.9 737.8L1625.6 741.0L1625.4 744.2L1625.1 747.5L1624.9 750.7L1624.6 754.0L1624.4 757.2L1624.1 760.5L1623.8 763.7L1623.5 766.9L1623.1 770.2L1622.8 773.4L1622.5 776.7L1622.1 779.9L1621.7 783.1L1621.3 786.3L1620.9 789.6L1620.5 792.8L1620.1 796.0L1619.6 799.2L1619.1 802.4L1618.6 805.6L1618.1 808.8L1617.6 812.0L1617.0 815.2L1616.4 818.4L1615.8 821.6L1615.2 824.8L1614.5 828.0L1613.8 831.1L1613.1 834.3L1612.4 837.5L1611.6 840.6L1610.8 843.8L1610.0 846.9L1609.2 850.1L1608.3 853.2L1607.4 856.3L1606.5 859.5L1605.5 862.6L1604.5 865.7L1603.5 868.8L1602.6 871.9L1603.5 875.0L1604.5 878.1L1605.5 881.2L1606.5 884.3L1607.4 887.5L1608.3 890.6L1609.2 893.7L1610.0 896.9L1610.8 900.0L1611.6 903.2L1612.4 906.3L1613.1 909.5L1613.8 912.7L1614.5 915.8L1615.2 919.0L1615.8 922.2L1616.4 925.4L1617.0 928.6L1617.6 931.8L1618.1 935.0L1618.6 938.2L1619.1 941.4L1619.6 944.6L1620.1 947.8L1620.5 951.0L1620.9 954.2L1621.3 957.5L1621.7 960.7L1622.1 963.9L1622.5 967.1L1622.8 970.4L1623.1 973.6L1623.5 976.9L1623.8 980.1L1624.1 983.3L1624.4 986.6L1624.6 989.8L1624.9 993.1L1625.1 996.3L1625.4 999.6L1625.6 1002.8L1625.9 1006.0L1626.1 1009.3L1626.3 1012.5L1626.5 1015.8L1626.7 1019.0L1626.9 1022.3L1627.1 1025.5L1627.3 1028.8L1627.5 1032.0L1627.7 1035.3L1627.9 1038.5L1628.1 1041.8L1628.3 1045.0L1628.4 1048.2L1628.6 1051.5L1628.8 1054.7L1629.0 1057.9L1629.2 1061.2" fill="none" stroke="#00a6a6" stroke-width="7.20" stroke-linejoin="bevel" stroke-linecap="butt" stroke-miterlimit="10"/>
<path d="M1629.1 684.0L1627.6 685.3L1626.1 686.5L1624.6 687.8L1623.1 689.0L1621.5 690.2L1620.0 691.4L1618.4 692.5L1616.8 693.7L1615.2 694.8L1613.6 695.9L1612.0 697.0L1610.3 698.0L1608.7 699.1L1607.0 700.1L1605.4 701.1L1603.7 702.1L1602.0 703.1L1600.3 704.1L1598.6 705.1L1596.9 706.1L1595.2 707.0L1593.5 708.0L1591.8 708.9L1590.1 709.8L1588.3 710.8L1586.6 711.7L1584.9 712.6L1583.1 713.5L1581.4 714.4L1579.6 715.3L1577.9 716.2L1576.2 717.1L1574.4 718.0L1572.7 718.9L1570.9 719.8L1569.2 720.7L1567.5 721.6L1565.7 722.5L1564.0 723.4L1562.3 724.3L1560.5 725.2L1558.8 726.1L1557.1 727.0L1555.3 727.9L1553.6 728.9L1551.9 729.8L1550.2 730.7L1548.4 731.6L1546.7 732.5L1545.0 733.5L1543.3 734.4L1541.5 735.3L1539.8 736.2L1538.1 737.2L1536.4 738.1L1534.7 739.0L1533.0 740.0L1531.3 740.9L1529.5 741.9L1527.8 742.8L1526.1 743.8L1524.4 744.7L1522.7 745.7L1521.0 746.7L1519.3 747.6L1517.6 748.6L1515.9 749.6L1514.2 750.6L1512.5 751.5L1510.8 752.5L1509.1 753.5L1507.4 754.5L1505.7 755.4L1504.0 756.4L1502.3 757.4L1500.6 758.3L1498.8 759.3L1497.1 760.2L1495.4 761.1L1493.7 762.1L1491.9 763.0L1490.2 763.9L1488.5 764.8L1486.7 765.6L1485.0 766.5L1483.2 767.4L1481.4 768.2L1479.7 769.0L1477.9 769.8L1476.1 770.6L1474.3 771.3L1472.5 772.0L1470.7 772.7L1468.8 773.4L1467.0 774.1L1465.1 774.7L1463.3 775.3L1461.4 775.9L1459.5 776.4L1457.6 776.9L1455.7 777.4L1453.8 777.9L1451.9 778.3L1449.9 778.7L1448.0 779.1L1446.1 779.4L1444.1 779.7L1442.2 779.9L1440.2 780.1L1438.2 780.3L1436.3 780.4L1434.3 780.5L1432.4 780.5L1430.4 780.5L1428.5 780.5L1426.5 780.4L1424.6 780.3L1422.6 780.1L1420.7 779.8L1418.8 779.6L1416.9 779.2L1415.0 778.9L1413.1 778.4L1411.3 778.0L1409.4 777.4L1407.6 776.8L1405.8 776.2L1403.9 775.5L1402.2 774.7L1400.4 773.9L1398.6 773.1L1396.9 772.2L1395.2 771.3L1393.5 770.3L1391.8 769.3L1390.1 768.3L1388.4 767.2L1386.8 766.1L1385.2 764.9L1383.6 763.8L1382.0 762.6L1380.4 761.4L1378.8 760.2L1377.2 758.9L1375.7 757.7L1374.2 756.4L1372.7 755.1L1371.2 753.8L1369.7 752.5L1368.2 751.2L1366.7 749.9L1365.3 748.6L1363.8 747.3L1362.4 745.9L1361.0 744.6L1359.6 743.2L1358.2 741.9L1356.7 740.5L1355.3 739.2L1354.0 737.8L1352.6 736.4L1351.2 735.1L1349.8 733.7" fill="none" stroke="#00ff00" stroke-width="7.20" stroke-linejoin="round" stroke-linecap="butt" stroke-miterlimit="10"/>
<path d="M1629.1 1059.8L1627.6 1058.5L1626.1 1057.3L1624.6 1056.0L1623.1 1054.8L1621.5 1053.6L1620.0 1052.4L1618.4 1051.3L1616.8 1050.1L1615.2 1049.0L1613.6 1047.9L1612.0 1046.8L1610.3 1045.8L1608.7 1044.7L1607.0 1043.7L1605.4 1042.7L1603.7 1041.7L1602.0 1040.7L1600.3 1039.7L1598.6 1038.7L1596.9 1037.7L1595.2 1036.8L1593.5 1035.8L1591.8 1034.9L1590.1 1034.0L1588.3 1033.0L1586.6 1032.1L1584.9 1031.2L1583.1 1030.3L1581.4 1029.4L1579.6 1028.5L1577.9 1027.6L1576.2 1026.7L1574.4 1025.8L1572.7 1024.9L1570.9 1024.0L1569.2 1023.1L1567.5 1022.2L1565.7 1021.3L1564.0 1020.4L1562.3 1019.5L1560.5 1018.6L1558.8 1017.7L1557.1 1016.8L1555.3 1015.9L1553.6 1014.9L1551.9 1014.0L1550.2 1013.1L1548.4 1012.2L1546.7 1011.3L1545.0 1010.3L1543.3 1009.4L1541.5 1008.5L1539.8 1007.6L1538.1 1006.6L1536.4 1005.7L1534.7 1004.8L1533.0 1003.8L1531.3 1002.9L1529.5 1001.9L1527.8 1001.0L1526.1 1000.0L1524.4 999.1L1522.7 998.1L1521.0 997.1L1519.3 996.2L1517.6 995.2L1515.9 994.2L1514.2 993.2L1512.5 992.3L1510.8 991.3L1509.1 990.3L1507.4 989.3L1505.7 988.4L1504.0 987.4L1502.3 986.4L1500.6 985.5L1498.8 984.5L1497.1 983.6L1495.4 982.7L1493.7 981.7L1491.9 980.8L1490.2 979.9L1488.5 979.0L1486.7 978.2L1485.0 977.3L1483.2 976.4L1481.4 975.6L1479.7 974.8L1477.9 974.0L1476.1 973.2L1474.3 972.5L1472.5 971.8L1470.7 971.1L1468.8 970.4L1467.0 969.7L1465.1 969.1L1463.3 968.5L1461.4 967.9L1459.5 967.4L1457.6 966.9L1455.7 966.4L1453.8 965.9L1451.9 965.5L1449.9 965.1L1448.0 964.7L1446.1 964.4L1444.1 964.1L1442.2 963.9L1440.2 963.7L1438.2 963.5L1436.3 963.4L1434.3 963.3L1432.4 963.3L1430.4 963.3L1428.5 963.3L1426.5 963.4L1424.6 963.5L1422.6 963.7L1420.7 964.0L1418.8 964.2L1416.9 964.6L1415.0 964.9L1413.1 965.4L1411.3 965.8L1409.4 966.4L1407.6 967.0L1405.8 967.6L1403.9 968.3L1402.2 969.1L1400.4 969.9L1398.6 970.7L1396.9 971.6L1395.2 972.5L1393.5 973.5L1391.8 974.5L1390.1 975.5L1388.4 976.6L1386.8 977.7L1385.2 978.9L1383.6 980.0L1382.0 981.2L1380.4 982.4L1378.8 983.6L1377.2 984.9L1375.7 986.1L1374.2 987.4L1372.7 988.7L1371.2 990.0L1369.7 991.3L1368.2 992.6L1366.7 993.9L1365.3 995.2L1363.8 996.5L1362.4 997.9L1361.0 999.2L1359.6 1000.6L1358.2 1001.9L1356.7 1003.3L1355.3 1004.6L1354.0 1006.0L1352.6 1007.4L1351.2 1008.7L1349.8 1010.1" fill="none" stroke="#00ff00" stroke-width="7.20" stroke-linejoin="round" stroke-linecap="butt" stroke-miterlimit="10"/>
<path d="M1483.6 733.7L1485.0 732.3L1486.4 731.0L1487.8 729.6L1489.2 728.2L1490.5 726.9L1491.9 725.5L1493.3 724.2L1494.7 722.8L1496.1 721.5L1497.5 720.1L1498.9 718.8L1500.4 717.5L1501.8 716.2L1503.2 714.9L1504.7 713.6L1506.1 712.3L1507.6 711.0L1509.0 709.7L1510.5 708.4L1512.0 707.2L1513.5 706.0L1515.1 704.7L1516.6 703.5L1518.1 702.3L1519.7 701.1L1521.2 700.0L1522.8 698.8L1524.4 697.6L1526.0 696.5L1527.6 695.4L1529.2 694.3L1530.9 693.2L1532.5 692.1L1534.2 691.0L1535.8 690.0L1537.5 688.9L1539.2 687.9L1540.9 686.9L1542.6 685.9L1544.3 684.9L1546.0 683.9L1547.8 683.0L1549.5 682.0L1551.3 681.1L1553.1 680.3L1554.8 679.5L1556.6 678.7L1558.4 678.0L1560.3 677.4L1562.1 676.8L1564.0 676.2L1565.8 675.8L1567.7 675.4L1569.6 675.2L1571.6 675.0L1573.5 674.9L1575.5 674.9L1577.4 675.0L1579.4 675.2L1581.4 675.5L1583.4 676.0L1585.3 676.6L1587.1 677.4L1588.8 678.4L1590.4 679.5L1591.8 680.8L1593.0 682.2L1594.1 683.7L1595.1 685.4L1595.9 687.1L1596.6 688.9L1597.2 690.8L1597.8 692.7L1598.3 694.6L1598.7 696.5L1599.2 698.4L1599.6 700.4L1599.9 702.3L1600.3 704.2L1600.6 706.2L1600.9 708.1L1601.1 710.1L1601.3 712.0L1601.5 713.9L1601.7 715.9L1601.8 717.8L1601.9 719.8L1602.0 721.7L1602.1 723.7L1602.2 725.6L1602.2 727.6L1602.2 729.6L1602.3 731.5L1602.2 733.5L1602.2 735.4L1602.2 737.4L1602.2 739.4L1602.1 741.3L1602.1 743.3L1602.0 745.2L1601.9 747.2L1601.9 749.1L1601.8 751.1L1601.7 753.1L1601.6 755.0L1601.5 757.0L1601.4 758.9L1601.3 760.9L1601.2 762.8L1601.0 764.8L1600.9 766.8L1600.8 768.7L1600.6 770.7L1600.5 772.6L1600.3 774.6L1600.1 776.5L1599.9 778.5L1599.8 780.4L1599.6 782.4L1599.4 784.3L1599.2 786.3L1598.9 788.2L1598.7 790.1L1598.5 792.1L1598.2 794.0L1598.0 796.0L1597.7 797.9L1597.5 799.8L1597.2 801.8L1596.9 803.7L1596.6 805.6L1596.3 807.6L1596.0 809.5L1595.7 811.4L1595.4 813.3L1595.0 815.3L1594.7 817.2L1594.3 819.1L1593.9 821.0L1593.5 822.9L1593.2 824.9L1592.8 826.8L1592.3 828.7L1591.9 830.6L1591.5 832.5L1591.0 834.4L1590.6 836.3L1590.1 838.2L1589.6 840.1L1589.2 842.0L1588.7 843.9L1588.2 845.8L1587.6 847.7L1587.1 849.5L1586.6 851.4L1586.0 853.3L1585.4 855.2L1584.8 857.0L1584.3 858.9L1583.6 860.8L1583.0 862.6L1582.4 864.5L1581.8 866.4L1581.1 868.2L1580.4 870.1L1579.8 871.9L1580.4 873.7L1581.1 875.6L1581.8 877.4L1582.4 879.3L1583.0 881.2L1583.6 883.0L1584.3 884.9L1584.8 886.8L1585.4 888.6L1586.0 890.5L1586.6 892.4L1587.1 894.3L1587.6 896.1L1588.2 898.0L1588.7 899.9L1589.2 901.8L1589.6 903.7L1590.1 905.6L1590.6 907.5L1591.0 909.4L1591.5 911.3L1591.9 913.2L1592.3 915.1L1592.8 917.0L1593.2 918.9L1593.5 920.9L1593.9 922.8L1594.3 924.7L1594.7 926.6L1595.0 928.5L1595.4 930.5L1595.7 932.4L1596.0 934.3L1596.3 936.2L1596.6 938.2L1596.9 940.1L1597.2 942.0L1597.5 944.0L1597.7 945.9L1598.0 947.8L1598.2 949.8L1598.5 951.7L1598.7 953.7L1598.9 955.6L1599.2 957.5L1599.4 959.5L1599.6 961.4L1599.8 963.4L1599.9 965.3L1600.1 967.3L1600.3 969.2L1600.5 971.2L1600.6 973.1L1600.8 975.1L1600.9 977.0L1601.0 979.0L1601.2 981.0L1601.3 982.9L1601.4 984.9L1601.5 986.8L1601.6 988.8L1601.7 990.7L1601.8 992.7L1601.9 994.7L1601.9 996.6L1602.0 998.6L1602.1 1000.5L1602.1 1002.5L1602.2 1004.4L1602.2 1006.4L1602.2 1008.4L1602.2 1010.3L1602.3 1012.3L1602.2 1014.2L1602.2 1016.2L1602.2 1018.2L1602.1 1020.1L1602.0 1022.1L1601.9 1024.0L1601.8 1026.0L1601.7 1027.9L1601.5 1029.9L1601.3 1031.8L1601.1 1033.7L1600.9 1035.7L1600.6 1037.6L1600.3 1039.6L1599.9 1041.5L1599.6 1043.4L1599.2 1045.4L1598.7 1047.3L1598.3 1049.2L1597.8 1051.1L1597.2 1053.0L1596.6 1054.9L1595.9 1056.7L1595.1 1058.4L1594.1 1060.1L1593.0 1061.6L1591.8 1063.0L1590.4 1064.3L1588.8 1065.4L1587.1 1066.4L1585.3 1067.2L1583.4 1067.8L1581.4 1068.3L1579.4 1068.6L1577.4 1068.8L1575.5 1068.9L1573.5 1068.9L1571.6 1068.8L1569.6 1068.6L1567.7 1068.4L1565.8 1068.0L1564.0 1067.6L1562.1 1067.0L1560.3 1066.4L1558.4 1065.8L1556.6 1065.1L1554.8 1064.3L1553.1 1063.5L1551.3 1062.7L1549.5 1061.8L1547.8 1060.8L1546.0 1059.9L1544.3 1058.9L1542.6 1057.9L1540.9 1056.9L1539.2 1055.9L1537.5 1054.9L1535.8 1053.8L1534.2 1052.8L1532.5 1051.7L1530.9 1050.6L1529.2 1049.5L1527.6 1048.4L1526.0 1047.3L1524.4 1046.2L1522.8 1045.0L1521.2 1043.8L1519.7 1042.7L1518.1 1041.5L1516.6 1040.3L1515.1 1039.1L1513.5 1037.8L1512.0 1036.6L1510.5 1035.4L1509.0 1034.1L1507.6 1032.8L1506.1 1031.5L1504.7 1030.2L1503.2 1028.9L1501.8 1027.6L1500.4 1026.3L1498.9 1025.0L1497.5 1023.7L1496.1 1022.3L1494.7 1021.0L1493.3 1019.6L1491.9 1018.3L1490.5 1016.9L1489.2 1015.6L1487.8 1014.2L1486.4 1012.8L1485.0 1011.5L1483.6 1010.1" fill="none" stroke="#00ff00" stroke-width="7.20" stroke-linejoin="bevel" stroke-linecap="butt" stroke-miterlimit="10"/>
<path d="M1204.2 682.6L1204.4 685.9L1204.6 689.1L1204.8 692.3L1205.0 695.6L1205.1 698.8L1205.3 702.0L1205.5 705.3L1205.7 708.5L1205.9 711.8L1206.1 715.0L1206.3 718.3L1206.5 721.5L1206.7 724.8L1206.9 728.0L1207.1 731.3L1207.3 734.5L1207.5 737.8L1207.8 741.0L1208.0 744.2L1208.3 747.5L1208.5 750.7L1208.8 754.0L1209.0 757.2L1209.3 760.5L1209.6 763.7L1209.9 766.9L1210.3 770.2L1210.6 773.4L1210.9 776.7L1211.3 779.9L1211.7 783.1L1212.1 786.3L1212.5 789.6L1212.9 792.8L1213.3 796.0L1213.8 799.2L1214.3 802.4L1214.8 805.6L1215.3 808.8L1215.8 812.0L1216.4 815.2L1217.0 818.4L1217.6 821.6L1218.2 824.8L1218.9 828.0L1219.6 831.1L1220.3 834.3L1221.0 837.5L1221.8 840.6L1222.6 843.8L1223.4 846.9L1224.2 850.1L1225.1 853.2L1226.0 856.3L1226.9 859.5L1227.9 862.6L1228.9 865.7L1229.9 868.8L1230.8 871.9L1229.9 875.0L1228.9 878.1L1227.9 881.2L1226.9 884.3L1226.0 887.5L1225.1 890.6L1224.2 893.7L1223.4 896.9L1222.6 900.0L1221.8 903.2L1221.0 906.3L1220.3 909.5L1219.6 912.7L1218.9 915.8L1218.2 919.0L1217.6 922.2L1217.0 925.4L1216.4 928.6L1215.8 931.8L1215.3 935.0L1214.8 938.2L1214.3 941.4L1213.8 944.6L1213.3 947.8L1212.9 951.0L1212.5 954.2L1212.1 957.5L1211.7 960.7L1211.3 963.9L1210.9 967.1L1210.6 970.4L1210.3 973.6L1209.9 976.9L1209.6 980.1L1209.3 983.3L1209.0 986.6L1208.8 989.8L1208.5 993.1L1208.3 996.3L1208.0 999.6L1207.8 1002.8L1207.5 1006.0L1207.3 1009.3L1207.1 1012.5L1206.9 1015.8L1206.7 1019.0L1206.5 1022.3L1206.3 1025.5L1206.1 1028.8L1205.9 1032.0L1205.7 1035.3L1205.5 1038.5L1205.3 1041.8L1205.1 1045.0L1205.0 1048.2L1204.8 1051.5L1204.6 1054.7L1204.4 1057.9L1204.2 1061.2" fill="none" stroke="#00ff00" stroke-width="7.20" stroke-linejoin="bevel" stroke-linecap="butt" stroke-miterlimit="10"/>
</g>
<g clip-path="url(#cr2)">
<path d="M1629.1 684.0L1627.6 685.3L1626.1 686.5L1624.6 687.8L1623.1 689.0L1621.5 690.2L1620.0 691.4L1618.4 692.5L1616.8 693.7L1615.2 694.8L1613.6 695.9L1612.0 697.0L1610.3 698.0L1608.7 699.1L1607.0 700.1L1605.4 701.1L1603.7 702.1L1602.0 703.1L1600.3 704.1L1598.6 705.1L1596.9 706.1L1595.2 707.0L1593.5 708.0L1591.8 708.9L1590.1 709.8L1588.3 710.8L1586.6 711.7L1584.9 712.6L1583.1 713.5L1581.4 714.4L1579.6 715.3L1577.9 716.2L1576.2 717.1L1574.4 718.0L1572.7 718.9L1570.9 719.8L1569.2 720.7L1567.5 721.6L1565.7 722.5L1564.0 723.4L1562.3 724.3L1560.5 725.2L1558.8 726.1L1557.1 727.0L1555.3 727.9L1553.6 728.9L1551.9 729.8L1550.2 730.7L1548.4 731.6L1546.7 732.5L1545.0 733.5L1543.3 734.4L1541.5 735.3L1539.8 736.2L1538.1 737.2L1536.4 738.1L1534.7 739.0L1533.0 740.0L1531.3 740.9L1529.5 741.9L1527.8 742.8L1526.1 743.8L1524.4 744.7L1522.7 745.7L1521.0 746.7L1519.3 747.6L1517.6 748.6L1515.9 749.6L1514.2 750.6L1512.5 751.5L1510.8 752.5L1509.1 753.5L1507.4 754.5L1505.7 755.4L1504.0 756.4L1502.3 757.4L1500.6 758.3L1498.8 759.3L1497.1 760.2L1495.4 761.1L1493.7 762.1L1491.9 763.0L1490.2 763.9L1488.5 764.8L1486.7 765.6L1485.0 766.5L1483.2 767.4L1481.4 768.2L1479.7 769.0L1477.9 769.8L1476.1 770.6L1474.3 771.3L1472.5 772.0L1470.7 772.7L1468.8 773.4L1467.0 774.1L1465.1 774.7L1463.3 775.3L1461.4 775.9L1459.5 776.4L1457.6 776.9L1455.7 777.4L1453.8 777.9L1451.9 778.3L1449.9 778.7L1448.0 779.1L1446.1 779.4L1444.1 779.7L1442.2 779.9L1440.2 780.1L1438.2 780.3L1436.3 780.4L1434.3 780.5L1432.4 780.5L1430.4 780.5L1428.5 780.5L1426.5 780.4L1424.6 780.3L1422.6 780.1L1420.7 779.8L1418.8 779.6L1416.9 779.2L1415.0 778.9L1413.1 778.4L1411.3 778.0L1409.4 777.4L1407.6 776.8L1405.8 776.2L1403.9 775.5L1402.2 774.7L1400.4 773.9L1398.6 773.1L1396.9 772.2L1395.2 771.3L1393.5 770.3L1391.8 769.3L1390.1 768.3L1388.4 767.2L1386.8 766.1L1385.2 764.9L1383.6 763.8L1382.0 762.6L1380.4 761.4L1378.8 760.2L1377.2 758.9L1375.7 757.7L1374.2 756.4L1372.7 755.1L1371.2 753.8L1369.7 752.5L1368.2 751.2L1366.7 749.9L1365.3 748.6L1363.8 747.3L1362.4 745.9L1361.0 744.6L1359.6 743.2L1358.2 741.9L1356.7 740.5L1355.3 739.2L1354.0 737.8L1352.6 736.4L1351.2 735.1L1349.8 733.7" fill="none" stroke="#00ff00" stroke-width="7.20" stroke-linejoin="round" stroke-linecap="butt" stroke-miterlimit="10"/>
<path d="M1629.1 1059.8L1627.6 1058.5L1626.1 1057.3L1624.6 1056.0L1623.1 1054.8L1621.5 1053.6L1620.0 1052.4L1618.4 1051.3L1616.8 1050.1L1615.2 1049.0L1613.6 1047.9L1612.0 1046.8L1610.3 1045.8L1608.7 1044.7L1607.0 1043.7L1605.4 1042.7L1603.7 1041.7L1602.0 1040.7L1600.3 1039.7L1598.6 1038.7L1596.9 1037.7L1595.2 1036.8L1593.5 1035.8L1591.8 1034.9L1590.1 1034.0L1588.3 1033.0L1586.6 1032.1L1584.9 1031.2L1583.1 1030.3L1581.4 1029.4L1579.6 1028.5L1577.9 1027.6L1576.2 1026.7L1574.4 1025.8L1572.7 1024.9L1570.9 1024.0L1569.2 1023.1L1567.5 1022.2L1565.7 1021.3L1564.0 1020.4L1562.3 1019.5L1560.5 1018.6L1558.8 1017.7L1557.1 1016.8L1555.3 1015.9L1553.6 1014.9L1551.9 1014.0L1550.2 1013.1L1548.4 1012.2L1546.7 1011.3L1545.0 1010.3L1543.3 1009.4L1541.5 1008.5L1539.8 1007.6L1538.1 1006.6L1536.4 1005.7L1534.7 1004.8L1533.0 1003.8L1531.3 1002.9L1529.5 1001.9L1527.8 1001.0L1526.1 1000.0L1524.4 999.1L1522.7 998.1L1521.0 997.1L1519.3 996.2L1517.6 995.2L1515.9 994.2L1514.2 993.2L1512.5 992.3L1510.8 991.3L1509.1 990.3L1507.4 989.3L1505.7 988.4L1504.0 987.4L1502.3 986.4L1500.6 985.5L1498.8 984.5L1497.1 983.6L1495.4 982.7L1493.7 981.7L1491.9 980.8L1490.2 979.9L1488.5 979.0L1486.7 978.2L1485.0 977.3L1483.2 976.4L1481.4 975.6L1479.7 974.8L1477.9 974.0L1476.1 973.2L1474.3 972.5L1472.5 971.8L1470.7 971.1L1468.8 970.4L1467.0 969.7L1465.1 969.1L1463.3 968.5L1461.4 967.9L1459.5 967.4L1457.6 966.9L1455.7 966.4L1453.8 965.9L1451.9 965.5L1449.9 965.1L1448.0 964.7L1446.1 964.4L1444.1 964.1L1442.2 963.9L1440.2 963.7L1438.2 963.5L1436.3 963.4L1434.3 963.3L1432.4 963.3L1430.4 963.3L1428.5 963.3L1426.5 963.4L1424.6 963.5L1422.6 963.7L1420.7 964.0L1418.8 964.2L1416.9 964.6L1415.0 964.9L1413.1 965.4L1411.3 965.8L1409.4 966.4L1407.6 967.0L1405.8 967.6L1403.9 968.3L1402.2 969.1L1400.4 969.9L1398.6 970.7L1396.9 971.6L1395.2 972.5L1393.5 973.5L1391.8 974.5L1390.1 975.5L1388.4 976.6L1386.8 977.7L1385.2 978.9L1383.6 980.0L1382.0 981.2L1380.4 982.4L1378.8 983.6L1377.2 984.9L1375.7 986.1L1374.2 987.4L1372.7 988.7L1371.2 990.0L1369.7 991.3L1368.2 992.6L1366.7 993.9L1365.3 995.2L1363.8 996.5L1362.4 997.9L1361.0 999.2L1359.6 1000.6L1358.2 1001.9L1356.7 1003.3L1355.3 1004.6L1354.0 1006.0L1352.6 1007.4L1351.2 1008.7L1349.8 1010.1" fill="none" stroke="#00ff00" stroke-width="7.20" stroke-linejoin="round" stroke-linecap="butt" stroke-miterlimit="10"/>
<path d="M1483.6 733.7L1485.0 732.3L1486.4 731.0L1487.8 729.6L1489.2 728.2L1490.5 726.9L1491.9 725.5L1493.3 724.2L1494.7 722.8L1496.1 721.5L1497.5 720.1L1498.9 718.8L1500.4 717.5L1501.8 716.2L1503.2 714.9L1504.7 713.6L1506.1 712.3L1507.6 711.0L1509.0 709.7L1510.5 708.4L1512.0 707.2L1513.5 706.0L1515.1 704.7L1516.6 703.5L1518.1 702.3L1519.7 701.1L1521.2 700.0L1522.8 698.8L1524.4 697.6L1526.0 696.5L1527.6 695.4L1529.2 694.3L1530.9 693.2L1532.5 692.1L1534.2 691.0L1535.8 690.0L1537.5 688.9L1539.2 687.9L1540.9 686.9L1542.6 685.9L1544.3 684.9L1546.0 683.9L1547.8 683.0L1549.5 682.0L1551.3 681.1L1553.1 680.3L1554.8 679.5L1556.6 678.7L1558.4 678.0L1560.3 677.4L1562.1 676.8L1564.0 676.2L1565.8 675.8L1567.7 675.4L1569.6 675.2L1571.6 675.0L1573.5 674.9L1575.5 674.9L1577.4 675.0L1579.4 675.2L1581.4 675.5L1583.4 676.0L1585.3 676.6L1587.1 677.4L1588.8 678.4L1590.4 679.5L1591.8 680.8L1593.0 682.2L1594.1 683.7L1595.1 685.4L1595.9 687.1L1596.6 688.9L1597.2 690.8L1597.8 692.7L1598.3 694.6L1598.7 696.5L1599.2 698.4L1599.6 700.4L1599.9 702.3L1600.3 704.2L1600.6 706.2L1600.9 708.1L1601.1 710.1L1601.3 712.0L1601.5 713.9L1601.7 715.9L1601.8 717.8L1601.9 719.8L1602.0 721.7L1602.1 723.7L1602.2 725.6L1602.2 727.6L1602.2 729.6L1602.3 731.5L1602.2 733.5L1602.2 735.4L1602.2 737.4L1602.2 739.4L1602.1 741.3L1602.1 743.3L1602.0 745.2L1601.9 747.2L1601.9 749.1L1601.8 751.1L1601.7 753.1L1601.6 755.0L1601.5 757.0L1601.4 758.9L1601.3 760.9L1601.2 762.8L1601.0 764.8L1600.9 766.8L1600.8 768.7L1600.6 770.7L1600.5 772.6L1600.3 774.6L1600.1 776.5L1599.9 778.5L1599.8 780.4L1599.6 782.4L1599.4 784.3L1599.2 786.3L1598.9 788.2L1598.7 790.1L1598.5 792.1L1598.2 794.0L1598.0 796.0L1597.7 797.9L1597.5 799.8L1597.2 801.8L1596.9 803.7L1596.6 805.6L1596.3 807.6L1596.0 809.5L1595.7 811.4L1595.4 813.3L1595.0 815.3L1594.7 817.2L1594.3 819.1L1593.9 821.0L1593.5 822.9L1593.2 824.9L1592.8 826.8L1592.3 828.7L1591.9 830.6L1591.5 832.5L1591.0 834.4L1590.6 836.3L1590.1 838.2L1589.6 840.1L1589.2 842.0L1588.7 843.9L1588.2 845.8L1587.6 847.7L1587.1 849.5L1586.6 851.4L1586.0 853.3L1585.4 855.2L1584.8 857.0L1584.3 858.9L1583.6 860.8L1583.0 862.6L1582.4 864.5L1581.8 866.4L1581.1 868.2L1580.4 870.1L1579.8 871.9L1580.4 873.7L1581.1 875.6L1581.8 877.4L1582.4 879.3L1583.0 881.2L1583.6 883.0L1584.3 884.9L1584.8 886.8L1585.4 888.6L1586.0 890.5L1586.6 892.4L1587.1 894.3L1587.6 896.1L1588.2 898.0L1588.7 899.9L1589.2 901.8L1589.6 903.7L1590.1 905.6L1590.6 907.5L1591.0 909.4L1591.5 911.3L1591.9 913.2L1592.3 915.1L1592.8 917.0L1593.2 918.9L1593.5 920.9L1593.9 922.8L1594.3 924.7L1594.7 926.6L1595.0 928.5L1595.4 930.5L1595.7 932.4L1596.0 934.3L1596.3 936.2L1596.6 938.2L1596.9 940.1L1597.2 942.0L1597.5 944.0L1597.7 945.9L1598.0 947.8L1598.2 949.8L1598.5 951.7L1598.7 953.7L1598.9 955.6L1599.2 957.5L1599.4 959.5L1599.6 961.4L1599.8 963.4L1599.9 965.3L1600.1 967.3L1600.3 969.2L1600.5 971.2L1600.6 973.1L1600.8 975.1L1600.9 977.0L1601.0 979.0L1601.2 981.0L1601.3 982.9L1601.4 984.9L1601.5 986.8L1601.6 988.8L1601.7 990.7L1601.8 992.7L1601.9 994.7L1601.9 996.6L1602.0 998.6L1602.1 1000.5L1602.1 1002.5L1602.2 1004.4L1602.2 1006.4L1602.2 1008.4L1602.2 1010.3L1602.3 1012.3L1602.2 1014.2L1602.2 1016.2L1602.2 1018.2L1602.1 1020.1L1602.0 1022.1L1601.9 1024.0L1601.8 1026.0L1601.7 1027.9L1601.5 1029.9L1601.3 1031.8L1601.1 1033.7L1600.9 1035.7L1600.6 1037.6L1600.3 1039.6L1599.9 1041.5L1599.6 1043.4L1599.2 1045.4L1598.7 1047.3L1598.3 1049.2L1597.8 1051.1L1597.2 1053.0L1596.6 1054.9L1595.9 1056.7L1595.1 1058.4L1594.1 1060.1L1593.0 1061.6L1591.8 1063.0L1590.4 1064.3L1588.8 1065.4L1587.1 1066.4L1585.3 1067.2L1583.4 1067.8L1581.4 1068.3L1579.4 1068.6L1577.4 1068.8L1575.5 1068.9L1573.5 1068.9L1571.6 1068.8L1569.6 1068.6L1567.7 1068.4L1565.8 1068.0L1564.0 1067.6L1562.1 1067.0L1560.3 1066.4L1558.4 1065.8L1556.6 1065.1L1554.8 1064.3L1553.1 1063.5L1551.3 1062.7L1549.5 1061.8L1547.8 1060.8L1546.0 1059.9L1544.3 1058.9L1542.6 1057.9L1540.9 1056.9L1539.2 1055.9L1537.5 1054.9L1535.8 1053.8L1534.2 1052.8L1532.5 1051.7L1530.9 1050.6L1529.2 1049.5L1527.6 1048.4L1526.0 1047.3L1524.4 1046.2L1522.8 1045.0L1521.2 1043.8L1519.7 1042.7L1518.1 1041.5L1516.6 1040.3L1515.1 1039.1L1513.5 1037.8L1512.0 1036.6L1510.5 1035.4L1509.0 1034.1L1507.6 1032.8L1506.1 1031.5L1504.7 1030.2L1503.2 1028.9L1501.8 1027.6L1500.4 1026.3L1498.9 1025.0L1497.5 1023.7L1496.1 1022.3L1494.7 1021.0L1493.3 1019.6L1491.9 1018.3L1490.5 1016.9L1489.2 1015.6L1487.8 1014.2L1486.4 1012.8L1485.0 1011.5L1483.6 1010.1" fill="none" stroke="#00ff00" stroke-width="7.20" stroke-linejoin="bevel" stroke-linecap="butt" stroke-miterlimit="10"/>
<path d="M1204.2 682.6L1204.4 685.9L1204.6 689.1L1204.8 692.3L1205.0 695.6L1205.1 698.8L1205.3 702.0L1205.5 705.3L1205.7 708.5L1205.9 711.8L1206.1 715.0L1206.3 718.3L1206.5 721.5L1206.7 724.8L1206.9 728.0L1207.1 731.3L1207.3 734.5L1207.5 737.8L1207.8 741.0L1208.0 744.2L1208.3 747.5L1208.5 750.7L1208.8 754.0L1209.0 757.2L1209.3 760.5L1209.6 763.7L1209.9 766.9L1210.3 770.2L1210.6 773.4L1210.9 776.7L1211.3 779.9L1211.7 783.1L1212.1 786.3L1212.5 789.6L1212.9 792.8L1213.3 796.0L1213.8 799.2L1214.3 802.4L1214.8 805.6L1215.3 808.8L1215.8 812.0L1216.4 815.2L1217.0 818.4L1217.6 821.6L1218.2 824.8L1218.9 828.0L1219.6 831.1L1220.3 834.3L1221.0 837.5L1221.8 840.6L1222.6 843.8L1223.4 846.9L1224.2 850.1L1225.1 853.2L1226.0 856.3L1226.9 859.5L1227.9 862.6L1228.9 865.7L1229.9 868.8L1230.8 871.9L1229.9 875.0L1228.9 878.1L1227.9 881.2L1226.9 884.3L1226.0 887.5L1225.1 890.6L1224.2 893.7L1223.4 896.9L1222.6 900.0L1221.8 903.2L1221.0 906.3L1220.3 909.5L1219.6 912.7L1218.9 915.8L1218.2 919.0L1217.6 922.2L1217.0 925.4L1216.4 928.6L1215.8 931.8L1215.3 935.0L1214.8 938.2L1214.3 941.4L1213.8 944.6L1213.3 947.8L1212.9 951.0L1212.5 954.2L1212.1 957.5L1211.7 960.7L1211.3 963.9L1210.9 967.1L1210.6 970.4L1210.3 973.6L1209.9 976.9L1209.6 980.1L1209.3 983.3L1209.0 986.6L1208.8 989.8L1208.5 993.1L1208.3 996.3L1208.0 999.6L1207.8 1002.8L1207.5 1006.0L1207.3 1009.3L1207.1 1012.5L1206.9 1015.8L1206.7 1019.0L1206.5 1022.3L1206.3 1025.5L1206.1 1028.8L1205.9 1032.0L1205.7 1035.3L1205.5 1038.5L1205.3 1041.8L1205.1 1045.0L1205.0 1048.2L1204.8 1051.5L1204.6 1054.7L1204.4 1057.9L1204.2 1061.2" fill="none" stroke="#00ff00" stroke-width="7.20" stroke-linejoin="bevel" stroke-linecap="butt" stroke-miterlimit="10"/>
<path d="M1204.3 684.0L1205.8 685.3L1207.3 686.5L1208.8 687.8L1210.3 689.0L1211.9 690.2L1213.4 691.4L1215.0 692.5L1216.6 693.7L1218.2 694.8L1219.8 695.9L1221.4 697.0L1223.1 698.0L1224.7 699.1L1226.4 700.1L1228.0 701.1L1229.7 702.1L1231.4 703.1L1233.1 704.1L1234.8 705.1L1236.5 706.1L1238.2 707.0L1239.9 708.0L1241.6 708.9L1243.3 709.8L1245.1 710.8L1246.8 711.7L1248.5 712.6L1250.3 713.5L1252.0 714.4L1253.8 715.3L1255.5 716.2L1257.2 717.1L1259.0 718.0L1260.7 718.9L1262.5 719.8L1264.2 720.7L1265.9 721.6L1267.7 722.5L1269.4 723.4L1271.1 724.3L1272.9 725.2L1274.6 726.1L1276.3 727.0L1278.1 727.9L1279.8 728.9L1281.5 729.8L1283.2 730.7L1285.0 731.6L1286.7 732.5L1288.4 733.5L1290.1 734.4L1291.9 735.3L1293.6 736.2L1295.3 737.2L1297.0 738.1L1298.7 739.0L1300.4 740.0L1302.1 740.9L1303.9 741.9L1305.6 742.8L1307.3 743.8L1309.0 744.7L1310.7 745.7L1312.4 746.7L1314.1 747.6L1315.8 748.6L1317.5 749.6L1319.2 750.6L1320.9 751.5L1322.6 752.5L1324.3 753.5L1326.0 754.5L1327.7 755.4L1329.4 756.4L1331.1 757.4L1332.8 758.3L1334.6 759.3L1336.3 760.2L1338.0 761.1L1339.7 762.1L1341.5 763.0L1343.2 763.9L1344.9 764.8L1346.7 765.6L1348.4 766.5L1350.2 767.4L1352.0 768.2L1353.7 769.0L1355.5 769.8L1357.3 770.6L1359.1 771.3L1360.9 772.0L1362.7 772.7L1364.6 773.4L1366.4 774.1L1368.3 774.7L1370.1 775.3L1372.0 775.9L1373.9 776.4L1375.8 776.9L1377.7 777.4L1379.6 777.9L1381.5 778.3L1383.5 778.7L1385.4 779.1L1387.3 779.4L1389.3 779.7L1391.2 779.9L1393.2 780.1L1395.2 780.3L1397.1 780.4L1399.1 780.5L1401.0 780.5L1403.0 780.5L1404.9 780.5L1406.9 780.4L1408.8 780.3L1410.8 780.1L1412.7 779.8L1414.6 779.6L1416.5 779.2L1418.4 778.9L1420.3 778.4L1422.1 778.0L1424.0 777.4L1425.8 776.8L1427.6 776.2L1429.5 775.5L1431.2 774.7L1433.0 773.9L1434.8 773.1L1436.5 772.2L1438.2 771.3L1439.9 770.3L1441.6 769.3L1443.3 768.3L1445.0 767.2L1446.6 766.1L1448.2 764.9L1449.8 763.8L1451.4 762.6L1453.0 761.4L1454.6 760.2L1456.2 758.9L1457.7 757.7L1459.2 756.4L1460.7 755.1L1462.2 753.8L1463.7 752.5L1465.2 751.2L1466.7 749.9L1468.1 748.6L1469.6 747.3L1471.0 745.9L1472.4 744.6L1473.8 743.2L1475.2 741.9L1476.7 740.5L1478.1 739.2L1479.4 737.8L1480.8 736.4L1482.2 735.1L1483.6 733.7" fill="none" stroke="#00a6a6" stroke-width="7.20" stroke-linejoin="round" stroke-linecap="butt" stroke-miterlimit="10"/>
<path d="M1204.3 1059.8L1205.8 1058.5L1207.3 1057.3L1208.8 1056.0L1210.3 1054.8L1211.9 1053.6L1213.4 1052.4L1215.0 1051.3L1216.6 1050.1L1218.2 1049.0L1219.8 1047.9L1221.4 1046.8L1223.1 1045.8L1224.7 1044.7L1226.4 1043.7L1228.0 1042.7L1229.7 1041.7L1231.4 1040.7L1233.1 1039.7L1234.8 1038.7L1236.5 1037.7L1238.2 1036.8L1239.9 1035.8L1241.6 1034.9L1243.3 1034.0L1245.1 1033.0L1246.8 1032.1L1248.5 1031.2L1250.3 1030.3L1252.0 1029.4L1253.8 1028.5L1255.5 1027.6L1257.2 1026.7L1259.0 1025.8L1260.7 1024.9L1262.5 1024.0L1264.2 1023.1L1265.9 1022.2L1267.7 1021.3L1269.4 1020.4L1271.1 1019.5L1272.9 1018.6L1274.6 1017.7L1276.3 1016.8L1278.1 1015.9L1279.8 1014.9L1281.5 1014.0L1283.2 1013.1L1285.0 1012.2L1286.7 1011.3L1288.4 1010.3L1290.1 1009.4L1291.9 1008.5L1293.6 1007.6L1295.3 1006.6L1297.0 1005.7L1298.7 1004.8L1300.4 1003.8L1302.1 1002.9L1303.9 1001.9L1305.6 1001.0L1307.3 1000.0L1309.0 999.1L1310.7 998.1L1312.4 997.1L1314.1 996.2L1315.8 995.2L1317.5 994.2L1319.2 993.2L1320.9 992.3L1322.6 991.3L1324.3 990.3L1326.0 989.3L1327.7 988.4L1329.4 987.4L1331.1 986.4L1332.8 985.5L1334.6 984.5L1336.3 983.6L1338.0 982.7L1339.7 981.7L1341.5 980.8L1343.2 979.9L1344.9 979.0L1346.7 978.2L1348.4 977.3L1350.2 976.4L1352.0 975.6L1353.7 974.8L1355.5 974.0L1357.3 973.2L1359.1 972.5L1360.9 971.8L1362.7 971.1L1364.6 970.4L1366.4 969.7L1368.3 969.1L1370.1 968.5L1372.0 967.9L1373.9 967.4L1375.8 966.9L1377.7 966.4L1379.6 965.9L1381.5 965.5L1383.5 965.1L1385.4 964.7L1387.3 964.4L1389.3 964.1L1391.2 963.9L1393.2 963.7L1395.2 963.5L1397.1 963.4L1399.1 963.3L1401.0 963.3L1403.0 963.3L1404.9 963.3L1406.9 963.4L1408.8 963.5L1410.8 963.7L1412.7 964.0L1414.6 964.2L1416.5 964.6L1418.4 964.9L1420.3 965.4L1422.1 965.8L1424.0 966.4L1425.8 967.0L1427.6 967.6L1429.5 968.3L1431.2 969.1L1433.0 969.9L1434.8 970.7L1436.5 971.6L1438.2 972.5L1439.9 973.5L1441.6 974.5L1443.3 975.5L1445.0 976.6L1446.6 977.7L1448.2 978.9L1449.8 980.0L1451.4 981.2L1453.0 982.4L1454.6 983.6L1456.2 984.9L1457.7 986.1L1459.2 987.4L1460.7 988.7L1462.2 990.0L1463.7 991.3L1465.2 992.6L1466.7 993.9L1468.1 995.2L1469.6 996.5L1471.0 997.9L1472.4 999.2L1473.8 1000.6L1475.2 1001.9L1476.7 1003.3L1478.1 1004.6L1479.4 1006.0L1480.8 1007.4L1482.2 1008.7L1483.6 1010.1" fill="none" stroke="#00a6a6" stroke-width="7.20" stroke-linejoin="round" stroke-linecap="butt" stroke-miterlimit="10"/>
<path d="M1349.8 733.7L1348.4 732.3L1347.0 731.0L1345.6 729.6L1344.2 728.2L1342.9 726.9L1341.5 725.5L1340.1 724.2L1338.7 722.8L1337.3 721.5L1335.9 720.1L1334.5 718.8L1333.0 717.5L1331.6 716.2L1330.2 714.9L1328.7 713.6L1327.3 712.3L1325.8 711.0L1324.4 709.7L1322.9 708.4L1321.4 707.2L1319.9 706.0L1318.3 704.7L1316.8 703.5L1315.3 702.3L1313.7 701.1L1312.2 700.0L1310.6 698.8L1309.0 697.6L1307.4 696.5L1305.8 695.4L1304.2 694.3L1302.5 693.2L1300.9 692.1L1299.2 691.0L1297.6 690.0L1295.9 688.9L1294.2 687.9L1292.5 686.9L1290.8 685.9L1289.1 684.9L1287.4 683.9L1285.6 683.0L1283.9 682.0L1282.1 681.1L1280.3 680.3L1278.6 679.5L1276.8 678.7L1275.0 678.0L1273.1 677.4L1271.3 676.8L1269.4 676.2L1267.6 675.8L1265.7 675.4L1263.8 675.2L1261.8 675.0L1259.9 674.9L1257.9 674.9L1256.0 675.0L1254.0 675.2L1252.0 675.5L1250.0 676.0L1248.1 676.6L1246.3 677.4L1244.6 678.4L1243.0 679.5L1241.6 680.8L1240.4 682.2L1239.3 683.7L1238.3 685.4L1237.5 687.1L1236.8 688.9L1236.2 690.8L1235.6 692.7L1235.1 694.6L1234.7 696.5L1234.2 698.4L1233.8 700.4L1233.5 702.3L1233.1 704.2L1232.8 706.2L1232.5 708.1L1232.3 710.1L1232.1 712.0L1231.9 713.9L1231.7 715.9L1231.6 717.8L1231.5 719.8L1231.4 721.7L1231.3 723.7L1231.2 725.6L1231.2 727.6L1231.2 729.6L1231.1 731.5L1231.2 733.5L1231.2 735.4L1231.2 737.4L1231.2 739.4L1231.3 741.3L1231.3 743.3L1231.4 745.2L1231.5 747.2L1231.5 749.1L1231.6 751.1L1231.7 753.1L1231.8 755.0L1231.9 757.0L1232.0 758.9L1232.1 760.9L1232.2 762.8L1232.4 764.8L1232.5 766.8L1232.6 768.7L1232.8 770.7L1232.9 772.6L1233.1 774.6L1233.3 776.5L1233.5 778.5L1233.6 780.4L1233.8 782.4L1234.0 784.3L1234.2 786.3L1234.5 788.2L1234.7 790.1L1234.9 792.1L1235.2 794.0L1235.4 796.0L1235.7 797.9L1235.9 799.8L1236.2 801.8L1236.5 803.7L1236.8 805.6L1237.1 807.6L1237.4 809.5L1237.7 811.4L1238.0 813.3L1238.4 815.3L1238.7 817.2L1239.1 819.1L1239.5 821.0L1239.9 822.9L1240.2 824.9L1240.6 826.8L1241.1 828.7L1241.5 830.6L1241.9 832.5L1242.4 834.4L1242.8 836.3L1243.3 838.2L1243.8 840.1L1244.2 842.0L1244.7 843.9L1245.2 845.8L1245.8 847.7L1246.3 849.5L1246.8 851.4L1247.4 853.3L1248.0 855.2L1248.6 857.0L1249.1 858.9L1249.8 860.8L1250.4 862.6L1251.0 864.5L1251.6 866.4L1252.3 868.2L1253.0 870.1L1253.6 871.9L1253.0 873.7L1252.3 875.6L1251.6 877.4L1251.0 879.3L1250.4 881.2L1249.8 883.0L1249.1 884.9L1248.6 886.8L1248.0 888.6L1247.4 890.5L1246.8 892.4L1246.3 894.3L1245.8 896.1L1245.2 898.0L1244.7 899.9L1244.2 901.8L1243.8 903.7L1243.3 905.6L1242.8 907.5L1242.4 909.4L1241.9 911.3L1241.5 913.2L1241.1 915.1L1240.6 917.0L1240.2 918.9L1239.9 920.9L1239.5 922.8L1239.1 924.7L1238.7 926.6L1238.4 928.5L1238.0 930.5L1237.7 932.4L1237.4 934.3L1237.1 936.2L1236.8 938.2L1236.5 940.1L1236.2 942.0L1235.9 944.0L1235.7 945.9L1235.4 947.8L1235.2 949.8L1234.9 951.7L1234.7 953.7L1234.5 955.6L1234.2 957.5L1234.0 959.5L1233.8 961.4L1233.6 963.4L1233.5 965.3L1233.3 967.3L1233.1 969.2L1232.9 971.2L1232.8 973.1L1232.6 975.1L1232.5 977.0L1232.4 979.0L1232.2 981.0L1232.1 982.9L1232.0 984.9L1231.9 986.8L1231.8 988.8L1231.7 990.7L1231.6 992.7L1231.5 994.7L1231.5 996.6L1231.4 998.6L1231.3 1000.5L1231.3 1002.5L1231.2 1004.4L1231.2 1006.4L1231.2 1008.4L1231.2 1010.3L1231.1 1012.3L1231.2 1014.2L1231.2 1016.2L1231.2 1018.2L1231.3 1020.1L1231.4 1022.1L1231.5 1024.0L1231.6 1026.0L1231.7 1027.9L1231.9 1029.9L1232.1 1031.8L1232.3 1033.7L1232.5 1035.7L1232.8 1037.6L1233.1 1039.6L1233.5 1041.5L1233.8 1043.4L1234.2 1045.4L1234.7 1047.3L1235.1 1049.2L1235.6 1051.1L1236.2 1053.0L1236.8 1054.9L1237.5 1056.7L1238.3 1058.4L1239.3 1060.1L1240.4 1061.6L1241.6 1063.0L1243.0 1064.3L1244.6 1065.4L1246.3 1066.4L1248.1 1067.2L1250.0 1067.8L1252.0 1068.3L1254.0 1068.6L1256.0 1068.8L1257.9 1068.9L1259.9 1068.9L1261.8 1068.8L1263.8 1068.6L1265.7 1068.4L1267.6 1068.0L1269.4 1067.6L1271.3 1067.0L1273.1 1066.4L1275.0 1065.8L1276.8 1065.1L1278.6 1064.3L1280.3 1063.5L1282.1 1062.7L1283.9 1061.8L1285.6 1060.8L1287.4 1059.9L1289.1 1058.9L1290.8 1057.9L1292.5 1056.9L1294.2 1055.9L1295.9 1054.9L1297.6 1053.8L1299.2 1052.8L1300.9 1051.7L1302.5 1050.6L1304.2 1049.5L1305.8 1048.4L1307.4 1047.3L1309.0 1046.2L1310.6 1045.0L1312.2 1043.8L1313.7 1042.7L1315.3 1041.5L1316.8 1040.3L1318.3 1039.1L1319.9 1037.8L1321.4 1036.6L1322.9 1035.4L1324.4 1034.1L1325.8 1032.8L1327.3 1031.5L1328.7 1030.2L1330.2 1028.9L1331.6 1027.6L1333.0 1026.3L1334.5 1025.0L1335.9 1023.7L1337.3 1022.3L1338.7 1021.0L1340.1 1019.6L1341.5 1018.3L1342.9 1016.9L1344.2 1015.6L1345.6 1014.2L1347.0 1012.8L1348.4 1011.5L1349.8 1010.1" fill="none" stroke="#00a6a6" stroke-width="7.20" stroke-linejoin="bevel" stroke-linecap="butt" stroke-miterlimit="10"/>
<path d="M1629.2 682.6L1629.0 685.9L1628.8 689.1L1628.6 692.3L1628.4 695.6L1628.3 698.8L1628.1 702.0L1627.9 705.3L1627.7 708.5L1627.5 711.8L1627.3 715.0L1627.1 718.3L1626.9 721.5L1626.7 724.8L1626.5 728.0L1626.3 731.3L1626.1 734.5L1625.9 737.8L1625.6 741.0L1625.4 744.2L1625.1 747.5L1624.9 750.7L1624.6 754.0L1624.4 757.2L1624.1 760.5L1623.8 763.7L1623.5 766.9L1623.1 770.2L1622.8 773.4L1622.5 776.7L1622.1 779.9L1621.7 783.1L1621.3 786.3L1620.9 789.6L1620.5 792.8L1620.1 796.0L1619.6 799.2L1619.1 802.4L1618.6 805.6L1618.1 808.8L1617.6 812.0L1617.0 815.2L1616.4 818.4L1615.8 821.6L1615.2 824.8L1614.5 828.0L1613.8 831.1L1613.1 834.3L1612.4 837.5L1611.6 840.6L1610.8 843.8L1610.0 846.9L1609.2 850.1L1608.3 853.2L1607.4 856.3L1606.5 859.5L1605.5 862.6L1604.5 865.7L1603.5 868.8L1602.6 871.9L1603.5 875.0L1604.5 878.1L1605.5 881.2L1606.5 884.3L1607.4 887.5L1608.3 890.6L1609.2 893.7L1610.0 896.9L1610.8 900.0L1611.6 903.2L1612.4 906.3L1613.1 909.5L1613.8 912.7L1614.5 915.8L1615.2 919.0L1615.8 922.2L1616.4 925.4L1617.0 928.6L1617.6 931.8L1618.1 935.0L1618.6 938.2L1619.1 941.4L1619.6 944.6L1620.1 947.8L1620.5 951.0L1620.9 954.2L1621.3 957.5L1621.7 960.7L1622.1 963.9L1622.5 967.1L1622.8 970.4L1623.1 973.6L1623.5 976.9L1623.8 980.1L1624.1 983.3L1624.4 986.6L1624.6 989.8L1624.9 993.1L1625.1 996.3L1625.4 999.6L1625.6 1002.8L1625.9 1006.0L1626.1 1009.3L1626.3 1012.5L1626.5 1015.8L1626.7 1019.0L1626.9 1022.3L1627.1 1025.5L1627.3 1028.8L1627.5 1032.0L1627.7 1035.3L1627.9 1038.5L1628.1 1041.8L1628.3 1045.0L1628.4 1048.2L1628.6 1051.5L1628.8 1054.7L1629.0 1057.9L1629.2 1061.2" fill="none" stroke="#00a6a6" stroke-width="7.20" stroke-linejoin="bevel" stroke-linecap="butt" stroke-miterlimit="10"/>
</g>
</g>
<path d="M1194.80 871.60H1636.50" stroke="#000" stroke-opacity="0.5" stroke-width="1.3" stroke-dasharray="6.1 5.8" fill="none"/>
<path d="M1213.90 1088.90L1213.90 1085.70M1213.90 653.70L1213.90 656.90M1281.50 1088.90L1281.50 1085.70M1281.50 653.70L1281.50 656.90M1349.10 1088.90L1349.10 1085.70M1349.10 653.70L1349.10 656.90M1416.70 1088.90L1416.70 1085.70M1416.70 653.70L1416.70 656.90M1484.30 1088.90L1484.30 1085.70M1484.30 653.70L1484.30 656.90M1551.90 1088.90L1551.90 1085.70M1551.90 653.70L1551.90 656.90M1619.50 1088.90L1619.50 1085.70M1619.50 653.70L1619.50 656.90M1197.50 1059.80L1200.70 1059.80M1636.50 1059.80L1633.30 1059.80M1197.50 965.70L1200.70 965.70M1636.50 965.70L1633.30 965.70M1197.50 871.60L1200.70 871.60M1636.50 871.60L1633.30 871.60M1197.50 777.50L1200.70 777.50M1636.50 777.50L1633.30 777.50M1197.50 683.40L1200.70 683.40M1636.50 683.40L1633.30 683.40" stroke="#505050" stroke-width="1.7" fill="none"/>
<path d="M1200.38 1088.90L1200.38 1087.80M1200.38 653.70L1200.38 654.80M1227.42 1088.90L1227.42 1087.80M1227.42 653.70L1227.42 654.80M1240.94 1088.90L1240.94 1087.80M1240.94 653.70L1240.94 654.80M1254.46 1088.90L1254.46 1087.80M1254.46 653.70L1254.46 654.80M1267.98 1088.90L1267.98 1087.80M1267.98 653.70L1267.98 654.80M1295.02 1088.90L1295.02 1087.80M1295.02 653.70L1295.02 654.80M1308.54 1088.90L1308.54 1087.80M1308.54 653.70L1308.54 654.80M1322.06 1088.90L1322.06 1087.80M1322.06 653.70L1322.06 654.80M1335.58 1088.90L1335.58 1087.80M1335.58 653.70L1335.58 654.80M1362.62 1088.90L1362.62 1087.80M1362.62 653.70L1362.62 654.80M1376.14 1088.90L1376.14 1087.80M1376.14 653.70L1376.14 654.80M1389.66 1088.90L1389.66 1087.80M1389.66 653.70L1389.66 654.80M1403.18 1088.90L1403.18 1087.80M1403.18 653.70L1403.18 654.80M1430.22 1088.90L1430.22 1087.80M1430.22 653.70L1430.22 654.80M1443.74 1088.90L1443.74 1087.80M1443.74 653.70L1443.74 654.80M1457.26 1088.90L1457.26 1087.80M1457.26 653.70L1457.26 654.80M1470.78 1088.90L1470.78 1087.80M1470.78 653.70L1470.78 654.80M1497.82 1088.90L1497.82 1087.80M1497.82 653.70L1497.82 654.80M1511.34 1088.90L1511.34 1087.80M1511.34 653.70L1511.34 654.80M1524.86 1088.90L1524.86 1087.80M1524.86 653.70L1524.86 654.80M1538.38 1088.90L1538.38 1087.80M1538.38 653.70L1538.38 654.80M1565.42 1088.90L1565.42 1087.80M1565.42 653.70L1565.42 654.80M1578.94 1088.90L1578.94 1087.80M1578.94 653.70L1578.94 654.80M1592.46 1088.90L1592.46 1087.80M1592.46 653.70L1592.46 654.80M1605.98 1088.90L1605.98 1087.80M1605.98 653.70L1605.98 654.80M1633.02 1088.90L1633.02 1087.80M1633.02 653.70L1633.02 654.80M1197.50 1078.62L1198.60 1078.62M1636.50 1078.62L1635.40 1078.62M1197.50 1040.98L1198.60 1040.98M1636.50 1040.98L1635.40 1040.98M1197.50 1022.16L1198.60 1022.16M1636.50 1022.16L1635.40 1022.16M1197.50 1003.34L1198.60 1003.34M1636.50 1003.34L1635.40 1003.34M1197.50 984.52L1198.60 984.52M1636.50 984.52L1635.40 984.52M1197.50 946.88L1198.60 946.88M1636.50 946.88L1635.40 946.88M1197.50 928.06L1198.60 928.06M1636.50 928.06L1635.40 928.06M1197.50 909.24L1198.60 909.24M1636.50 909.24L1635.40 909.24M1197.50 890.42L1198.60 890.42M1636.50 890.42L1635.40 890.42M1197.50 852.78L1198.60 852.78M1636.50 852.78L1635.40 852.78M1197.50 833.96L1198.60 833.96M1636.50 833.96L1635.40 833.96M1197.50 815.14L1198.60 815.14M1636.50 815.14L1635.40 815.14M1197.50 796.32L1198.60 796.32M1636.50 796.32L1635.40 796.32M1197.50 758.68L1198.60 758.68M1636.50 758.68L1635.40 758.68M1197.50 739.86L1198.60 739.86M1636.50 739.86L1635.40 739.86M1197.50 721.04L1198.60 721.04M1636.50 721.04L1635.40 721.04M1197.50 702.22L1198.60 702.22M1636.50 702.22L1635.40 702.22M1197.50 664.58L1198.60 664.58M1636.50 664.58L1635.40 664.58" stroke="#666" stroke-width="1.5" fill="none"/>
<rect x="1196.00" y="652.20" width="442.00" height="438.20" fill="none" stroke="#000" stroke-width="3.00"/>
<text><tspan x="1198.44" y="1119.91" textLength="14.32" lengthAdjust="spacingAndGlyphs" font-family="'Liberation Sans',sans-serif" font-weight="bold" font-style="normal" font-size="24.69" fill="#626262">−</tspan><tspan x="1213.52" y="1117.40" font-family="'Liberation Sans',sans-serif" font-weight="bold" font-style="normal" font-size="23.50" fill="#626262">3</tspan></text>
<text><tspan x="1266.23" y="1119.91" textLength="14.32" lengthAdjust="spacingAndGlyphs" font-family="'Liberation Sans',sans-serif" font-weight="bold" font-style="normal" font-size="24.69" fill="#626262">−</tspan><tspan x="1281.03" y="1117.40" font-family="'Liberation Sans',sans-serif" font-weight="bold" font-style="normal" font-size="23.50" fill="#626262">2</tspan></text>
<text><tspan x="1334.01" y="1119.91" textLength="14.32" lengthAdjust="spacingAndGlyphs" font-family="'Liberation Sans',sans-serif" font-weight="bold" font-style="normal" font-size="24.69" fill="#626262">−</tspan><tspan x="1348.15" y="1117.40" font-family="'Liberation Sans',sans-serif" font-weight="bold" font-style="normal" font-size="23.50" fill="#626262">1</tspan></text>
<text><tspan x="1409.28" y="1117.40" font-family="'Liberation Sans',sans-serif" font-weight="bold" font-style="normal" font-size="23.50" fill="#626262">0</tspan></text>
<text><tspan x="1476.45" y="1117.40" font-family="'Liberation Sans',sans-serif" font-weight="bold" font-style="normal" font-size="23.50" fill="#626262">1</tspan></text>
<text><tspan x="1544.53" y="1117.40" font-family="'Liberation Sans',sans-serif" font-weight="bold" font-style="normal" font-size="23.50" fill="#626262">2</tspan></text>
<text><tspan x="1612.22" y="1117.40" font-family="'Liberation Sans',sans-serif" font-weight="bold" font-style="normal" font-size="23.50" fill="#626262">3</tspan></text>
<text><tspan x="1162.47" y="1070.46" textLength="14.32" lengthAdjust="spacingAndGlyphs" font-family="'Liberation Sans',sans-serif" font-weight="bold" font-style="normal" font-size="24.69" fill="#626262">−</tspan><tspan x="1177.27" y="1067.95" font-family="'Liberation Sans',sans-serif" font-weight="bold" font-style="normal" font-size="23.50" fill="#626262">2</tspan></text>
<text><tspan x="1162.85" y="976.36" textLength="14.32" lengthAdjust="spacingAndGlyphs" font-family="'Liberation Sans',sans-serif" font-weight="bold" font-style="normal" font-size="24.69" fill="#626262">−</tspan><tspan x="1176.98" y="973.85" font-family="'Liberation Sans',sans-serif" font-weight="bold" font-style="normal" font-size="23.50" fill="#626262">1</tspan></text>
<text><tspan x="1177.29" y="879.75" font-family="'Liberation Sans',sans-serif" font-weight="bold" font-style="normal" font-size="23.50" fill="#626262">0</tspan></text>
<text><tspan x="1176.98" y="785.65" font-family="'Liberation Sans',sans-serif" font-weight="bold" font-style="normal" font-size="23.50" fill="#626262">1</tspan></text>
<text><tspan x="1177.27" y="691.55" font-family="'Liberation Sans',sans-serif" font-weight="bold" font-style="normal" font-size="23.50" fill="#626262">2</tspan></text>
</g>
<text><tspan x="26.89" y="21.59" textLength="14.50" lengthAdjust="spacingAndGlyphs" font-family="'Liberation Sans',sans-serif" font-weight="bold" font-style="normal" font-size="26.47" fill="#000" stroke="#000" stroke-width="0.45" stroke-linejoin="round">a</tspan><tspan x="44.66" y="21.30" textLength="6.69" lengthAdjust="spacingAndGlyphs" font-family="'Liberation Sans',sans-serif" font-weight="bold" font-style="normal" font-size="20.14" fill="#000" stroke="#000" stroke-width="2.6" stroke-linejoin="round">.</tspan><tspan> </tspan><tspan x="92.61" y="21.60" textLength="29.81" lengthAdjust="spacingAndGlyphs" font-family="'Liberation Sans',sans-serif" font-weight="bold" font-style="normal" font-size="27.47" fill="#000" stroke="#000" stroke-width="0.9" stroke-linejoin="round">ZE</tspan><tspan> </tspan><tspan x="139.34" y="21.60" textLength="58.43" lengthAdjust="spacingAndGlyphs" font-family="'Liberation Sans',sans-serif" font-weight="bold" font-style="normal" font-size="28.36" fill="#000" stroke="#000" stroke-width="0.45" stroke-linejoin="round">with</tspan><tspan> </tspan><tspan x="212.55" y="21.78" textLength="19.35" lengthAdjust="spacingAndGlyphs" font-family="'Liberation Serif',serif" font-weight="bold" font-style="italic" font-size="33.93" fill="#000" stroke="#fff" stroke-width="0.5">γ</tspan><tspan> </tspan><tspan x="240.76" y="23.71" textLength="24.52" lengthAdjust="spacingAndGlyphs" font-family="'Liberation Serif',serif" font-weight="bold" font-style="normal" font-size="32.59" fill="#000">=</tspan><tspan> </tspan><tspan x="273.38" y="21.90" textLength="20.10" lengthAdjust="spacingAndGlyphs" font-family="'Liberation Serif',serif" font-weight="bold" font-style="normal" font-size="32.42" fill="#000">1</tspan><tspan x="292.82" y="21.73" textLength="6.17" lengthAdjust="spacingAndGlyphs" font-family="'Liberation Serif',serif" font-weight="bold" font-style="normal" font-size="25.91" fill="#000">.</tspan><tspan x="297.65" y="21.90" textLength="19.69" lengthAdjust="spacingAndGlyphs" font-family="'Liberation Serif',serif" font-weight="bold" font-style="normal" font-size="32.42" fill="#000">1</tspan><tspan> </tspan><tspan x="332.23" y="21.57" textLength="49.55" lengthAdjust="spacingAndGlyphs" font-family="'Liberation Sans',sans-serif" font-weight="bold" font-style="normal" font-size="28.32" fill="#000" stroke="#000" stroke-width="0.45" stroke-linejoin="round">and</tspan><tspan> </tspan><tspan x="398.31" y="21.54" textLength="20.97" lengthAdjust="spacingAndGlyphs" font-family="'Liberation Serif',serif" font-weight="bold" font-style="italic" font-size="31.06" fill="#000" stroke="#000" stroke-width="0.6">D</tspan><tspan> </tspan><tspan x="429.35" y="23.71" textLength="24.64" lengthAdjust="spacingAndGlyphs" font-family="'Liberation Serif',serif" font-weight="bold" font-style="normal" font-size="32.59" fill="#000">=</tspan><tspan> </tspan><tspan x="462.53" y="21.88" textLength="18.05" lengthAdjust="spacingAndGlyphs" font-family="'Liberation Serif',serif" font-weight="bold" font-style="normal" font-size="32.45" fill="#000">0</tspan></text>
<text><tspan x="583.54" y="25.57" textLength="17.70" lengthAdjust="spacingAndGlyphs" font-family="'Liberation Sans',sans-serif" font-weight="bold" font-style="normal" font-size="28.32" fill="#000" stroke="#000" stroke-width="0.45" stroke-linejoin="round">b</tspan><tspan x="603.16" y="25.30" textLength="6.69" lengthAdjust="spacingAndGlyphs" font-family="'Liberation Sans',sans-serif" font-weight="bold" font-style="normal" font-size="20.14" fill="#000" stroke="#000" stroke-width="2.6" stroke-linejoin="round">.</tspan><tspan> </tspan><tspan x="642.71" y="25.60" textLength="29.81" lengthAdjust="spacingAndGlyphs" font-family="'Liberation Sans',sans-serif" font-weight="bold" font-style="normal" font-size="27.47" fill="#000" stroke="#000" stroke-width="0.9" stroke-linejoin="round">ZE</tspan><tspan> </tspan><tspan x="689.44" y="25.60" textLength="58.43" lengthAdjust="spacingAndGlyphs" font-family="'Liberation Sans',sans-serif" font-weight="bold" font-style="normal" font-size="28.36" fill="#000" stroke="#000" stroke-width="0.45" stroke-linejoin="round">with</tspan><tspan> </tspan><tspan x="762.65" y="25.78" textLength="19.35" lengthAdjust="spacingAndGlyphs" font-family="'Liberation Serif',serif" font-weight="bold" font-style="italic" font-size="33.93" fill="#000" stroke="#fff" stroke-width="0.5">γ</tspan><tspan> </tspan><tspan x="790.86" y="27.71" textLength="24.52" lengthAdjust="spacingAndGlyphs" font-family="'Liberation Serif',serif" font-weight="bold" font-style="normal" font-size="32.59" fill="#000">=</tspan><tspan> </tspan><tspan x="823.48" y="25.90" textLength="20.10" lengthAdjust="spacingAndGlyphs" font-family="'Liberation Serif',serif" font-weight="bold" font-style="normal" font-size="32.42" fill="#000">1</tspan><tspan x="843.39" y="25.73" textLength="6.32" lengthAdjust="spacingAndGlyphs" font-family="'Liberation Serif',serif" font-weight="bold" font-style="normal" font-size="25.91" fill="#000">.</tspan><tspan x="854.69" y="25.90" textLength="19.42" lengthAdjust="spacingAndGlyphs" font-family="'Liberation Serif',serif" font-weight="bold" font-style="normal" font-size="32.42" fill="#000">1</tspan><tspan> </tspan><tspan x="889.23" y="25.57" textLength="49.55" lengthAdjust="spacingAndGlyphs" font-family="'Liberation Sans',sans-serif" font-weight="bold" font-style="normal" font-size="28.32" fill="#000" stroke="#000" stroke-width="0.45" stroke-linejoin="round">and</tspan><tspan> </tspan><tspan x="955.31" y="25.54" textLength="20.97" lengthAdjust="spacingAndGlyphs" font-family="'Liberation Serif',serif" font-weight="bold" font-style="italic" font-size="31.06" fill="#000" stroke="#000" stroke-width="0.6">D</tspan><tspan> </tspan><tspan x="986.35" y="27.71" textLength="24.64" lengthAdjust="spacingAndGlyphs" font-family="'Liberation Serif',serif" font-weight="bold" font-style="normal" font-size="32.59" fill="#000">=</tspan><tspan> </tspan><tspan x="1019.53" y="25.88" textLength="18.05" lengthAdjust="spacingAndGlyphs" font-family="'Liberation Serif',serif" font-weight="bold" font-style="normal" font-size="32.45" fill="#000">0</tspan><tspan x="1038.52" y="25.73" textLength="6.17" lengthAdjust="spacingAndGlyphs" font-family="'Liberation Serif',serif" font-weight="bold" font-style="normal" font-size="25.91" fill="#000">.</tspan><tspan x="1050.05" y="25.90" textLength="19.69" lengthAdjust="spacingAndGlyphs" font-family="'Liberation Serif',serif" font-weight="bold" font-style="normal" font-size="32.42" fill="#000">1</tspan><tspan> </tspan><tspan x="1074.85" y="31.11" textLength="13.06" lengthAdjust="spacingAndGlyphs" font-family="'Liberation Serif',serif" font-weight="bold" font-style="italic" font-size="40.33" fill="#000" stroke="#000" stroke-width="0.8">J</tspan></text>
<text><tspan x="1152.85" y="23.39" textLength="12.77" lengthAdjust="spacingAndGlyphs" font-family="'Liberation Sans',sans-serif" font-weight="bold" font-style="normal" font-size="26.47" fill="#000" stroke="#000" stroke-width="0.45" stroke-linejoin="round">c</tspan><tspan x="1168.06" y="23.10" textLength="6.30" lengthAdjust="spacingAndGlyphs" font-family="'Liberation Sans',sans-serif" font-weight="bold" font-style="normal" font-size="20.14" fill="#000" stroke="#000" stroke-width="2.6" stroke-linejoin="round">.</tspan><tspan> </tspan><tspan x="1192.31" y="23.40" textLength="29.81" lengthAdjust="spacingAndGlyphs" font-family="'Liberation Sans',sans-serif" font-weight="bold" font-style="normal" font-size="27.47" fill="#000" stroke="#000" stroke-width="0.9" stroke-linejoin="round">ZE</tspan><tspan> </tspan><tspan x="1239.04" y="23.40" textLength="58.43" lengthAdjust="spacingAndGlyphs" font-family="'Liberation Sans',sans-serif" font-weight="bold" font-style="normal" font-size="28.36" fill="#000" stroke="#000" stroke-width="0.45" stroke-linejoin="round">with</tspan><tspan> </tspan><tspan x="1312.25" y="23.58" textLength="19.35" lengthAdjust="spacingAndGlyphs" font-family="'Liberation Serif',serif" font-weight="bold" font-style="italic" font-size="33.93" fill="#000" stroke="#fff" stroke-width="0.5">γ</tspan><tspan> </tspan><tspan x="1340.46" y="25.51" textLength="24.52" lengthAdjust="spacingAndGlyphs" font-family="'Liberation Serif',serif" font-weight="bold" font-style="normal" font-size="32.59" fill="#000">=</tspan><tspan> </tspan><tspan x="1373.08" y="23.70" textLength="20.10" lengthAdjust="spacingAndGlyphs" font-family="'Liberation Serif',serif" font-weight="bold" font-style="normal" font-size="32.42" fill="#000">1</tspan><tspan x="1392.99" y="23.53" textLength="6.32" lengthAdjust="spacingAndGlyphs" font-family="'Liberation Serif',serif" font-weight="bold" font-style="normal" font-size="25.91" fill="#000">.</tspan><tspan x="1404.29" y="23.70" textLength="19.42" lengthAdjust="spacingAndGlyphs" font-family="'Liberation Serif',serif" font-weight="bold" font-style="normal" font-size="32.42" fill="#000">1</tspan><tspan> </tspan><tspan x="1438.83" y="23.37" textLength="49.55" lengthAdjust="spacingAndGlyphs" font-family="'Liberation Sans',sans-serif" font-weight="bold" font-style="normal" font-size="28.32" fill="#000" stroke="#000" stroke-width="0.45" stroke-linejoin="round">and</tspan><tspan> </tspan><tspan x="1504.91" y="23.34" textLength="20.97" lengthAdjust="spacingAndGlyphs" font-family="'Liberation Serif',serif" font-weight="bold" font-style="italic" font-size="31.06" fill="#000" stroke="#000" stroke-width="0.6">D</tspan><tspan> </tspan><tspan x="1535.95" y="25.51" textLength="24.64" lengthAdjust="spacingAndGlyphs" font-family="'Liberation Serif',serif" font-weight="bold" font-style="normal" font-size="32.59" fill="#000">=</tspan><tspan> </tspan><tspan x="1569.13" y="23.68" textLength="18.05" lengthAdjust="spacingAndGlyphs" font-family="'Liberation Serif',serif" font-weight="bold" font-style="normal" font-size="32.45" fill="#000">0</tspan><tspan x="1588.12" y="23.53" textLength="6.17" lengthAdjust="spacingAndGlyphs" font-family="'Liberation Serif',serif" font-weight="bold" font-style="normal" font-size="25.91" fill="#000">.</tspan><tspan x="1599.31" y="23.70" textLength="18.91" lengthAdjust="spacingAndGlyphs" font-family="'Liberation Serif',serif" font-weight="bold" font-style="normal" font-size="32.62" fill="#000">2</tspan><tspan> </tspan><tspan x="1624.45" y="28.91" textLength="13.06" lengthAdjust="spacingAndGlyphs" font-family="'Liberation Serif',serif" font-weight="bold" font-style="italic" font-size="40.33" fill="#000" stroke="#000" stroke-width="0.8">J</tspan></text>
<text><tspan x="24.69" y="626.67" textLength="17.21" lengthAdjust="spacingAndGlyphs" font-family="'Liberation Sans',sans-serif" font-weight="bold" font-style="normal" font-size="28.32" fill="#000" stroke="#000" stroke-width="0.45" stroke-linejoin="round">d</tspan><tspan x="44.36" y="626.40" textLength="6.69" lengthAdjust="spacingAndGlyphs" font-family="'Liberation Sans',sans-serif" font-weight="bold" font-style="normal" font-size="20.14" fill="#000" stroke="#000" stroke-width="2.6" stroke-linejoin="round">.</tspan><tspan> </tspan><tspan x="92.05" y="626.70" textLength="32.26" lengthAdjust="spacingAndGlyphs" font-family="'Liberation Sans',sans-serif" font-weight="bold" font-style="normal" font-size="27.47" fill="#000" stroke="#000" stroke-width="0.9" stroke-linejoin="round">BE</tspan><tspan> </tspan><tspan x="141.24" y="626.70" textLength="58.43" lengthAdjust="spacingAndGlyphs" font-family="'Liberation Sans',sans-serif" font-weight="bold" font-style="normal" font-size="28.36" fill="#000" stroke="#000" stroke-width="0.45" stroke-linejoin="round">with</tspan><tspan> </tspan><tspan x="214.45" y="626.88" textLength="19.35" lengthAdjust="spacingAndGlyphs" font-family="'Liberation Serif',serif" font-weight="bold" font-style="italic" font-size="33.93" fill="#000" stroke="#fff" stroke-width="0.5">γ</tspan><tspan> </tspan><tspan x="242.66" y="628.81" textLength="24.52" lengthAdjust="spacingAndGlyphs" font-family="'Liberation Serif',serif" font-weight="bold" font-style="normal" font-size="32.59" fill="#000">=</tspan><tspan> </tspan><tspan x="275.28" y="627.00" textLength="20.10" lengthAdjust="spacingAndGlyphs" font-family="'Liberation Serif',serif" font-weight="bold" font-style="normal" font-size="32.42" fill="#000">1</tspan><tspan x="295.19" y="626.83" textLength="6.32" lengthAdjust="spacingAndGlyphs" font-family="'Liberation Serif',serif" font-weight="bold" font-style="normal" font-size="25.91" fill="#000">.</tspan><tspan x="306.49" y="627.00" textLength="19.42" lengthAdjust="spacingAndGlyphs" font-family="'Liberation Serif',serif" font-weight="bold" font-style="normal" font-size="32.42" fill="#000">1</tspan><tspan> </tspan><tspan x="341.03" y="626.67" textLength="49.55" lengthAdjust="spacingAndGlyphs" font-family="'Liberation Sans',sans-serif" font-weight="bold" font-style="normal" font-size="28.32" fill="#000" stroke="#000" stroke-width="0.45" stroke-linejoin="round">and</tspan><tspan> </tspan><tspan x="407.11" y="626.64" textLength="20.97" lengthAdjust="spacingAndGlyphs" font-family="'Liberation Serif',serif" font-weight="bold" font-style="italic" font-size="31.06" fill="#000" stroke="#000" stroke-width="0.6">D</tspan><tspan> </tspan><tspan x="438.15" y="628.81" textLength="24.64" lengthAdjust="spacingAndGlyphs" font-family="'Liberation Serif',serif" font-weight="bold" font-style="normal" font-size="32.59" fill="#000">=</tspan><tspan> </tspan><tspan x="471.33" y="626.98" textLength="18.05" lengthAdjust="spacingAndGlyphs" font-family="'Liberation Serif',serif" font-weight="bold" font-style="normal" font-size="32.45" fill="#000">0</tspan></text>
<text><tspan x="582.05" y="630.89" textLength="15.66" lengthAdjust="spacingAndGlyphs" font-family="'Liberation Sans',sans-serif" font-weight="bold" font-style="normal" font-size="26.47" fill="#000" stroke="#000" stroke-width="0.45" stroke-linejoin="round">e</tspan><tspan x="600.31" y="630.60" textLength="6.50" lengthAdjust="spacingAndGlyphs" font-family="'Liberation Sans',sans-serif" font-weight="bold" font-style="normal" font-size="20.14" fill="#000" stroke="#000" stroke-width="2.6" stroke-linejoin="round">.</tspan><tspan> </tspan><tspan x="632.55" y="630.90" textLength="32.26" lengthAdjust="spacingAndGlyphs" font-family="'Liberation Sans',sans-serif" font-weight="bold" font-style="normal" font-size="27.47" fill="#000" stroke="#000" stroke-width="0.9" stroke-linejoin="round">BE</tspan><tspan> </tspan><tspan x="681.74" y="630.90" textLength="58.43" lengthAdjust="spacingAndGlyphs" font-family="'Liberation Sans',sans-serif" font-weight="bold" font-style="normal" font-size="28.36" fill="#000" stroke="#000" stroke-width="0.45" stroke-linejoin="round">with</tspan><tspan> </tspan><tspan x="754.95" y="631.08" textLength="19.35" lengthAdjust="spacingAndGlyphs" font-family="'Liberation Serif',serif" font-weight="bold" font-style="italic" font-size="33.93" fill="#000" stroke="#fff" stroke-width="0.5">γ</tspan><tspan> </tspan><tspan x="783.16" y="633.01" textLength="24.52" lengthAdjust="spacingAndGlyphs" font-family="'Liberation Serif',serif" font-weight="bold" font-style="normal" font-size="32.59" fill="#000">=</tspan><tspan> </tspan><tspan x="815.78" y="631.20" textLength="20.10" lengthAdjust="spacingAndGlyphs" font-family="'Liberation Serif',serif" font-weight="bold" font-style="normal" font-size="32.42" fill="#000">1</tspan><tspan x="835.69" y="631.03" textLength="6.32" lengthAdjust="spacingAndGlyphs" font-family="'Liberation Serif',serif" font-weight="bold" font-style="normal" font-size="25.91" fill="#000">.</tspan><tspan x="846.99" y="631.20" textLength="19.42" lengthAdjust="spacingAndGlyphs" font-family="'Liberation Serif',serif" font-weight="bold" font-style="normal" font-size="32.42" fill="#000">1</tspan><tspan> </tspan><tspan x="881.53" y="630.87" textLength="49.55" lengthAdjust="spacingAndGlyphs" font-family="'Liberation Sans',sans-serif" font-weight="bold" font-style="normal" font-size="28.32" fill="#000" stroke="#000" stroke-width="0.45" stroke-linejoin="round">and</tspan><tspan> </tspan><tspan x="947.61" y="630.84" textLength="20.97" lengthAdjust="spacingAndGlyphs" font-family="'Liberation Serif',serif" font-weight="bold" font-style="italic" font-size="31.06" fill="#000" stroke="#000" stroke-width="0.6">D</tspan><tspan> </tspan><tspan x="978.65" y="633.01" textLength="24.64" lengthAdjust="spacingAndGlyphs" font-family="'Liberation Serif',serif" font-weight="bold" font-style="normal" font-size="32.59" fill="#000">=</tspan><tspan> </tspan><tspan x="1011.83" y="631.18" textLength="18.05" lengthAdjust="spacingAndGlyphs" font-family="'Liberation Serif',serif" font-weight="bold" font-style="normal" font-size="32.45" fill="#000">0</tspan><tspan x="1030.82" y="631.03" textLength="6.17" lengthAdjust="spacingAndGlyphs" font-family="'Liberation Serif',serif" font-weight="bold" font-style="normal" font-size="25.91" fill="#000">.</tspan><tspan x="1042.35" y="631.20" textLength="19.69" lengthAdjust="spacingAndGlyphs" font-family="'Liberation Serif',serif" font-weight="bold" font-style="normal" font-size="32.42" fill="#000">1</tspan><tspan> </tspan><tspan x="1067.15" y="636.41" textLength="13.06" lengthAdjust="spacingAndGlyphs" font-family="'Liberation Serif',serif" font-weight="bold" font-style="italic" font-size="40.33" fill="#000" stroke="#000" stroke-width="0.8">J</tspan></text>
<text><tspan x="1152.82" y="628.75" textLength="10.27" lengthAdjust="spacingAndGlyphs" font-family="'Liberation Sans',sans-serif" font-weight="bold" font-style="normal" font-size="28.98" fill="#000" stroke="#000" stroke-width="0.45" stroke-linejoin="round">f</tspan><tspan x="1163.61" y="628.20" textLength="6.50" lengthAdjust="spacingAndGlyphs" font-family="'Liberation Sans',sans-serif" font-weight="bold" font-style="normal" font-size="20.14" fill="#000" stroke="#000" stroke-width="2.6" stroke-linejoin="round">.</tspan><tspan> </tspan><tspan x="1195.55" y="628.50" textLength="32.26" lengthAdjust="spacingAndGlyphs" font-family="'Liberation Sans',sans-serif" font-weight="bold" font-style="normal" font-size="27.47" fill="#000" stroke="#000" stroke-width="0.9" stroke-linejoin="round">BE</tspan><tspan> </tspan><tspan x="1244.74" y="628.50" textLength="58.43" lengthAdjust="spacingAndGlyphs" font-family="'Liberation Sans',sans-serif" font-weight="bold" font-style="normal" font-size="28.36" fill="#000" stroke="#000" stroke-width="0.45" stroke-linejoin="round">with</tspan><tspan> </tspan><tspan x="1317.95" y="628.68" textLength="19.35" lengthAdjust="spacingAndGlyphs" font-family="'Liberation Serif',serif" font-weight="bold" font-style="italic" font-size="33.93" fill="#000" stroke="#fff" stroke-width="0.5">γ</tspan><tspan> </tspan><tspan x="1346.16" y="630.61" textLength="24.52" lengthAdjust="spacingAndGlyphs" font-family="'Liberation Serif',serif" font-weight="bold" font-style="normal" font-size="32.59" fill="#000">=</tspan><tspan> </tspan><tspan x="1378.78" y="628.80" textLength="20.10" lengthAdjust="spacingAndGlyphs" font-family="'Liberation Serif',serif" font-weight="bold" font-style="normal" font-size="32.42" fill="#000">1</tspan><tspan x="1398.69" y="628.63" textLength="6.32" lengthAdjust="spacingAndGlyphs" font-family="'Liberation Serif',serif" font-weight="bold" font-style="normal" font-size="25.91" fill="#000">.</tspan><tspan x="1409.99" y="628.80" textLength="19.42" lengthAdjust="spacingAndGlyphs" font-family="'Liberation Serif',serif" font-weight="bold" font-style="normal" font-size="32.42" fill="#000">1</tspan><tspan> </tspan><tspan x="1444.53" y="628.47" textLength="49.55" lengthAdjust="spacingAndGlyphs" font-family="'Liberation Sans',sans-serif" font-weight="bold" font-style="normal" font-size="28.32" fill="#000" stroke="#000" stroke-width="0.45" stroke-linejoin="round">and</tspan><tspan> </tspan><tspan x="1510.61" y="628.44" textLength="20.97" lengthAdjust="spacingAndGlyphs" font-family="'Liberation Serif',serif" font-weight="bold" font-style="italic" font-size="31.06" fill="#000" stroke="#000" stroke-width="0.6">D</tspan><tspan> </tspan><tspan x="1541.65" y="630.61" textLength="24.64" lengthAdjust="spacingAndGlyphs" font-family="'Liberation Serif',serif" font-weight="bold" font-style="normal" font-size="32.59" fill="#000">=</tspan><tspan> </tspan><tspan x="1574.83" y="628.78" textLength="18.05" lengthAdjust="spacingAndGlyphs" font-family="'Liberation Serif',serif" font-weight="bold" font-style="normal" font-size="32.45" fill="#000">0</tspan><tspan x="1593.82" y="628.63" textLength="6.17" lengthAdjust="spacingAndGlyphs" font-family="'Liberation Serif',serif" font-weight="bold" font-style="normal" font-size="25.91" fill="#000">.</tspan><tspan x="1605.01" y="628.80" textLength="18.91" lengthAdjust="spacingAndGlyphs" font-family="'Liberation Serif',serif" font-weight="bold" font-style="normal" font-size="32.62" fill="#000">2</tspan><tspan> </tspan><tspan x="1630.15" y="634.01" textLength="13.06" lengthAdjust="spacingAndGlyphs" font-family="'Liberation Serif',serif" font-weight="bold" font-style="italic" font-size="40.33" fill="#000" stroke="#000" stroke-width="0.8">J</tspan></text>
<text transform="translate(20.19 277.13) rotate(-90)" font-family="'Liberation Serif',serif" font-weight="bold" font-style="normal" font-size="36.50" fill="#626262">q</text>
<text><tspan x="275.89" y="555.60" textLength="16.67" lengthAdjust="spacingAndGlyphs" font-family="'Liberation Sans',sans-serif" font-weight="bold" font-style="italic" font-size="28.40" fill="#626262">k</tspan><tspan x="293.90" y="561.20" textLength="11.41" lengthAdjust="spacingAndGlyphs" font-family="'Liberation Sans',sans-serif" font-weight="bold" font-style="italic" font-size="21.60" fill="#626262">x</tspan></text>
<text transform="translate(595.09 277.43) rotate(-90)" font-family="'Liberation Serif',serif" font-weight="bold" font-style="normal" font-size="36.50" fill="#626262">q</text>
<text><tspan x="850.19" y="554.30" textLength="16.67" lengthAdjust="spacingAndGlyphs" font-family="'Liberation Sans',sans-serif" font-weight="bold" font-style="italic" font-size="28.40" fill="#626262">k</tspan><tspan x="868.20" y="559.90" textLength="11.41" lengthAdjust="spacingAndGlyphs" font-family="'Liberation Sans',sans-serif" font-weight="bold" font-style="italic" font-size="21.60" fill="#626262">x</tspan></text>
<text transform="translate(1149.39 276.03) rotate(-90)" font-family="'Liberation Serif',serif" font-weight="bold" font-style="normal" font-size="36.50" fill="#626262">q</text>
<text><tspan x="1402.49" y="553.30" textLength="16.67" lengthAdjust="spacingAndGlyphs" font-family="'Liberation Sans',sans-serif" font-weight="bold" font-style="italic" font-size="28.40" fill="#626262">k</tspan><tspan x="1420.50" y="558.90" textLength="11.41" lengthAdjust="spacingAndGlyphs" font-family="'Liberation Sans',sans-serif" font-weight="bold" font-style="italic" font-size="21.60" fill="#626262">x</tspan></text>
<text transform="translate(19.59 882.03) rotate(-90)" font-family="'Liberation Serif',serif" font-weight="bold" font-style="normal" font-size="36.50" fill="#626262">q</text>
<text><tspan x="271.19" y="1158.00" textLength="16.67" lengthAdjust="spacingAndGlyphs" font-family="'Liberation Sans',sans-serif" font-weight="bold" font-style="italic" font-size="28.40" fill="#626262">k</tspan><tspan x="289.20" y="1163.60" textLength="11.41" lengthAdjust="spacingAndGlyphs" font-family="'Liberation Sans',sans-serif" font-weight="bold" font-style="italic" font-size="21.60" fill="#626262">x</tspan></text>
<text transform="translate(589.59 882.03) rotate(-90)" font-family="'Liberation Serif',serif" font-weight="bold" font-style="normal" font-size="36.50" fill="#626262">q</text>
<text><tspan x="842.79" y="1158.00" textLength="16.67" lengthAdjust="spacingAndGlyphs" font-family="'Liberation Sans',sans-serif" font-weight="bold" font-style="italic" font-size="28.40" fill="#626262">k</tspan><tspan x="860.80" y="1163.60" textLength="11.41" lengthAdjust="spacingAndGlyphs" font-family="'Liberation Sans',sans-serif" font-weight="bold" font-style="italic" font-size="21.60" fill="#626262">x</tspan></text>
<text transform="translate(1147.39 882.03) rotate(-90)" font-family="'Liberation Serif',serif" font-weight="bold" font-style="normal" font-size="36.50" fill="#626262">q</text>
<text><tspan x="1400.49" y="1157.00" textLength="16.67" lengthAdjust="spacingAndGlyphs" font-family="'Liberation Sans',sans-serif" font-weight="bold" font-style="italic" font-size="28.40" fill="#626262">k</tspan><tspan x="1418.50" y="1162.60" textLength="11.41" lengthAdjust="spacingAndGlyphs" font-family="'Liberation Sans',sans-serif" font-weight="bold" font-style="italic" font-size="21.60" fill="#626262">x</tspan></text>
</svg></body></html>
